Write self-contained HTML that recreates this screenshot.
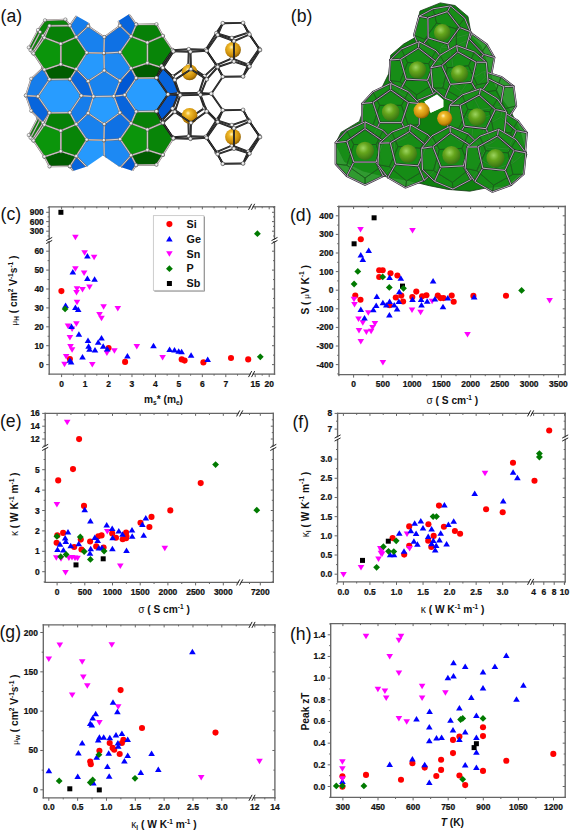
<!DOCTYPE html>
<html><head><meta charset="utf-8"><style>
html,body{margin:0;padding:0;background:#fff;}
body{width:571px;height:833px;overflow:hidden;}
svg{display:block;font-family:"Liberation Sans", sans-serif;}
</style></head><body>
<svg width="571" height="833" viewBox="0 0 571 833">
<defs>
<radialGradient id="ball" cx="0.38" cy="0.35" r="0.7"><stop offset="0" stop-color="#ffffff"/><stop offset="0.6" stop-color="#d8d8d8"/><stop offset="1" stop-color="#8a8a8a"/></radialGradient>
<radialGradient id="gold" cx="0.42" cy="0.38" r="0.7" fx="0.4" fy="0.33"><stop offset="0" stop-color="#fff4c0"/><stop offset="0.22" stop-color="#f2bc2c"/><stop offset="0.7" stop-color="#c88a08"/><stop offset="1" stop-color="#6a4400"/></radialGradient>
<clipPath id="clipA"><polygon points="0,14.5 74,14.5 86.5,21.5 102,31.5 117.5,21.5 128.5,14.5 285,14.5 285,172 136,172 119,166.5 103,155.5 87,166.5 70,172 0,172"/></clipPath>
</defs><g clip-path="url(#clipA)"><polygon points="45.0,20.3 65.4,19.5 70.2,25.6 48.9,25.6 44.1,37.4 33.7,52.6 28.8,47.5 38.0,30.0" fill="#0a840a" stroke="#7a7070" stroke-width="1.6" stroke-linejoin="round"/>
<polygon points="45.0,20.3 65.4,19.5 70.2,25.6 48.9,25.6 44.1,37.4 33.7,52.6 28.8,47.5 38.0,30.0" fill="none" stroke="#ece6e6" stroke-width="0.75" stroke-linejoin="round"/>
<line x1="40.1" y1="32.1" x2="30.6" y2="50.2" stroke="#7a7070" stroke-width="1.5"/>
<line x1="40.1" y1="32.1" x2="30.6" y2="50.2" stroke="#ece6e6" stroke-width="0.7"/>
<circle cx="38" cy="30.0" r="1.7" fill="url(#ball)" stroke="#555" stroke-width="0.45"/>
<circle cx="40.1" cy="32.1" r="1.7" fill="url(#ball)" stroke="#555" stroke-width="0.45"/>
<circle cx="28.8" cy="47.5" r="1.7" fill="url(#ball)" stroke="#555" stroke-width="0.45"/>
<circle cx="30.6" cy="50.2" r="1.7" fill="url(#ball)" stroke="#555" stroke-width="0.45"/>
<circle cx="45" cy="20.3" r="1.7" fill="url(#ball)" stroke="#555" stroke-width="0.45"/>
<circle cx="65.4" cy="19.5" r="1.7" fill="url(#ball)" stroke="#555" stroke-width="0.45"/>
<polygon points="40.5,114.0 44.5,118.0 44.1,125.0 33.7,140.2 28.8,135.1 38.0,117.6" fill="#0a840a" stroke="#7a7070" stroke-width="1.6" stroke-linejoin="round"/>
<polygon points="40.5,114.0 44.5,118.0 44.1,125.0 33.7,140.2 28.8,135.1 38.0,117.6" fill="none" stroke="#ece6e6" stroke-width="0.75" stroke-linejoin="round"/>
<line x1="40.1" y1="119.7" x2="30.6" y2="137.8" stroke="#7a7070" stroke-width="1.5"/>
<line x1="40.1" y1="119.7" x2="30.6" y2="137.8" stroke="#ece6e6" stroke-width="0.7"/>
<circle cx="38" cy="117.6" r="1.7" fill="url(#ball)" stroke="#555" stroke-width="0.45"/>
<circle cx="40.1" cy="119.7" r="1.7" fill="url(#ball)" stroke="#555" stroke-width="0.45"/>
<circle cx="28.8" cy="135.1" r="1.7" fill="url(#ball)" stroke="#555" stroke-width="0.45"/>
<circle cx="30.6" cy="137.8" r="1.7" fill="url(#ball)" stroke="#555" stroke-width="0.45"/><polygon points="178.8,93.2 168.0,94.4 156.5,111.3 161.6,121.0 172.6,108.6" fill="#0058d4" stroke="#0058d4" stroke-width="0.4"/>
<polygon points="178.8,93.2 168.0,94.4 156.5,111.3 161.6,121.0 172.6,108.6" fill="none" stroke="#7a7070" stroke-width="1.7" stroke-linejoin="round"/>
<polygon points="178.8,93.2 168.0,94.4 156.5,111.3 161.6,121.0 172.6,108.6" fill="none" stroke="#ece6e6" stroke-width="0.8" stroke-linejoin="round"/>
<circle cx="178.8" cy="93.2" r="1.7" fill="url(#ball)" stroke="#555" stroke-width="0.45"/>
<circle cx="168.0" cy="94.4" r="1.7" fill="url(#ball)" stroke="#555" stroke-width="0.45"/>
<circle cx="156.5" cy="111.3" r="1.7" fill="url(#ball)" stroke="#555" stroke-width="0.45"/>
<circle cx="161.6" cy="121.0" r="1.7" fill="url(#ball)" stroke="#555" stroke-width="0.45"/>
<circle cx="172.6" cy="108.6" r="1.7" fill="url(#ball)" stroke="#555" stroke-width="0.45"/>
<polygon points="145.3,126.4 161.6,121.0 156.5,111.3 136.2,111.6 129.8,121.5" fill="#0058d4" stroke="#0058d4" stroke-width="0.4"/>
<polygon points="145.3,126.4 161.6,121.0 156.5,111.3 136.2,111.6 129.8,121.5" fill="none" stroke="#7a7070" stroke-width="1.7" stroke-linejoin="round"/>
<polygon points="145.3,126.4 161.6,121.0 156.5,111.3 136.2,111.6 129.8,121.5" fill="none" stroke="#ece6e6" stroke-width="0.8" stroke-linejoin="round"/>
<circle cx="145.3" cy="126.4" r="1.7" fill="url(#ball)" stroke="#555" stroke-width="0.45"/>
<circle cx="161.6" cy="121.0" r="1.7" fill="url(#ball)" stroke="#555" stroke-width="0.45"/>
<circle cx="156.5" cy="111.3" r="1.7" fill="url(#ball)" stroke="#555" stroke-width="0.45"/>
<circle cx="136.2" cy="111.6" r="1.7" fill="url(#ball)" stroke="#555" stroke-width="0.45"/>
<circle cx="129.8" cy="121.5" r="1.7" fill="url(#ball)" stroke="#555" stroke-width="0.45"/>
<polygon points="172.6,76.6 161.6,66.0 156.5,77.8 168.0,94.4 178.8,93.2" fill="#0764dc" stroke="#0764dc" stroke-width="0.4"/>
<polygon points="172.6,76.6 161.6,66.0 156.5,77.8 168.0,94.4 178.8,93.2" fill="none" stroke="#7a7070" stroke-width="1.7" stroke-linejoin="round"/>
<polygon points="172.6,76.6 161.6,66.0 156.5,77.8 168.0,94.4 178.8,93.2" fill="none" stroke="#ece6e6" stroke-width="0.8" stroke-linejoin="round"/>
<circle cx="172.6" cy="76.6" r="1.7" fill="url(#ball)" stroke="#555" stroke-width="0.45"/>
<circle cx="161.6" cy="66.0" r="1.7" fill="url(#ball)" stroke="#555" stroke-width="0.45"/>
<circle cx="156.5" cy="77.8" r="1.7" fill="url(#ball)" stroke="#555" stroke-width="0.45"/>
<circle cx="168.0" cy="94.4" r="1.7" fill="url(#ball)" stroke="#555" stroke-width="0.45"/>
<circle cx="178.8" cy="93.2" r="1.7" fill="url(#ball)" stroke="#555" stroke-width="0.45"/>
<polygon points="117.8,109.5 129.8,121.5 136.2,111.6 124.7,95.0 112.5,94.2" fill="#0865dc" stroke="#0865dc" stroke-width="0.4"/>
<polygon points="117.8,109.5 129.8,121.5 136.2,111.6 124.7,95.0 112.5,94.2" fill="none" stroke="#7a7070" stroke-width="1.7" stroke-linejoin="round"/>
<polygon points="117.8,109.5 129.8,121.5 136.2,111.6 124.7,95.0 112.5,94.2" fill="none" stroke="#ece6e6" stroke-width="0.8" stroke-linejoin="round"/>
<circle cx="117.8" cy="109.5" r="1.7" fill="url(#ball)" stroke="#555" stroke-width="0.45"/>
<circle cx="129.8" cy="121.5" r="1.7" fill="url(#ball)" stroke="#555" stroke-width="0.45"/>
<circle cx="136.2" cy="111.6" r="1.7" fill="url(#ball)" stroke="#555" stroke-width="0.45"/>
<circle cx="124.7" cy="95.0" r="1.7" fill="url(#ball)" stroke="#555" stroke-width="0.45"/>
<circle cx="112.5" cy="94.2" r="1.7" fill="url(#ball)" stroke="#555" stroke-width="0.45"/>
<polygon points="112.5,94.2 124.7,95.0 136.2,78.1 129.8,66.4 117.8,77.5" fill="#167deb" stroke="#167deb" stroke-width="0.4"/>
<polygon points="112.5,94.2 124.7,95.0 136.2,78.1 129.8,66.4 117.8,77.5" fill="none" stroke="#7a7070" stroke-width="1.7" stroke-linejoin="round"/>
<polygon points="112.5,94.2 124.7,95.0 136.2,78.1 129.8,66.4 117.8,77.5" fill="none" stroke="#ece6e6" stroke-width="0.8" stroke-linejoin="round"/>
<circle cx="112.5" cy="94.2" r="1.7" fill="url(#ball)" stroke="#555" stroke-width="0.45"/>
<circle cx="124.7" cy="95.0" r="1.7" fill="url(#ball)" stroke="#555" stroke-width="0.45"/>
<circle cx="136.2" cy="78.1" r="1.7" fill="url(#ball)" stroke="#555" stroke-width="0.45"/>
<circle cx="129.8" cy="66.4" r="1.7" fill="url(#ball)" stroke="#555" stroke-width="0.45"/>
<circle cx="117.8" cy="77.5" r="1.7" fill="url(#ball)" stroke="#555" stroke-width="0.45"/>
<polygon points="145.3,59.8 129.8,66.4 136.2,78.1 156.5,77.8 161.6,66.0" fill="#1882ee" stroke="#1882ee" stroke-width="0.4"/>
<polygon points="145.3,59.8 129.8,66.4 136.2,78.1 156.5,77.8 161.6,66.0" fill="none" stroke="#7a7070" stroke-width="1.7" stroke-linejoin="round"/>
<polygon points="145.3,59.8 129.8,66.4 136.2,78.1 156.5,77.8 161.6,66.0" fill="none" stroke="#ece6e6" stroke-width="0.8" stroke-linejoin="round"/>
<circle cx="145.3" cy="59.8" r="1.7" fill="url(#ball)" stroke="#555" stroke-width="0.45"/>
<circle cx="129.8" cy="66.4" r="1.7" fill="url(#ball)" stroke="#555" stroke-width="0.45"/>
<circle cx="136.2" cy="78.1" r="1.7" fill="url(#ball)" stroke="#555" stroke-width="0.45"/>
<circle cx="156.5" cy="77.8" r="1.7" fill="url(#ball)" stroke="#555" stroke-width="0.45"/>
<circle cx="161.6" cy="66.0" r="1.7" fill="url(#ball)" stroke="#555" stroke-width="0.45"/>
<polygon points="92.2,94.5 81.4,95.7 69.9,112.6 75.0,122.4 86.0,110.0" fill="#0058d4" stroke="#0058d4" stroke-width="0.4"/>
<polygon points="92.2,94.5 81.4,95.7 69.9,112.6 75.0,122.4 86.0,110.0" fill="none" stroke="#7a7070" stroke-width="1.7" stroke-linejoin="round"/>
<polygon points="92.2,94.5 81.4,95.7 69.9,112.6 75.0,122.4 86.0,110.0" fill="none" stroke="#ece6e6" stroke-width="0.8" stroke-linejoin="round"/>
<circle cx="92.2" cy="94.5" r="1.7" fill="url(#ball)" stroke="#555" stroke-width="0.45"/>
<circle cx="81.4" cy="95.7" r="1.7" fill="url(#ball)" stroke="#555" stroke-width="0.45"/>
<circle cx="69.9" cy="112.6" r="1.7" fill="url(#ball)" stroke="#555" stroke-width="0.45"/>
<circle cx="75.0" cy="122.4" r="1.7" fill="url(#ball)" stroke="#555" stroke-width="0.45"/>
<circle cx="86.0" cy="110.0" r="1.7" fill="url(#ball)" stroke="#555" stroke-width="0.45"/>
<polygon points="75.0,122.4 69.9,112.6 49.5,112.9 43.1,122.8 58.6,127.7" fill="#0058d4" stroke="#0058d4" stroke-width="0.4"/>
<polygon points="75.0,122.4 69.9,112.6 49.5,112.9 43.1,122.8 58.6,127.7" fill="none" stroke="#7a7070" stroke-width="1.7" stroke-linejoin="round"/>
<polygon points="75.0,122.4 69.9,112.6 49.5,112.9 43.1,122.8 58.6,127.7" fill="none" stroke="#ece6e6" stroke-width="0.8" stroke-linejoin="round"/>
<circle cx="75.0" cy="122.4" r="1.7" fill="url(#ball)" stroke="#555" stroke-width="0.45"/>
<circle cx="69.9" cy="112.6" r="1.7" fill="url(#ball)" stroke="#555" stroke-width="0.45"/>
<circle cx="49.5" cy="112.9" r="1.7" fill="url(#ball)" stroke="#555" stroke-width="0.45"/>
<circle cx="43.1" cy="122.8" r="1.7" fill="url(#ball)" stroke="#555" stroke-width="0.45"/>
<circle cx="58.6" cy="127.7" r="1.7" fill="url(#ball)" stroke="#555" stroke-width="0.45"/>
<polygon points="86.0,78.0 75.0,67.3 69.9,79.1 81.4,95.7 92.2,94.5" fill="#0764dc" stroke="#0764dc" stroke-width="0.4"/>
<polygon points="86.0,78.0 75.0,67.3 69.9,79.1 81.4,95.7 92.2,94.5" fill="none" stroke="#7a7070" stroke-width="1.7" stroke-linejoin="round"/>
<polygon points="86.0,78.0 75.0,67.3 69.9,79.1 81.4,95.7 92.2,94.5" fill="none" stroke="#ece6e6" stroke-width="0.8" stroke-linejoin="round"/>
<circle cx="86.0" cy="78.0" r="1.7" fill="url(#ball)" stroke="#555" stroke-width="0.45"/>
<circle cx="75.0" cy="67.3" r="1.7" fill="url(#ball)" stroke="#555" stroke-width="0.45"/>
<circle cx="69.9" cy="79.1" r="1.7" fill="url(#ball)" stroke="#555" stroke-width="0.45"/>
<circle cx="81.4" cy="95.7" r="1.7" fill="url(#ball)" stroke="#555" stroke-width="0.45"/>
<circle cx="92.2" cy="94.5" r="1.7" fill="url(#ball)" stroke="#555" stroke-width="0.45"/>
<polygon points="31.2,110.8 43.1,122.8 49.5,112.9 38.0,96.4 25.9,95.5" fill="#0865dc" stroke="#0865dc" stroke-width="0.4"/>
<polygon points="31.2,110.8 43.1,122.8 49.5,112.9 38.0,96.4 25.9,95.5" fill="none" stroke="#7a7070" stroke-width="1.7" stroke-linejoin="round"/>
<polygon points="31.2,110.8 43.1,122.8 49.5,112.9 38.0,96.4 25.9,95.5" fill="none" stroke="#ece6e6" stroke-width="0.8" stroke-linejoin="round"/>
<circle cx="31.2" cy="110.8" r="1.7" fill="url(#ball)" stroke="#555" stroke-width="0.45"/>
<circle cx="43.1" cy="122.8" r="1.7" fill="url(#ball)" stroke="#555" stroke-width="0.45"/>
<circle cx="49.5" cy="112.9" r="1.7" fill="url(#ball)" stroke="#555" stroke-width="0.45"/>
<circle cx="38.0" cy="96.4" r="1.7" fill="url(#ball)" stroke="#555" stroke-width="0.45"/>
<circle cx="25.9" cy="95.5" r="1.7" fill="url(#ball)" stroke="#555" stroke-width="0.45"/>
<polygon points="25.9,95.5 38.0,96.4 49.5,79.4 43.1,67.8 31.2,78.8" fill="#167deb" stroke="#167deb" stroke-width="0.4"/>
<polygon points="25.9,95.5 38.0,96.4 49.5,79.4 43.1,67.8 31.2,78.8" fill="none" stroke="#7a7070" stroke-width="1.7" stroke-linejoin="round"/>
<polygon points="25.9,95.5 38.0,96.4 49.5,79.4 43.1,67.8 31.2,78.8" fill="none" stroke="#ece6e6" stroke-width="0.8" stroke-linejoin="round"/>
<circle cx="25.9" cy="95.5" r="1.7" fill="url(#ball)" stroke="#555" stroke-width="0.45"/>
<circle cx="38.0" cy="96.4" r="1.7" fill="url(#ball)" stroke="#555" stroke-width="0.45"/>
<circle cx="49.5" cy="79.4" r="1.7" fill="url(#ball)" stroke="#555" stroke-width="0.45"/>
<circle cx="43.1" cy="67.8" r="1.7" fill="url(#ball)" stroke="#555" stroke-width="0.45"/>
<circle cx="31.2" cy="78.8" r="1.7" fill="url(#ball)" stroke="#555" stroke-width="0.45"/>
<polygon points="43.1,67.8 49.5,79.4 69.9,79.1 75.0,67.3 58.6,61.1" fill="#1882ee" stroke="#1882ee" stroke-width="0.4"/>
<polygon points="43.1,67.8 49.5,79.4 69.9,79.1 75.0,67.3 58.6,61.1" fill="none" stroke="#7a7070" stroke-width="1.7" stroke-linejoin="round"/>
<polygon points="43.1,67.8 49.5,79.4 69.9,79.1 75.0,67.3 58.6,61.1" fill="none" stroke="#ece6e6" stroke-width="0.8" stroke-linejoin="round"/>
<circle cx="43.1" cy="67.8" r="1.7" fill="url(#ball)" stroke="#555" stroke-width="0.45"/>
<circle cx="49.5" cy="79.4" r="1.7" fill="url(#ball)" stroke="#555" stroke-width="0.45"/>
<circle cx="69.9" cy="79.1" r="1.7" fill="url(#ball)" stroke="#555" stroke-width="0.45"/>
<circle cx="75.0" cy="67.3" r="1.7" fill="url(#ball)" stroke="#555" stroke-width="0.45"/>
<circle cx="58.6" cy="61.1" r="1.7" fill="url(#ball)" stroke="#555" stroke-width="0.45"/>
<polygon points="131.1,123.4 136.2,111.6 129.8,121.5 119.3,138.0 120.1,139.2" fill="#005c00" stroke="#005c00" stroke-width="0.4"/>
<polygon points="131.1,123.4 136.2,111.6 129.8,121.5 119.3,138.0 120.1,139.2" fill="none" stroke="#7a7070" stroke-width="1.7" stroke-linejoin="round"/>
<polygon points="131.1,123.4 136.2,111.6 129.8,121.5 119.3,138.0 120.1,139.2" fill="none" stroke="#ece6e6" stroke-width="0.8" stroke-linejoin="round"/>
<circle cx="131.1" cy="123.4" r="1.7" fill="url(#ball)" stroke="#555" stroke-width="0.45"/>
<circle cx="136.2" cy="111.6" r="1.7" fill="url(#ball)" stroke="#555" stroke-width="0.45"/>
<circle cx="129.8" cy="121.5" r="1.7" fill="url(#ball)" stroke="#555" stroke-width="0.45"/>
<circle cx="119.3" cy="138.0" r="1.7" fill="url(#ball)" stroke="#555" stroke-width="0.45"/>
<circle cx="120.1" cy="139.2" r="1.7" fill="url(#ball)" stroke="#555" stroke-width="0.45"/>
<polygon points="76.3,156.2 86.8,139.7 85.9,138.5 75.0,154.3 69.9,166.2" fill="#0058d4" stroke="#0058d4" stroke-width="0.4"/>
<polygon points="76.3,156.2 86.8,139.7 85.9,138.5 75.0,154.3 69.9,166.2" fill="none" stroke="#7a7070" stroke-width="1.7" stroke-linejoin="round"/>
<polygon points="76.3,156.2 86.8,139.7 85.9,138.5 75.0,154.3 69.9,166.2" fill="none" stroke="#ece6e6" stroke-width="0.8" stroke-linejoin="round"/>
<circle cx="76.3" cy="156.2" r="1.7" fill="url(#ball)" stroke="#555" stroke-width="0.45"/>
<circle cx="86.8" cy="139.7" r="1.7" fill="url(#ball)" stroke="#555" stroke-width="0.45"/>
<circle cx="85.9" cy="138.5" r="1.7" fill="url(#ball)" stroke="#555" stroke-width="0.45"/>
<circle cx="75.0" cy="154.3" r="1.7" fill="url(#ball)" stroke="#555" stroke-width="0.45"/>
<circle cx="69.9" cy="166.2" r="1.7" fill="url(#ball)" stroke="#555" stroke-width="0.45"/>
<polygon points="168.0,94.4 156.5,77.8 136.2,78.1 124.7,95.0 136.2,111.6 156.5,111.3" fill="#289cff" stroke="#289cff" stroke-width="0.4"/>
<polygon points="168.0,94.4 156.5,77.8 136.2,78.1 124.7,95.0 136.2,111.6 156.5,111.3" fill="none" stroke="#7a7070" stroke-width="1.7" stroke-linejoin="round"/>
<polygon points="168.0,94.4 156.5,77.8 136.2,78.1 124.7,95.0 136.2,111.6 156.5,111.3" fill="none" stroke="#ece6e6" stroke-width="0.8" stroke-linejoin="round"/>
<circle cx="168.0" cy="94.4" r="1.7" fill="url(#ball)" stroke="#555" stroke-width="0.45"/>
<circle cx="156.5" cy="77.8" r="1.7" fill="url(#ball)" stroke="#555" stroke-width="0.45"/>
<circle cx="136.2" cy="78.1" r="1.7" fill="url(#ball)" stroke="#555" stroke-width="0.45"/>
<circle cx="124.7" cy="95.0" r="1.7" fill="url(#ball)" stroke="#555" stroke-width="0.45"/>
<circle cx="136.2" cy="111.6" r="1.7" fill="url(#ball)" stroke="#555" stroke-width="0.45"/>
<circle cx="156.5" cy="111.3" r="1.7" fill="url(#ball)" stroke="#555" stroke-width="0.45"/>
<polygon points="112.5,94.2 92.2,94.5 81.4,95.7 93.5,96.5 113.8,96.2 124.7,95.0" fill="#0058d4" stroke="#0058d4" stroke-width="0.4"/>
<polygon points="112.5,94.2 92.2,94.5 81.4,95.7 93.5,96.5 113.8,96.2 124.7,95.0" fill="none" stroke="#7a7070" stroke-width="1.7" stroke-linejoin="round"/>
<polygon points="112.5,94.2 92.2,94.5 81.4,95.7 93.5,96.5 113.8,96.2 124.7,95.0" fill="none" stroke="#ece6e6" stroke-width="0.8" stroke-linejoin="round"/>
<circle cx="112.5" cy="94.2" r="1.7" fill="url(#ball)" stroke="#555" stroke-width="0.45"/>
<circle cx="92.2" cy="94.5" r="1.7" fill="url(#ball)" stroke="#555" stroke-width="0.45"/>
<circle cx="81.4" cy="95.7" r="1.7" fill="url(#ball)" stroke="#555" stroke-width="0.45"/>
<circle cx="93.5" cy="96.5" r="1.7" fill="url(#ball)" stroke="#555" stroke-width="0.45"/>
<circle cx="113.8" cy="96.2" r="1.7" fill="url(#ball)" stroke="#555" stroke-width="0.45"/>
<circle cx="124.7" cy="95.0" r="1.7" fill="url(#ball)" stroke="#555" stroke-width="0.45"/>
<polygon points="44.4,124.8 49.5,112.9 43.1,122.8 32.6,139.3 33.5,140.6" fill="#005c00" stroke="#005c00" stroke-width="0.4"/>
<polygon points="44.4,124.8 49.5,112.9 43.1,122.8 32.6,139.3 33.5,140.6" fill="none" stroke="#7a7070" stroke-width="1.7" stroke-linejoin="round"/>
<polygon points="44.4,124.8 49.5,112.9 43.1,122.8 32.6,139.3 33.5,140.6" fill="none" stroke="#ece6e6" stroke-width="0.8" stroke-linejoin="round"/>
<circle cx="44.4" cy="124.8" r="1.7" fill="url(#ball)" stroke="#555" stroke-width="0.45"/>
<circle cx="49.5" cy="112.9" r="1.7" fill="url(#ball)" stroke="#555" stroke-width="0.45"/>
<circle cx="43.1" cy="122.8" r="1.7" fill="url(#ball)" stroke="#555" stroke-width="0.45"/>
<circle cx="32.6" cy="139.3" r="1.7" fill="url(#ball)" stroke="#555" stroke-width="0.45"/>
<circle cx="33.5" cy="140.6" r="1.7" fill="url(#ball)" stroke="#555" stroke-width="0.45"/>
<polygon points="69.9,79.1 49.5,79.4 38.0,96.4 49.5,112.9 69.9,112.6 81.4,95.7" fill="#289cff" stroke="#289cff" stroke-width="0.4"/>
<polygon points="69.9,79.1 49.5,79.4 38.0,96.4 49.5,112.9 69.9,112.6 81.4,95.7" fill="none" stroke="#7a7070" stroke-width="1.7" stroke-linejoin="round"/>
<polygon points="69.9,79.1 49.5,79.4 38.0,96.4 49.5,112.9 69.9,112.6 81.4,95.7" fill="none" stroke="#ece6e6" stroke-width="0.8" stroke-linejoin="round"/>
<circle cx="69.9" cy="79.1" r="1.7" fill="url(#ball)" stroke="#555" stroke-width="0.45"/>
<circle cx="49.5" cy="79.4" r="1.7" fill="url(#ball)" stroke="#555" stroke-width="0.45"/>
<circle cx="38.0" cy="96.4" r="1.7" fill="url(#ball)" stroke="#555" stroke-width="0.45"/>
<circle cx="49.5" cy="112.9" r="1.7" fill="url(#ball)" stroke="#555" stroke-width="0.45"/>
<circle cx="69.9" cy="112.6" r="1.7" fill="url(#ball)" stroke="#555" stroke-width="0.45"/>
<circle cx="81.4" cy="95.7" r="1.7" fill="url(#ball)" stroke="#555" stroke-width="0.45"/>
<polygon points="131.1,36.4 136.2,24.5 129.8,34.5 119.3,51.0 120.1,52.2" fill="#005c00" stroke="#005c00" stroke-width="0.4"/>
<polygon points="131.1,36.4 136.2,24.5 129.8,34.5 119.3,51.0 120.1,52.2" fill="none" stroke="#7a7070" stroke-width="1.7" stroke-linejoin="round"/>
<polygon points="131.1,36.4 136.2,24.5 129.8,34.5 119.3,51.0 120.1,52.2" fill="none" stroke="#ece6e6" stroke-width="0.8" stroke-linejoin="round"/>
<circle cx="131.1" cy="36.4" r="1.7" fill="url(#ball)" stroke="#555" stroke-width="0.45"/>
<circle cx="136.2" cy="24.5" r="1.7" fill="url(#ball)" stroke="#555" stroke-width="0.45"/>
<circle cx="129.8" cy="34.5" r="1.7" fill="url(#ball)" stroke="#555" stroke-width="0.45"/>
<circle cx="119.3" cy="51.0" r="1.7" fill="url(#ball)" stroke="#555" stroke-width="0.45"/>
<circle cx="120.1" cy="52.2" r="1.7" fill="url(#ball)" stroke="#555" stroke-width="0.45"/>
<polygon points="120.1,52.2 119.3,51.0 102.1,50.5 85.9,51.5 86.8,52.7 103.9,53.1" fill="#0058d4" stroke="#0058d4" stroke-width="0.4"/>
<polygon points="120.1,52.2 119.3,51.0 102.1,50.5 85.9,51.5 86.8,52.7 103.9,53.1" fill="none" stroke="#7a7070" stroke-width="1.7" stroke-linejoin="round"/>
<polygon points="120.1,52.2 119.3,51.0 102.1,50.5 85.9,51.5 86.8,52.7 103.9,53.1" fill="none" stroke="#ece6e6" stroke-width="0.8" stroke-linejoin="round"/>
<circle cx="120.1" cy="52.2" r="1.7" fill="url(#ball)" stroke="#555" stroke-width="0.45"/>
<circle cx="119.3" cy="51.0" r="1.7" fill="url(#ball)" stroke="#555" stroke-width="0.45"/>
<circle cx="102.1" cy="50.5" r="1.7" fill="url(#ball)" stroke="#555" stroke-width="0.45"/>
<circle cx="85.9" cy="51.5" r="1.7" fill="url(#ball)" stroke="#555" stroke-width="0.45"/>
<circle cx="86.8" cy="52.7" r="1.7" fill="url(#ball)" stroke="#555" stroke-width="0.45"/>
<circle cx="103.9" cy="53.1" r="1.7" fill="url(#ball)" stroke="#555" stroke-width="0.45"/>
<polygon points="76.3,69.2 86.8,52.7 85.9,51.5 75.0,67.3 69.9,79.1" fill="#0058d4" stroke="#0058d4" stroke-width="0.4"/>
<polygon points="76.3,69.2 86.8,52.7 85.9,51.5 75.0,67.3 69.9,79.1" fill="none" stroke="#7a7070" stroke-width="1.7" stroke-linejoin="round"/>
<polygon points="76.3,69.2 86.8,52.7 85.9,51.5 75.0,67.3 69.9,79.1" fill="none" stroke="#ece6e6" stroke-width="0.8" stroke-linejoin="round"/>
<circle cx="76.3" cy="69.2" r="1.7" fill="url(#ball)" stroke="#555" stroke-width="0.45"/>
<circle cx="86.8" cy="52.7" r="1.7" fill="url(#ball)" stroke="#555" stroke-width="0.45"/>
<circle cx="85.9" cy="51.5" r="1.7" fill="url(#ball)" stroke="#555" stroke-width="0.45"/>
<circle cx="75.0" cy="67.3" r="1.7" fill="url(#ball)" stroke="#555" stroke-width="0.45"/>
<circle cx="69.9" cy="79.1" r="1.7" fill="url(#ball)" stroke="#555" stroke-width="0.45"/>
<polygon points="44.4,37.7 49.5,25.9 43.1,35.8 32.6,52.3 33.5,53.5" fill="#005c00" stroke="#005c00" stroke-width="0.4"/>
<polygon points="44.4,37.7 49.5,25.9 43.1,35.8 32.6,52.3 33.5,53.5" fill="none" stroke="#7a7070" stroke-width="1.7" stroke-linejoin="round"/>
<polygon points="44.4,37.7 49.5,25.9 43.1,35.8 32.6,52.3 33.5,53.5" fill="none" stroke="#ece6e6" stroke-width="0.8" stroke-linejoin="round"/>
<circle cx="44.4" cy="37.7" r="1.7" fill="url(#ball)" stroke="#555" stroke-width="0.45"/>
<circle cx="49.5" cy="25.9" r="1.7" fill="url(#ball)" stroke="#555" stroke-width="0.45"/>
<circle cx="43.1" cy="35.8" r="1.7" fill="url(#ball)" stroke="#555" stroke-width="0.45"/>
<circle cx="32.6" cy="52.3" r="1.7" fill="url(#ball)" stroke="#555" stroke-width="0.45"/>
<circle cx="33.5" cy="53.5" r="1.7" fill="url(#ball)" stroke="#555" stroke-width="0.45"/>
<polygon points="162.9,154.9 147.4,150.0 131.1,155.4 136.2,165.1 156.5,164.8" fill="#005c00" stroke="#005c00" stroke-width="0.4"/>
<polygon points="162.9,154.9 147.4,150.0 131.1,155.4 136.2,165.1 156.5,164.8" fill="none" stroke="#7a7070" stroke-width="1.7" stroke-linejoin="round"/>
<polygon points="162.9,154.9 147.4,150.0 131.1,155.4 136.2,165.1 156.5,164.8" fill="none" stroke="#ece6e6" stroke-width="0.8" stroke-linejoin="round"/>
<circle cx="162.9" cy="154.9" r="1.7" fill="url(#ball)" stroke="#555" stroke-width="0.45"/>
<circle cx="147.4" cy="150.0" r="1.7" fill="url(#ball)" stroke="#555" stroke-width="0.45"/>
<circle cx="131.1" cy="155.4" r="1.7" fill="url(#ball)" stroke="#555" stroke-width="0.45"/>
<circle cx="136.2" cy="165.1" r="1.7" fill="url(#ball)" stroke="#555" stroke-width="0.45"/>
<circle cx="156.5" cy="164.8" r="1.7" fill="url(#ball)" stroke="#555" stroke-width="0.45"/>
<polygon points="131.1,155.4 120.0,167.8 113.8,183.2 124.7,182.1 136.2,165.1" fill="#0058d4" stroke="#0058d4" stroke-width="0.4"/>
<polygon points="131.1,155.4 120.0,167.8 113.8,183.2 124.7,182.1 136.2,165.1" fill="none" stroke="#7a7070" stroke-width="1.7" stroke-linejoin="round"/>
<polygon points="131.1,155.4 120.0,167.8 113.8,183.2 124.7,182.1 136.2,165.1" fill="none" stroke="#ece6e6" stroke-width="0.8" stroke-linejoin="round"/>
<circle cx="131.1" cy="155.4" r="1.7" fill="url(#ball)" stroke="#555" stroke-width="0.45"/>
<circle cx="120.0" cy="167.8" r="1.7" fill="url(#ball)" stroke="#555" stroke-width="0.45"/>
<circle cx="113.8" cy="183.2" r="1.7" fill="url(#ball)" stroke="#555" stroke-width="0.45"/>
<circle cx="124.7" cy="182.1" r="1.7" fill="url(#ball)" stroke="#555" stroke-width="0.45"/>
<circle cx="136.2" cy="165.1" r="1.7" fill="url(#ball)" stroke="#555" stroke-width="0.45"/>
<polygon points="69.9,166.2 81.4,182.7 93.5,183.5 88.2,168.3 76.3,156.2" fill="#0865dc" stroke="#0865dc" stroke-width="0.4"/>
<polygon points="69.9,166.2 81.4,182.7 93.5,183.5 88.2,168.3 76.3,156.2" fill="none" stroke="#7a7070" stroke-width="1.7" stroke-linejoin="round"/>
<polygon points="69.9,166.2 81.4,182.7 93.5,183.5 88.2,168.3 76.3,156.2" fill="none" stroke="#ece6e6" stroke-width="0.8" stroke-linejoin="round"/>
<circle cx="69.9" cy="166.2" r="1.7" fill="url(#ball)" stroke="#555" stroke-width="0.45"/>
<circle cx="81.4" cy="182.7" r="1.7" fill="url(#ball)" stroke="#555" stroke-width="0.45"/>
<circle cx="93.5" cy="183.5" r="1.7" fill="url(#ball)" stroke="#555" stroke-width="0.45"/>
<circle cx="88.2" cy="168.3" r="1.7" fill="url(#ball)" stroke="#555" stroke-width="0.45"/>
<circle cx="76.3" cy="156.2" r="1.7" fill="url(#ball)" stroke="#555" stroke-width="0.45"/>
<polygon points="131.1,123.4 147.4,129.6 162.9,122.9 156.5,111.3 136.2,111.6" fill="#078007" stroke="#078007" stroke-width="0.4"/>
<polygon points="131.1,123.4 147.4,129.6 162.9,122.9 156.5,111.3 136.2,111.6" fill="none" stroke="#7a7070" stroke-width="1.7" stroke-linejoin="round"/>
<polygon points="131.1,123.4 147.4,129.6 162.9,122.9 156.5,111.3 136.2,111.6" fill="none" stroke="#ece6e6" stroke-width="0.8" stroke-linejoin="round"/>
<circle cx="131.1" cy="123.4" r="1.7" fill="url(#ball)" stroke="#555" stroke-width="0.45"/>
<circle cx="147.4" cy="129.6" r="1.7" fill="url(#ball)" stroke="#555" stroke-width="0.45"/>
<circle cx="162.9" cy="122.9" r="1.7" fill="url(#ball)" stroke="#555" stroke-width="0.45"/>
<circle cx="156.5" cy="111.3" r="1.7" fill="url(#ball)" stroke="#555" stroke-width="0.45"/>
<circle cx="136.2" cy="111.6" r="1.7" fill="url(#ball)" stroke="#555" stroke-width="0.45"/>
<polygon points="49.5,166.5 69.9,166.2 76.3,156.2 60.8,151.3 44.4,156.7" fill="#005c00" stroke="#005c00" stroke-width="0.4"/>
<polygon points="49.5,166.5 69.9,166.2 76.3,156.2 60.8,151.3 44.4,156.7" fill="none" stroke="#7a7070" stroke-width="1.7" stroke-linejoin="round"/>
<polygon points="49.5,166.5 69.9,166.2 76.3,156.2 60.8,151.3 44.4,156.7" fill="none" stroke="#ece6e6" stroke-width="0.8" stroke-linejoin="round"/>
<circle cx="49.5" cy="166.5" r="1.7" fill="url(#ball)" stroke="#555" stroke-width="0.45"/>
<circle cx="69.9" cy="166.2" r="1.7" fill="url(#ball)" stroke="#555" stroke-width="0.45"/>
<circle cx="76.3" cy="156.2" r="1.7" fill="url(#ball)" stroke="#555" stroke-width="0.45"/>
<circle cx="60.8" cy="151.3" r="1.7" fill="url(#ball)" stroke="#555" stroke-width="0.45"/>
<circle cx="44.4" cy="156.7" r="1.7" fill="url(#ball)" stroke="#555" stroke-width="0.45"/>
<polygon points="136.2,111.6 124.7,95.0 113.8,96.2 120.0,112.7 131.1,123.4" fill="#0764dc" stroke="#0764dc" stroke-width="0.4"/>
<polygon points="136.2,111.6 124.7,95.0 113.8,96.2 120.0,112.7 131.1,123.4" fill="none" stroke="#7a7070" stroke-width="1.7" stroke-linejoin="round"/>
<polygon points="136.2,111.6 124.7,95.0 113.8,96.2 120.0,112.7 131.1,123.4" fill="none" stroke="#ece6e6" stroke-width="0.8" stroke-linejoin="round"/>
<circle cx="136.2" cy="111.6" r="1.7" fill="url(#ball)" stroke="#555" stroke-width="0.45"/>
<circle cx="124.7" cy="95.0" r="1.7" fill="url(#ball)" stroke="#555" stroke-width="0.45"/>
<circle cx="113.8" cy="96.2" r="1.7" fill="url(#ball)" stroke="#555" stroke-width="0.45"/>
<circle cx="120.0" cy="112.7" r="1.7" fill="url(#ball)" stroke="#555" stroke-width="0.45"/>
<circle cx="131.1" cy="123.4" r="1.7" fill="url(#ball)" stroke="#555" stroke-width="0.45"/>
<polygon points="136.2,78.1 156.5,77.8 162.9,67.9 147.4,63.0 131.1,68.4" fill="#005c00" stroke="#005c00" stroke-width="0.4"/>
<polygon points="136.2,78.1 156.5,77.8 162.9,67.9 147.4,63.0 131.1,68.4" fill="none" stroke="#7a7070" stroke-width="1.7" stroke-linejoin="round"/>
<polygon points="136.2,78.1 156.5,77.8 162.9,67.9 147.4,63.0 131.1,68.4" fill="none" stroke="#ece6e6" stroke-width="0.8" stroke-linejoin="round"/>
<circle cx="136.2" cy="78.1" r="1.7" fill="url(#ball)" stroke="#555" stroke-width="0.45"/>
<circle cx="156.5" cy="77.8" r="1.7" fill="url(#ball)" stroke="#555" stroke-width="0.45"/>
<circle cx="162.9" cy="67.9" r="1.7" fill="url(#ball)" stroke="#555" stroke-width="0.45"/>
<circle cx="147.4" cy="63.0" r="1.7" fill="url(#ball)" stroke="#555" stroke-width="0.45"/>
<circle cx="131.1" cy="68.4" r="1.7" fill="url(#ball)" stroke="#555" stroke-width="0.45"/>
<polygon points="131.1,68.4 120.0,80.8 113.8,96.2 124.7,95.0 136.2,78.1" fill="#0058d4" stroke="#0058d4" stroke-width="0.4"/>
<polygon points="131.1,68.4 120.0,80.8 113.8,96.2 124.7,95.0 136.2,78.1" fill="none" stroke="#7a7070" stroke-width="1.7" stroke-linejoin="round"/>
<polygon points="131.1,68.4 120.0,80.8 113.8,96.2 124.7,95.0 136.2,78.1" fill="none" stroke="#ece6e6" stroke-width="0.8" stroke-linejoin="round"/>
<circle cx="131.1" cy="68.4" r="1.7" fill="url(#ball)" stroke="#555" stroke-width="0.45"/>
<circle cx="120.0" cy="80.8" r="1.7" fill="url(#ball)" stroke="#555" stroke-width="0.45"/>
<circle cx="113.8" cy="96.2" r="1.7" fill="url(#ball)" stroke="#555" stroke-width="0.45"/>
<circle cx="124.7" cy="95.0" r="1.7" fill="url(#ball)" stroke="#555" stroke-width="0.45"/>
<circle cx="136.2" cy="78.1" r="1.7" fill="url(#ball)" stroke="#555" stroke-width="0.45"/>
<polygon points="69.9,112.6 49.5,112.9 44.4,124.8 60.8,130.9 76.3,124.3" fill="#078007" stroke="#078007" stroke-width="0.4"/>
<polygon points="69.9,112.6 49.5,112.9 44.4,124.8 60.8,130.9 76.3,124.3" fill="none" stroke="#7a7070" stroke-width="1.7" stroke-linejoin="round"/>
<polygon points="69.9,112.6 49.5,112.9 44.4,124.8 60.8,130.9 76.3,124.3" fill="none" stroke="#ece6e6" stroke-width="0.8" stroke-linejoin="round"/>
<circle cx="69.9" cy="112.6" r="1.7" fill="url(#ball)" stroke="#555" stroke-width="0.45"/>
<circle cx="49.5" cy="112.9" r="1.7" fill="url(#ball)" stroke="#555" stroke-width="0.45"/>
<circle cx="44.4" cy="124.8" r="1.7" fill="url(#ball)" stroke="#555" stroke-width="0.45"/>
<circle cx="60.8" cy="130.9" r="1.7" fill="url(#ball)" stroke="#555" stroke-width="0.45"/>
<circle cx="76.3" cy="124.3" r="1.7" fill="url(#ball)" stroke="#555" stroke-width="0.45"/>
<polygon points="76.3,124.3 88.2,113.2 93.5,96.5 81.4,95.7 69.9,112.6" fill="#167deb" stroke="#167deb" stroke-width="0.4"/>
<polygon points="76.3,124.3 88.2,113.2 93.5,96.5 81.4,95.7 69.9,112.6" fill="none" stroke="#7a7070" stroke-width="1.7" stroke-linejoin="round"/>
<polygon points="76.3,124.3 88.2,113.2 93.5,96.5 81.4,95.7 69.9,112.6" fill="none" stroke="#ece6e6" stroke-width="0.8" stroke-linejoin="round"/>
<circle cx="76.3" cy="124.3" r="1.7" fill="url(#ball)" stroke="#555" stroke-width="0.45"/>
<circle cx="88.2" cy="113.2" r="1.7" fill="url(#ball)" stroke="#555" stroke-width="0.45"/>
<circle cx="93.5" cy="96.5" r="1.7" fill="url(#ball)" stroke="#555" stroke-width="0.45"/>
<circle cx="81.4" cy="95.7" r="1.7" fill="url(#ball)" stroke="#555" stroke-width="0.45"/>
<circle cx="69.9" cy="112.6" r="1.7" fill="url(#ball)" stroke="#555" stroke-width="0.45"/>
<polygon points="69.9,79.1 81.4,95.7 93.5,96.5 88.2,81.2 76.3,69.2" fill="#0865dc" stroke="#0865dc" stroke-width="0.4"/>
<polygon points="69.9,79.1 81.4,95.7 93.5,96.5 88.2,81.2 76.3,69.2" fill="none" stroke="#7a7070" stroke-width="1.7" stroke-linejoin="round"/>
<polygon points="69.9,79.1 81.4,95.7 93.5,96.5 88.2,81.2 76.3,69.2" fill="none" stroke="#ece6e6" stroke-width="0.8" stroke-linejoin="round"/>
<circle cx="69.9" cy="79.1" r="1.7" fill="url(#ball)" stroke="#555" stroke-width="0.45"/>
<circle cx="81.4" cy="95.7" r="1.7" fill="url(#ball)" stroke="#555" stroke-width="0.45"/>
<circle cx="93.5" cy="96.5" r="1.7" fill="url(#ball)" stroke="#555" stroke-width="0.45"/>
<circle cx="88.2" cy="81.2" r="1.7" fill="url(#ball)" stroke="#555" stroke-width="0.45"/>
<circle cx="76.3" cy="69.2" r="1.7" fill="url(#ball)" stroke="#555" stroke-width="0.45"/>
<polygon points="156.5,24.2 136.2,24.5 131.1,36.4 147.4,42.6 162.9,35.9" fill="#078007" stroke="#078007" stroke-width="0.4"/>
<polygon points="156.5,24.2 136.2,24.5 131.1,36.4 147.4,42.6 162.9,35.9" fill="none" stroke="#7a7070" stroke-width="1.7" stroke-linejoin="round"/>
<polygon points="156.5,24.2 136.2,24.5 131.1,36.4 147.4,42.6 162.9,35.9" fill="none" stroke="#ece6e6" stroke-width="0.8" stroke-linejoin="round"/>
<circle cx="156.5" cy="24.2" r="1.7" fill="url(#ball)" stroke="#555" stroke-width="0.45"/>
<circle cx="136.2" cy="24.5" r="1.7" fill="url(#ball)" stroke="#555" stroke-width="0.45"/>
<circle cx="131.1" cy="36.4" r="1.7" fill="url(#ball)" stroke="#555" stroke-width="0.45"/>
<circle cx="147.4" cy="42.6" r="1.7" fill="url(#ball)" stroke="#555" stroke-width="0.45"/>
<circle cx="162.9" cy="35.9" r="1.7" fill="url(#ball)" stroke="#555" stroke-width="0.45"/>
<polygon points="162.9,154.9 173.4,138.4 162.9,122.9 147.4,129.6 147.4,150.0" fill="#088508" stroke="#088508" stroke-width="0.4"/>
<polygon points="162.9,154.9 173.4,138.4 162.9,122.9 147.4,129.6 147.4,150.0" fill="none" stroke="#7a7070" stroke-width="1.7" stroke-linejoin="round"/>
<polygon points="162.9,154.9 173.4,138.4 162.9,122.9 147.4,129.6 147.4,150.0" fill="none" stroke="#ece6e6" stroke-width="0.8" stroke-linejoin="round"/>
<circle cx="162.9" cy="154.9" r="1.7" fill="url(#ball)" stroke="#555" stroke-width="0.45"/>
<circle cx="173.4" cy="138.4" r="1.7" fill="url(#ball)" stroke="#555" stroke-width="0.45"/>
<circle cx="162.9" cy="122.9" r="1.7" fill="url(#ball)" stroke="#555" stroke-width="0.45"/>
<circle cx="147.4" cy="129.6" r="1.7" fill="url(#ball)" stroke="#555" stroke-width="0.45"/>
<circle cx="147.4" cy="150.0" r="1.7" fill="url(#ball)" stroke="#555" stroke-width="0.45"/>
<polygon points="76.3,69.2 60.8,64.3 44.4,69.7 49.5,79.4 69.9,79.1" fill="#005c00" stroke="#005c00" stroke-width="0.4"/>
<polygon points="76.3,69.2 60.8,64.3 44.4,69.7 49.5,79.4 69.9,79.1" fill="none" stroke="#7a7070" stroke-width="1.7" stroke-linejoin="round"/>
<polygon points="76.3,69.2 60.8,64.3 44.4,69.7 49.5,79.4 69.9,79.1" fill="none" stroke="#ece6e6" stroke-width="0.8" stroke-linejoin="round"/>
<circle cx="76.3" cy="69.2" r="1.7" fill="url(#ball)" stroke="#555" stroke-width="0.45"/>
<circle cx="60.8" cy="64.3" r="1.7" fill="url(#ball)" stroke="#555" stroke-width="0.45"/>
<circle cx="44.4" cy="69.7" r="1.7" fill="url(#ball)" stroke="#555" stroke-width="0.45"/>
<circle cx="49.5" cy="79.4" r="1.7" fill="url(#ball)" stroke="#555" stroke-width="0.45"/>
<circle cx="69.9" cy="79.1" r="1.7" fill="url(#ball)" stroke="#555" stroke-width="0.45"/>
<polygon points="131.1,123.4 120.1,139.2 131.1,155.4 147.4,150.0 147.4,129.6" fill="#0b950b" stroke="#0b950b" stroke-width="0.4"/>
<polygon points="131.1,123.4 120.1,139.2 131.1,155.4 147.4,150.0 147.4,129.6" fill="none" stroke="#7a7070" stroke-width="1.7" stroke-linejoin="round"/>
<polygon points="131.1,123.4 120.1,139.2 131.1,155.4 147.4,150.0 147.4,129.6" fill="none" stroke="#ece6e6" stroke-width="0.8" stroke-linejoin="round"/>
<circle cx="131.1" cy="123.4" r="1.7" fill="url(#ball)" stroke="#555" stroke-width="0.45"/>
<circle cx="120.1" cy="139.2" r="1.7" fill="url(#ball)" stroke="#555" stroke-width="0.45"/>
<circle cx="131.1" cy="155.4" r="1.7" fill="url(#ball)" stroke="#555" stroke-width="0.45"/>
<circle cx="147.4" cy="150.0" r="1.7" fill="url(#ball)" stroke="#555" stroke-width="0.45"/>
<circle cx="147.4" cy="129.6" r="1.7" fill="url(#ball)" stroke="#555" stroke-width="0.45"/>
<polygon points="136.2,24.5 124.7,8.0 113.8,9.2 120.0,25.7 131.1,36.4" fill="#0764dc" stroke="#0764dc" stroke-width="0.4"/>
<polygon points="136.2,24.5 124.7,8.0 113.8,9.2 120.0,25.7 131.1,36.4" fill="none" stroke="#7a7070" stroke-width="1.7" stroke-linejoin="round"/>
<polygon points="136.2,24.5 124.7,8.0 113.8,9.2 120.0,25.7 131.1,36.4" fill="none" stroke="#ece6e6" stroke-width="0.8" stroke-linejoin="round"/>
<circle cx="136.2" cy="24.5" r="1.7" fill="url(#ball)" stroke="#555" stroke-width="0.45"/>
<circle cx="124.7" cy="8.0" r="1.7" fill="url(#ball)" stroke="#555" stroke-width="0.45"/>
<circle cx="113.8" cy="9.2" r="1.7" fill="url(#ball)" stroke="#555" stroke-width="0.45"/>
<circle cx="120.0" cy="25.7" r="1.7" fill="url(#ball)" stroke="#555" stroke-width="0.45"/>
<circle cx="131.1" cy="36.4" r="1.7" fill="url(#ball)" stroke="#555" stroke-width="0.45"/>
<polygon points="44.4,37.7 60.8,43.9 76.3,37.2 69.9,25.6 49.5,25.9" fill="#078007" stroke="#078007" stroke-width="0.4"/>
<polygon points="44.4,37.7 60.8,43.9 76.3,37.2 69.9,25.6 49.5,25.9" fill="none" stroke="#7a7070" stroke-width="1.7" stroke-linejoin="round"/>
<polygon points="44.4,37.7 60.8,43.9 76.3,37.2 69.9,25.6 49.5,25.9" fill="none" stroke="#ece6e6" stroke-width="0.8" stroke-linejoin="round"/>
<circle cx="44.4" cy="37.7" r="1.7" fill="url(#ball)" stroke="#555" stroke-width="0.45"/>
<circle cx="60.8" cy="43.9" r="1.7" fill="url(#ball)" stroke="#555" stroke-width="0.45"/>
<circle cx="76.3" cy="37.2" r="1.7" fill="url(#ball)" stroke="#555" stroke-width="0.45"/>
<circle cx="69.9" cy="25.6" r="1.7" fill="url(#ball)" stroke="#555" stroke-width="0.45"/>
<circle cx="49.5" cy="25.9" r="1.7" fill="url(#ball)" stroke="#555" stroke-width="0.45"/>
<polygon points="76.3,37.2 88.2,26.2 93.5,9.5 81.4,8.6 69.9,25.6" fill="#167deb" stroke="#167deb" stroke-width="0.4"/>
<polygon points="76.3,37.2 88.2,26.2 93.5,9.5 81.4,8.6 69.9,25.6" fill="none" stroke="#7a7070" stroke-width="1.7" stroke-linejoin="round"/>
<polygon points="76.3,37.2 88.2,26.2 93.5,9.5 81.4,8.6 69.9,25.6" fill="none" stroke="#ece6e6" stroke-width="0.8" stroke-linejoin="round"/>
<circle cx="76.3" cy="37.2" r="1.7" fill="url(#ball)" stroke="#555" stroke-width="0.45"/>
<circle cx="88.2" cy="26.2" r="1.7" fill="url(#ball)" stroke="#555" stroke-width="0.45"/>
<circle cx="93.5" cy="9.5" r="1.7" fill="url(#ball)" stroke="#555" stroke-width="0.45"/>
<circle cx="81.4" cy="8.6" r="1.7" fill="url(#ball)" stroke="#555" stroke-width="0.45"/>
<circle cx="69.9" cy="25.6" r="1.7" fill="url(#ball)" stroke="#555" stroke-width="0.45"/>
<polygon points="60.8,130.9 60.8,151.3 76.3,156.2 86.8,139.7 76.3,124.3" fill="#088508" stroke="#088508" stroke-width="0.4"/>
<polygon points="60.8,130.9 60.8,151.3 76.3,156.2 86.8,139.7 76.3,124.3" fill="none" stroke="#7a7070" stroke-width="1.7" stroke-linejoin="round"/>
<polygon points="60.8,130.9 60.8,151.3 76.3,156.2 86.8,139.7 76.3,124.3" fill="none" stroke="#ece6e6" stroke-width="0.8" stroke-linejoin="round"/>
<circle cx="60.8" cy="130.9" r="1.7" fill="url(#ball)" stroke="#555" stroke-width="0.45"/>
<circle cx="60.8" cy="151.3" r="1.7" fill="url(#ball)" stroke="#555" stroke-width="0.45"/>
<circle cx="76.3" cy="156.2" r="1.7" fill="url(#ball)" stroke="#555" stroke-width="0.45"/>
<circle cx="86.8" cy="139.7" r="1.7" fill="url(#ball)" stroke="#555" stroke-width="0.45"/>
<circle cx="76.3" cy="124.3" r="1.7" fill="url(#ball)" stroke="#555" stroke-width="0.45"/>
<polygon points="120.0,167.8 131.1,155.4 120.1,139.2 103.9,140.2 104.3,157.6" fill="#1d89f3" stroke="#1d89f3" stroke-width="0.4"/>
<polygon points="120.0,167.8 131.1,155.4 120.1,139.2 103.9,140.2 104.3,157.6" fill="none" stroke="#7a7070" stroke-width="1.7" stroke-linejoin="round"/>
<polygon points="120.0,167.8 131.1,155.4 120.1,139.2 103.9,140.2 104.3,157.6" fill="none" stroke="#ece6e6" stroke-width="0.8" stroke-linejoin="round"/>
<circle cx="120.0" cy="167.8" r="1.7" fill="url(#ball)" stroke="#555" stroke-width="0.45"/>
<circle cx="131.1" cy="155.4" r="1.7" fill="url(#ball)" stroke="#555" stroke-width="0.45"/>
<circle cx="120.1" cy="139.2" r="1.7" fill="url(#ball)" stroke="#555" stroke-width="0.45"/>
<circle cx="103.9" cy="140.2" r="1.7" fill="url(#ball)" stroke="#555" stroke-width="0.45"/>
<circle cx="104.3" cy="157.6" r="1.7" fill="url(#ball)" stroke="#555" stroke-width="0.45"/>
<polygon points="60.8,151.3 60.8,130.9 44.4,124.8 33.5,140.6 44.4,156.7" fill="#0b950b" stroke="#0b950b" stroke-width="0.4"/>
<polygon points="60.8,151.3 60.8,130.9 44.4,124.8 33.5,140.6 44.4,156.7" fill="none" stroke="#7a7070" stroke-width="1.7" stroke-linejoin="round"/>
<polygon points="60.8,151.3 60.8,130.9 44.4,124.8 33.5,140.6 44.4,156.7" fill="none" stroke="#ece6e6" stroke-width="0.8" stroke-linejoin="round"/>
<circle cx="60.8" cy="151.3" r="1.7" fill="url(#ball)" stroke="#555" stroke-width="0.45"/>
<circle cx="60.8" cy="130.9" r="1.7" fill="url(#ball)" stroke="#555" stroke-width="0.45"/>
<circle cx="44.4" cy="124.8" r="1.7" fill="url(#ball)" stroke="#555" stroke-width="0.45"/>
<circle cx="33.5" cy="140.6" r="1.7" fill="url(#ball)" stroke="#555" stroke-width="0.45"/>
<circle cx="44.4" cy="156.7" r="1.7" fill="url(#ball)" stroke="#555" stroke-width="0.45"/>
<polygon points="104.3,157.6 103.9,140.2 86.8,139.7 76.3,156.2 88.2,168.3" fill="#2699fd" stroke="#2699fd" stroke-width="0.4"/>
<polygon points="104.3,157.6 103.9,140.2 86.8,139.7 76.3,156.2 88.2,168.3" fill="none" stroke="#7a7070" stroke-width="1.7" stroke-linejoin="round"/>
<polygon points="104.3,157.6 103.9,140.2 86.8,139.7 76.3,156.2 88.2,168.3" fill="none" stroke="#ece6e6" stroke-width="0.8" stroke-linejoin="round"/>
<circle cx="104.3" cy="157.6" r="1.7" fill="url(#ball)" stroke="#555" stroke-width="0.45"/>
<circle cx="103.9" cy="140.2" r="1.7" fill="url(#ball)" stroke="#555" stroke-width="0.45"/>
<circle cx="86.8" cy="139.7" r="1.7" fill="url(#ball)" stroke="#555" stroke-width="0.45"/>
<circle cx="76.3" cy="156.2" r="1.7" fill="url(#ball)" stroke="#555" stroke-width="0.45"/>
<circle cx="88.2" cy="168.3" r="1.7" fill="url(#ball)" stroke="#555" stroke-width="0.45"/>
<polygon points="104.3,124.1 103.9,140.2 120.1,139.2 131.1,123.4 120.0,112.7" fill="#0f71e4" stroke="#0f71e4" stroke-width="0.4"/>
<polygon points="104.3,124.1 103.9,140.2 120.1,139.2 131.1,123.4 120.0,112.7" fill="none" stroke="#7a7070" stroke-width="1.7" stroke-linejoin="round"/>
<polygon points="104.3,124.1 103.9,140.2 120.1,139.2 131.1,123.4 120.0,112.7" fill="none" stroke="#ece6e6" stroke-width="0.8" stroke-linejoin="round"/>
<circle cx="104.3" cy="124.1" r="1.7" fill="url(#ball)" stroke="#555" stroke-width="0.45"/>
<circle cx="103.9" cy="140.2" r="1.7" fill="url(#ball)" stroke="#555" stroke-width="0.45"/>
<circle cx="120.1" cy="139.2" r="1.7" fill="url(#ball)" stroke="#555" stroke-width="0.45"/>
<circle cx="131.1" cy="123.4" r="1.7" fill="url(#ball)" stroke="#555" stroke-width="0.45"/>
<circle cx="120.0" cy="112.7" r="1.7" fill="url(#ball)" stroke="#555" stroke-width="0.45"/>
<polygon points="147.4,42.6 147.4,63.0 162.9,67.9 173.4,51.4 162.9,35.9" fill="#088508" stroke="#088508" stroke-width="0.4"/>
<polygon points="147.4,42.6 147.4,63.0 162.9,67.9 173.4,51.4 162.9,35.9" fill="none" stroke="#7a7070" stroke-width="1.7" stroke-linejoin="round"/>
<polygon points="147.4,42.6 147.4,63.0 162.9,67.9 173.4,51.4 162.9,35.9" fill="none" stroke="#ece6e6" stroke-width="0.8" stroke-linejoin="round"/>
<circle cx="147.4" cy="42.6" r="1.7" fill="url(#ball)" stroke="#555" stroke-width="0.45"/>
<circle cx="147.4" cy="63.0" r="1.7" fill="url(#ball)" stroke="#555" stroke-width="0.45"/>
<circle cx="162.9" cy="67.9" r="1.7" fill="url(#ball)" stroke="#555" stroke-width="0.45"/>
<circle cx="173.4" cy="51.4" r="1.7" fill="url(#ball)" stroke="#555" stroke-width="0.45"/>
<circle cx="162.9" cy="35.9" r="1.7" fill="url(#ball)" stroke="#555" stroke-width="0.45"/>
<polygon points="88.2,113.2 76.3,124.3 86.8,139.7 103.9,140.2 104.3,124.1" fill="#1881ee" stroke="#1881ee" stroke-width="0.4"/>
<polygon points="88.2,113.2 76.3,124.3 86.8,139.7 103.9,140.2 104.3,124.1" fill="none" stroke="#7a7070" stroke-width="1.7" stroke-linejoin="round"/>
<polygon points="88.2,113.2 76.3,124.3 86.8,139.7 103.9,140.2 104.3,124.1" fill="none" stroke="#ece6e6" stroke-width="0.8" stroke-linejoin="round"/>
<circle cx="88.2" cy="113.2" r="1.7" fill="url(#ball)" stroke="#555" stroke-width="0.45"/>
<circle cx="76.3" cy="124.3" r="1.7" fill="url(#ball)" stroke="#555" stroke-width="0.45"/>
<circle cx="86.8" cy="139.7" r="1.7" fill="url(#ball)" stroke="#555" stroke-width="0.45"/>
<circle cx="103.9" cy="140.2" r="1.7" fill="url(#ball)" stroke="#555" stroke-width="0.45"/>
<circle cx="104.3" cy="124.1" r="1.7" fill="url(#ball)" stroke="#555" stroke-width="0.45"/>
<polygon points="147.4,63.0 147.4,42.6 131.1,36.4 120.1,52.2 131.1,68.4" fill="#0b950b" stroke="#0b950b" stroke-width="0.4"/>
<polygon points="147.4,63.0 147.4,42.6 131.1,36.4 120.1,52.2 131.1,68.4" fill="none" stroke="#7a7070" stroke-width="1.7" stroke-linejoin="round"/>
<polygon points="147.4,63.0 147.4,42.6 131.1,36.4 120.1,52.2 131.1,68.4" fill="none" stroke="#ece6e6" stroke-width="0.8" stroke-linejoin="round"/>
<circle cx="147.4" cy="63.0" r="1.7" fill="url(#ball)" stroke="#555" stroke-width="0.45"/>
<circle cx="147.4" cy="42.6" r="1.7" fill="url(#ball)" stroke="#555" stroke-width="0.45"/>
<circle cx="131.1" cy="36.4" r="1.7" fill="url(#ball)" stroke="#555" stroke-width="0.45"/>
<circle cx="120.1" cy="52.2" r="1.7" fill="url(#ball)" stroke="#555" stroke-width="0.45"/>
<circle cx="131.1" cy="68.4" r="1.7" fill="url(#ball)" stroke="#555" stroke-width="0.45"/>
<polygon points="76.3,69.2 86.8,52.7 76.3,37.2 60.8,43.9 60.8,64.3" fill="#088508" stroke="#088508" stroke-width="0.4"/>
<polygon points="76.3,69.2 86.8,52.7 76.3,37.2 60.8,43.9 60.8,64.3" fill="none" stroke="#7a7070" stroke-width="1.7" stroke-linejoin="round"/>
<polygon points="76.3,69.2 86.8,52.7 76.3,37.2 60.8,43.9 60.8,64.3" fill="none" stroke="#ece6e6" stroke-width="0.8" stroke-linejoin="round"/>
<circle cx="76.3" cy="69.2" r="1.7" fill="url(#ball)" stroke="#555" stroke-width="0.45"/>
<circle cx="86.8" cy="52.7" r="1.7" fill="url(#ball)" stroke="#555" stroke-width="0.45"/>
<circle cx="76.3" cy="37.2" r="1.7" fill="url(#ball)" stroke="#555" stroke-width="0.45"/>
<circle cx="60.8" cy="43.9" r="1.7" fill="url(#ball)" stroke="#555" stroke-width="0.45"/>
<circle cx="60.8" cy="64.3" r="1.7" fill="url(#ball)" stroke="#555" stroke-width="0.45"/>
<polygon points="120.0,80.8 131.1,68.4 120.1,52.2 103.9,53.1 104.3,70.6" fill="#1d89f3" stroke="#1d89f3" stroke-width="0.4"/>
<polygon points="120.0,80.8 131.1,68.4 120.1,52.2 103.9,53.1 104.3,70.6" fill="none" stroke="#7a7070" stroke-width="1.7" stroke-linejoin="round"/>
<polygon points="120.0,80.8 131.1,68.4 120.1,52.2 103.9,53.1 104.3,70.6" fill="none" stroke="#ece6e6" stroke-width="0.8" stroke-linejoin="round"/>
<circle cx="120.0" cy="80.8" r="1.7" fill="url(#ball)" stroke="#555" stroke-width="0.45"/>
<circle cx="131.1" cy="68.4" r="1.7" fill="url(#ball)" stroke="#555" stroke-width="0.45"/>
<circle cx="120.1" cy="52.2" r="1.7" fill="url(#ball)" stroke="#555" stroke-width="0.45"/>
<circle cx="103.9" cy="53.1" r="1.7" fill="url(#ball)" stroke="#555" stroke-width="0.45"/>
<circle cx="104.3" cy="70.6" r="1.7" fill="url(#ball)" stroke="#555" stroke-width="0.45"/>
<polygon points="120.0,112.7 113.8,96.2 93.5,96.5 88.2,113.2 104.3,124.1" fill="#289cff" stroke="#289cff" stroke-width="0.4"/>
<polygon points="120.0,112.7 113.8,96.2 93.5,96.5 88.2,113.2 104.3,124.1" fill="none" stroke="#7a7070" stroke-width="1.7" stroke-linejoin="round"/>
<polygon points="120.0,112.7 113.8,96.2 93.5,96.5 88.2,113.2 104.3,124.1" fill="none" stroke="#ece6e6" stroke-width="0.8" stroke-linejoin="round"/>
<circle cx="120.0" cy="112.7" r="1.7" fill="url(#ball)" stroke="#555" stroke-width="0.45"/>
<circle cx="113.8" cy="96.2" r="1.7" fill="url(#ball)" stroke="#555" stroke-width="0.45"/>
<circle cx="93.5" cy="96.5" r="1.7" fill="url(#ball)" stroke="#555" stroke-width="0.45"/>
<circle cx="88.2" cy="113.2" r="1.7" fill="url(#ball)" stroke="#555" stroke-width="0.45"/>
<circle cx="104.3" cy="124.1" r="1.7" fill="url(#ball)" stroke="#555" stroke-width="0.45"/>
<polygon points="44.4,37.7 33.5,53.5 44.4,69.7 60.8,64.3 60.8,43.9" fill="#0b950b" stroke="#0b950b" stroke-width="0.4"/>
<polygon points="44.4,37.7 33.5,53.5 44.4,69.7 60.8,64.3 60.8,43.9" fill="none" stroke="#7a7070" stroke-width="1.7" stroke-linejoin="round"/>
<polygon points="44.4,37.7 33.5,53.5 44.4,69.7 60.8,64.3 60.8,43.9" fill="none" stroke="#ece6e6" stroke-width="0.8" stroke-linejoin="round"/>
<circle cx="44.4" cy="37.7" r="1.7" fill="url(#ball)" stroke="#555" stroke-width="0.45"/>
<circle cx="33.5" cy="53.5" r="1.7" fill="url(#ball)" stroke="#555" stroke-width="0.45"/>
<circle cx="44.4" cy="69.7" r="1.7" fill="url(#ball)" stroke="#555" stroke-width="0.45"/>
<circle cx="60.8" cy="64.3" r="1.7" fill="url(#ball)" stroke="#555" stroke-width="0.45"/>
<circle cx="60.8" cy="43.9" r="1.7" fill="url(#ball)" stroke="#555" stroke-width="0.45"/>
<polygon points="104.3,70.6 103.9,53.1 86.8,52.7 76.3,69.2 88.2,81.2" fill="#2699fd" stroke="#2699fd" stroke-width="0.4"/>
<polygon points="104.3,70.6 103.9,53.1 86.8,52.7 76.3,69.2 88.2,81.2" fill="none" stroke="#7a7070" stroke-width="1.7" stroke-linejoin="round"/>
<polygon points="104.3,70.6 103.9,53.1 86.8,52.7 76.3,69.2 88.2,81.2" fill="none" stroke="#ece6e6" stroke-width="0.8" stroke-linejoin="round"/>
<circle cx="104.3" cy="70.6" r="1.7" fill="url(#ball)" stroke="#555" stroke-width="0.45"/>
<circle cx="103.9" cy="53.1" r="1.7" fill="url(#ball)" stroke="#555" stroke-width="0.45"/>
<circle cx="86.8" cy="52.7" r="1.7" fill="url(#ball)" stroke="#555" stroke-width="0.45"/>
<circle cx="76.3" cy="69.2" r="1.7" fill="url(#ball)" stroke="#555" stroke-width="0.45"/>
<circle cx="88.2" cy="81.2" r="1.7" fill="url(#ball)" stroke="#555" stroke-width="0.45"/>
<polygon points="104.3,37.1 103.9,53.1 120.1,52.2 131.1,36.4 120.0,25.7" fill="#0f71e4" stroke="#0f71e4" stroke-width="0.4"/>
<polygon points="104.3,37.1 103.9,53.1 120.1,52.2 131.1,36.4 120.0,25.7" fill="none" stroke="#7a7070" stroke-width="1.7" stroke-linejoin="round"/>
<polygon points="104.3,37.1 103.9,53.1 120.1,52.2 131.1,36.4 120.0,25.7" fill="none" stroke="#ece6e6" stroke-width="0.8" stroke-linejoin="round"/>
<circle cx="104.3" cy="37.1" r="1.7" fill="url(#ball)" stroke="#555" stroke-width="0.45"/>
<circle cx="103.9" cy="53.1" r="1.7" fill="url(#ball)" stroke="#555" stroke-width="0.45"/>
<circle cx="120.1" cy="52.2" r="1.7" fill="url(#ball)" stroke="#555" stroke-width="0.45"/>
<circle cx="131.1" cy="36.4" r="1.7" fill="url(#ball)" stroke="#555" stroke-width="0.45"/>
<circle cx="120.0" cy="25.7" r="1.7" fill="url(#ball)" stroke="#555" stroke-width="0.45"/>
<polygon points="88.2,81.2 93.5,96.5 113.8,96.2 120.0,80.8 104.3,70.6" fill="#1984ef" stroke="#1984ef" stroke-width="0.4"/>
<polygon points="88.2,81.2 93.5,96.5 113.8,96.2 120.0,80.8 104.3,70.6" fill="none" stroke="#7a7070" stroke-width="1.7" stroke-linejoin="round"/>
<polygon points="88.2,81.2 93.5,96.5 113.8,96.2 120.0,80.8 104.3,70.6" fill="none" stroke="#ece6e6" stroke-width="0.8" stroke-linejoin="round"/>
<circle cx="88.2" cy="81.2" r="1.7" fill="url(#ball)" stroke="#555" stroke-width="0.45"/>
<circle cx="93.5" cy="96.5" r="1.7" fill="url(#ball)" stroke="#555" stroke-width="0.45"/>
<circle cx="113.8" cy="96.2" r="1.7" fill="url(#ball)" stroke="#555" stroke-width="0.45"/>
<circle cx="120.0" cy="80.8" r="1.7" fill="url(#ball)" stroke="#555" stroke-width="0.45"/>
<circle cx="104.3" cy="70.6" r="1.7" fill="url(#ball)" stroke="#555" stroke-width="0.45"/>
<polygon points="88.2,26.2 76.3,37.2 86.8,52.7 103.9,53.1 104.3,37.1" fill="#1881ee" stroke="#1881ee" stroke-width="0.4"/>
<polygon points="88.2,26.2 76.3,37.2 86.8,52.7 103.9,53.1 104.3,37.1" fill="none" stroke="#7a7070" stroke-width="1.7" stroke-linejoin="round"/>
<polygon points="88.2,26.2 76.3,37.2 86.8,52.7 103.9,53.1 104.3,37.1" fill="none" stroke="#ece6e6" stroke-width="0.8" stroke-linejoin="round"/>
<circle cx="88.2" cy="26.2" r="1.7" fill="url(#ball)" stroke="#555" stroke-width="0.45"/>
<circle cx="76.3" cy="37.2" r="1.7" fill="url(#ball)" stroke="#555" stroke-width="0.45"/>
<circle cx="86.8" cy="52.7" r="1.7" fill="url(#ball)" stroke="#555" stroke-width="0.45"/>
<circle cx="103.9" cy="53.1" r="1.7" fill="url(#ball)" stroke="#555" stroke-width="0.45"/>
<circle cx="104.3" cy="37.1" r="1.7" fill="url(#ball)" stroke="#555" stroke-width="0.45"/></g>
<line x1="204.5" y1="108.1" x2="188.3" y2="118.8" stroke="#141414" stroke-width="1.9" stroke-linecap="round"/>
<line x1="204.5" y1="108.1" x2="188.3" y2="118.8" stroke="#777" stroke-width="0.4" stroke-linecap="round"/>
<line x1="172.6" y1="108.6" x2="188.3" y2="118.8" stroke="#141414" stroke-width="1.9" stroke-linecap="round"/>
<line x1="172.6" y1="108.6" x2="188.3" y2="118.8" stroke="#777" stroke-width="0.4" stroke-linecap="round"/>
<line x1="231.9" y1="125.1" x2="231.9" y2="145.5" stroke="#141414" stroke-width="1.9" stroke-linecap="round"/>
<line x1="231.9" y1="125.1" x2="231.9" y2="145.5" stroke="#777" stroke-width="0.4" stroke-linecap="round"/>
<line x1="188.3" y1="118.8" x2="188.8" y2="136.2" stroke="#141414" stroke-width="1.9" stroke-linecap="round"/>
<line x1="188.3" y1="118.8" x2="188.8" y2="136.2" stroke="#777" stroke-width="0.4" stroke-linecap="round"/>
<line x1="204.5" y1="76.1" x2="188.3" y2="65.3" stroke="#141414" stroke-width="1.9" stroke-linecap="round"/>
<line x1="204.5" y1="76.1" x2="188.3" y2="65.3" stroke="#777" stroke-width="0.4" stroke-linecap="round"/>
<line x1="172.6" y1="76.6" x2="188.3" y2="65.3" stroke="#141414" stroke-width="1.9" stroke-linecap="round"/>
<line x1="172.6" y1="76.6" x2="188.3" y2="65.3" stroke="#777" stroke-width="0.4" stroke-linecap="round"/>
<line x1="248.2" y1="151.7" x2="231.9" y2="145.5" stroke="#141414" stroke-width="1.9" stroke-linecap="round"/>
<line x1="248.2" y1="151.7" x2="231.9" y2="145.5" stroke="#777" stroke-width="0.4" stroke-linecap="round"/>
<line x1="216.4" y1="152.2" x2="231.9" y2="145.5" stroke="#141414" stroke-width="1.9" stroke-linecap="round"/>
<line x1="216.4" y1="152.2" x2="231.9" y2="145.5" stroke="#777" stroke-width="0.4" stroke-linecap="round"/>
<line x1="231.9" y1="38.0" x2="231.9" y2="58.4" stroke="#141414" stroke-width="1.9" stroke-linecap="round"/>
<line x1="231.9" y1="38.0" x2="231.9" y2="58.4" stroke="#777" stroke-width="0.4" stroke-linecap="round"/>
<line x1="188.8" y1="49.2" x2="188.3" y2="65.3" stroke="#141414" stroke-width="1.9" stroke-linecap="round"/>
<line x1="188.8" y1="49.2" x2="188.3" y2="65.3" stroke="#777" stroke-width="0.4" stroke-linecap="round"/>
<line x1="248.2" y1="119.7" x2="231.9" y2="125.1" stroke="#141414" stroke-width="1.9" stroke-linecap="round"/>
<line x1="248.2" y1="119.7" x2="231.9" y2="125.1" stroke="#777" stroke-width="0.4" stroke-linecap="round"/>
<line x1="216.4" y1="120.2" x2="231.9" y2="125.1" stroke="#141414" stroke-width="1.9" stroke-linecap="round"/>
<line x1="216.4" y1="120.2" x2="231.9" y2="125.1" stroke="#777" stroke-width="0.4" stroke-linecap="round"/>
<circle cx="188.3" cy="118.8" r="1.9" fill="url(#ball)" stroke="#333" stroke-width="0.5"/>
<line x1="216.4" y1="120.2" x2="204.5" y2="108.1" stroke="#141414" stroke-width="1.9" stroke-linecap="round"/>
<line x1="216.4" y1="120.2" x2="204.5" y2="108.1" stroke="#777" stroke-width="0.4" stroke-linecap="round"/>
<line x1="204.5" y1="108.1" x2="199.1" y2="92.9" stroke="#141414" stroke-width="1.9" stroke-linecap="round"/>
<line x1="204.5" y1="108.1" x2="199.1" y2="92.9" stroke="#777" stroke-width="0.4" stroke-linecap="round"/>
<line x1="161.6" y1="121.0" x2="172.6" y2="108.6" stroke="#141414" stroke-width="1.9" stroke-linecap="round"/>
<line x1="161.6" y1="121.0" x2="172.6" y2="108.6" stroke="#777" stroke-width="0.4" stroke-linecap="round"/>
<line x1="204.5" y1="76.1" x2="199.1" y2="92.9" stroke="#141414" stroke-width="1.9" stroke-linecap="round"/>
<line x1="204.5" y1="76.1" x2="199.1" y2="92.9" stroke="#777" stroke-width="0.4" stroke-linecap="round"/>
<line x1="172.6" y1="108.6" x2="178.8" y2="93.2" stroke="#141414" stroke-width="1.9" stroke-linecap="round"/>
<line x1="172.6" y1="108.6" x2="178.8" y2="93.2" stroke="#777" stroke-width="0.4" stroke-linecap="round"/>
<line x1="248.2" y1="64.6" x2="231.9" y2="58.4" stroke="#141414" stroke-width="1.9" stroke-linecap="round"/>
<line x1="248.2" y1="64.6" x2="231.9" y2="58.4" stroke="#777" stroke-width="0.4" stroke-linecap="round"/>
<line x1="216.4" y1="65.1" x2="204.5" y2="76.1" stroke="#141414" stroke-width="1.9" stroke-linecap="round"/>
<line x1="216.4" y1="65.1" x2="204.5" y2="76.1" stroke="#777" stroke-width="0.4" stroke-linecap="round"/>
<circle cx="231.9" cy="145.5" r="1.9" fill="url(#ball)" stroke="#333" stroke-width="0.5"/>
<circle cx="188.3" cy="65.3" r="1.9" fill="url(#ball)" stroke="#333" stroke-width="0.5"/>
<line x1="172.6" y1="76.6" x2="178.8" y2="93.2" stroke="#141414" stroke-width="1.9" stroke-linecap="round"/>
<line x1="172.6" y1="76.6" x2="178.8" y2="93.2" stroke="#777" stroke-width="0.4" stroke-linecap="round"/>
<line x1="216.4" y1="65.1" x2="231.9" y2="58.4" stroke="#141414" stroke-width="1.9" stroke-linecap="round"/>
<line x1="216.4" y1="65.1" x2="231.9" y2="58.4" stroke="#777" stroke-width="0.4" stroke-linecap="round"/>
<circle cx="231.9" cy="125.1" r="1.9" fill="url(#ball)" stroke="#333" stroke-width="0.5"/>
<line x1="248.2" y1="32.6" x2="231.9" y2="38.0" stroke="#141414" stroke-width="1.9" stroke-linecap="round"/>
<line x1="248.2" y1="32.6" x2="231.9" y2="38.0" stroke="#777" stroke-width="0.4" stroke-linecap="round"/>
<line x1="161.6" y1="66.0" x2="172.6" y2="76.6" stroke="#141414" stroke-width="1.9" stroke-linecap="round"/>
<line x1="161.6" y1="66.0" x2="172.6" y2="76.6" stroke="#777" stroke-width="0.4" stroke-linecap="round"/>
<line x1="216.4" y1="33.1" x2="231.9" y2="38.0" stroke="#141414" stroke-width="1.9" stroke-linecap="round"/>
<line x1="216.4" y1="33.1" x2="231.9" y2="38.0" stroke="#777" stroke-width="0.4" stroke-linecap="round"/>
<line x1="188.8" y1="136.2" x2="205.9" y2="136.7" stroke="#141414" stroke-width="1.9" stroke-linecap="round"/>
<line x1="188.8" y1="136.2" x2="205.9" y2="136.7" stroke="#777" stroke-width="0.4" stroke-linecap="round"/>
<line x1="248.2" y1="151.7" x2="259.2" y2="135.9" stroke="#141414" stroke-width="1.9" stroke-linecap="round"/>
<line x1="248.2" y1="151.7" x2="259.2" y2="135.9" stroke="#777" stroke-width="0.4" stroke-linecap="round"/>
<circle cx="204.5" cy="108.1" r="1.9" fill="url(#ball)" stroke="#333" stroke-width="0.5"/>
<line x1="188.8" y1="136.2" x2="172.6" y2="137.2" stroke="#141414" stroke-width="1.9" stroke-linecap="round"/>
<line x1="188.8" y1="136.2" x2="172.6" y2="137.2" stroke="#777" stroke-width="0.4" stroke-linecap="round"/>
<line x1="248.2" y1="119.7" x2="259.2" y2="135.9" stroke="#141414" stroke-width="1.9" stroke-linecap="round"/>
<line x1="248.2" y1="119.7" x2="259.2" y2="135.9" stroke="#777" stroke-width="0.4" stroke-linecap="round"/>
<circle cx="172.6" cy="108.6" r="1.9" fill="url(#ball)" stroke="#333" stroke-width="0.5"/>
<line x1="216.4" y1="152.2" x2="205.9" y2="136.7" stroke="#141414" stroke-width="1.9" stroke-linecap="round"/>
<line x1="216.4" y1="152.2" x2="205.9" y2="136.7" stroke="#777" stroke-width="0.4" stroke-linecap="round"/>
<line x1="178.8" y1="93.2" x2="199.1" y2="92.9" stroke="#141414" stroke-width="1.9" stroke-linecap="round"/>
<line x1="178.8" y1="93.2" x2="199.1" y2="92.9" stroke="#777" stroke-width="0.4" stroke-linecap="round"/>
<circle cx="204.5" cy="76.1" r="1.9" fill="url(#ball)" stroke="#333" stroke-width="0.5"/>
<line x1="216.4" y1="120.2" x2="205.9" y2="136.7" stroke="#141414" stroke-width="1.9" stroke-linecap="round"/>
<line x1="216.4" y1="120.2" x2="205.9" y2="136.7" stroke="#777" stroke-width="0.4" stroke-linecap="round"/>
<circle cx="231.9" cy="58.4" r="1.9" fill="url(#ball)" stroke="#333" stroke-width="0.5"/>
<circle cx="172.6" cy="76.6" r="1.9" fill="url(#ball)" stroke="#333" stroke-width="0.5"/>
<circle cx="231.9" cy="38.0" r="1.9" fill="url(#ball)" stroke="#333" stroke-width="0.5"/>
<line x1="161.6" y1="121.0" x2="172.6" y2="137.2" stroke="#141414" stroke-width="1.9" stroke-linecap="round"/>
<line x1="161.6" y1="121.0" x2="172.6" y2="137.2" stroke="#777" stroke-width="0.4" stroke-linecap="round"/>
<line x1="248.2" y1="151.7" x2="243.1" y2="163.5" stroke="#141414" stroke-width="1.9" stroke-linecap="round"/>
<line x1="248.2" y1="151.7" x2="243.1" y2="163.5" stroke="#777" stroke-width="0.4" stroke-linecap="round"/>
<circle cx="188.8" cy="136.2" r="1.9" fill="url(#ball)" stroke="#333" stroke-width="0.5"/>
<line x1="188.8" y1="49.2" x2="205.9" y2="49.6" stroke="#141414" stroke-width="1.9" stroke-linecap="round"/>
<line x1="188.8" y1="49.2" x2="205.9" y2="49.6" stroke="#777" stroke-width="0.4" stroke-linecap="round"/>
<line x1="248.2" y1="64.6" x2="259.2" y2="48.8" stroke="#141414" stroke-width="1.9" stroke-linecap="round"/>
<line x1="248.2" y1="64.6" x2="259.2" y2="48.8" stroke="#777" stroke-width="0.4" stroke-linecap="round"/>
<line x1="216.4" y1="152.2" x2="222.8" y2="163.8" stroke="#141414" stroke-width="1.9" stroke-linecap="round"/>
<line x1="216.4" y1="152.2" x2="222.8" y2="163.8" stroke="#777" stroke-width="0.4" stroke-linecap="round"/>
<line x1="188.8" y1="49.2" x2="172.6" y2="50.1" stroke="#141414" stroke-width="1.9" stroke-linecap="round"/>
<line x1="188.8" y1="49.2" x2="172.6" y2="50.1" stroke="#777" stroke-width="0.4" stroke-linecap="round"/>
<line x1="248.2" y1="32.6" x2="259.2" y2="48.8" stroke="#141414" stroke-width="1.9" stroke-linecap="round"/>
<line x1="248.2" y1="32.6" x2="259.2" y2="48.8" stroke="#777" stroke-width="0.4" stroke-linecap="round"/>
<line x1="216.4" y1="65.1" x2="205.9" y2="49.6" stroke="#141414" stroke-width="1.9" stroke-linecap="round"/>
<line x1="216.4" y1="65.1" x2="205.9" y2="49.6" stroke="#777" stroke-width="0.4" stroke-linecap="round"/>
<line x1="248.2" y1="119.7" x2="243.1" y2="109.9" stroke="#141414" stroke-width="1.9" stroke-linecap="round"/>
<line x1="248.2" y1="119.7" x2="243.1" y2="109.9" stroke="#777" stroke-width="0.4" stroke-linecap="round"/>
<circle cx="248.2" cy="151.7" r="1.9" fill="url(#ball)" stroke="#333" stroke-width="0.5"/>
<line x1="216.4" y1="33.1" x2="205.9" y2="49.6" stroke="#141414" stroke-width="1.9" stroke-linecap="round"/>
<line x1="216.4" y1="33.1" x2="205.9" y2="49.6" stroke="#777" stroke-width="0.4" stroke-linecap="round"/>
<line x1="216.4" y1="120.2" x2="222.8" y2="110.2" stroke="#141414" stroke-width="1.9" stroke-linecap="round"/>
<line x1="216.4" y1="120.2" x2="222.8" y2="110.2" stroke="#777" stroke-width="0.4" stroke-linecap="round"/>
<circle cx="216.4" cy="152.2" r="1.9" fill="url(#ball)" stroke="#333" stroke-width="0.5"/>
<line x1="161.6" y1="66.0" x2="172.6" y2="50.1" stroke="#141414" stroke-width="1.9" stroke-linecap="round"/>
<line x1="161.6" y1="66.0" x2="172.6" y2="50.1" stroke="#777" stroke-width="0.4" stroke-linecap="round"/>
<circle cx="248.2" cy="119.7" r="1.9" fill="url(#ball)" stroke="#333" stroke-width="0.5"/>
<line x1="199.1" y1="92.9" x2="211.3" y2="93.7" stroke="#141414" stroke-width="1.9" stroke-linecap="round"/>
<line x1="199.1" y1="92.9" x2="211.3" y2="93.7" stroke="#777" stroke-width="0.4" stroke-linecap="round"/>
<line x1="248.2" y1="64.6" x2="243.1" y2="76.5" stroke="#141414" stroke-width="1.9" stroke-linecap="round"/>
<line x1="248.2" y1="64.6" x2="243.1" y2="76.5" stroke="#777" stroke-width="0.4" stroke-linecap="round"/>
<circle cx="188.8" cy="49.2" r="1.9" fill="url(#ball)" stroke="#333" stroke-width="0.5"/>
<circle cx="216.4" cy="120.2" r="1.9" fill="url(#ball)" stroke="#333" stroke-width="0.5"/>
<line x1="161.6" y1="121.0" x2="156.5" y2="111.3" stroke="#141414" stroke-width="1.9" stroke-linecap="round"/>
<line x1="161.6" y1="121.0" x2="156.5" y2="111.3" stroke="#777" stroke-width="0.4" stroke-linecap="round"/>
<line x1="216.4" y1="65.1" x2="222.8" y2="76.8" stroke="#141414" stroke-width="1.9" stroke-linecap="round"/>
<line x1="216.4" y1="65.1" x2="222.8" y2="76.8" stroke="#777" stroke-width="0.4" stroke-linecap="round"/>
<line x1="178.8" y1="93.2" x2="168.0" y2="94.4" stroke="#141414" stroke-width="1.9" stroke-linecap="round"/>
<line x1="178.8" y1="93.2" x2="168.0" y2="94.4" stroke="#777" stroke-width="0.4" stroke-linecap="round"/>
<circle cx="199.1" cy="92.9" r="1.9" fill="url(#ball)" stroke="#333" stroke-width="0.5"/>
<line x1="248.2" y1="32.6" x2="243.1" y2="22.9" stroke="#141414" stroke-width="1.9" stroke-linecap="round"/>
<line x1="248.2" y1="32.6" x2="243.1" y2="22.9" stroke="#777" stroke-width="0.4" stroke-linecap="round"/>
<circle cx="248.2" cy="64.6" r="1.9" fill="url(#ball)" stroke="#333" stroke-width="0.5"/>
<circle cx="161.6" cy="121.0" r="1.9" fill="url(#ball)" stroke="#333" stroke-width="0.5"/>
<line x1="222.8" y1="163.8" x2="243.1" y2="163.5" stroke="#141414" stroke-width="1.9" stroke-linecap="round"/>
<line x1="222.8" y1="163.8" x2="243.1" y2="163.5" stroke="#777" stroke-width="0.4" stroke-linecap="round"/>
<circle cx="178.8" cy="93.2" r="1.9" fill="url(#ball)" stroke="#333" stroke-width="0.5"/>
<line x1="161.6" y1="66.0" x2="156.5" y2="77.8" stroke="#141414" stroke-width="1.9" stroke-linecap="round"/>
<line x1="161.6" y1="66.0" x2="156.5" y2="77.8" stroke="#777" stroke-width="0.4" stroke-linecap="round"/>
<line x1="259.2" y1="135.9" x2="260.0" y2="137.1" stroke="#141414" stroke-width="1.9" stroke-linecap="round"/>
<line x1="259.2" y1="135.9" x2="260.0" y2="137.1" stroke="#777" stroke-width="0.4" stroke-linecap="round"/>
<line x1="216.4" y1="33.1" x2="222.8" y2="23.2" stroke="#141414" stroke-width="1.9" stroke-linecap="round"/>
<line x1="216.4" y1="33.1" x2="222.8" y2="23.2" stroke="#777" stroke-width="0.4" stroke-linecap="round"/>
<circle cx="259.2" cy="135.9" r="1.9" fill="url(#ball)" stroke="#333" stroke-width="0.5"/>
<circle cx="216.4" cy="65.1" r="1.9" fill="url(#ball)" stroke="#333" stroke-width="0.5"/>
<circle cx="233.0" cy="136.9" r="7.9" fill="url(#gold)"/>
<circle cx="248.2" cy="32.6" r="1.9" fill="url(#ball)" stroke="#333" stroke-width="0.5"/>
<line x1="205.9" y1="136.7" x2="206.7" y2="137.9" stroke="#141414" stroke-width="1.9" stroke-linecap="round"/>
<line x1="205.9" y1="136.7" x2="206.7" y2="137.9" stroke="#777" stroke-width="0.4" stroke-linecap="round"/>
<circle cx="216.4" cy="33.1" r="1.9" fill="url(#ball)" stroke="#333" stroke-width="0.5"/>
<circle cx="205.9" cy="136.7" r="1.9" fill="url(#ball)" stroke="#333" stroke-width="0.5"/>
<circle cx="161.6" cy="66.0" r="1.9" fill="url(#ball)" stroke="#333" stroke-width="0.5"/>
<line x1="222.8" y1="110.2" x2="243.1" y2="109.9" stroke="#141414" stroke-width="1.9" stroke-linecap="round"/>
<line x1="222.8" y1="110.2" x2="243.1" y2="109.9" stroke="#777" stroke-width="0.4" stroke-linecap="round"/>
<line x1="172.6" y1="137.2" x2="173.4" y2="138.4" stroke="#141414" stroke-width="1.9" stroke-linecap="round"/>
<line x1="172.6" y1="137.2" x2="173.4" y2="138.4" stroke="#777" stroke-width="0.4" stroke-linecap="round"/>
<circle cx="172.6" cy="137.2" r="1.9" fill="url(#ball)" stroke="#333" stroke-width="0.5"/>
<line x1="211.3" y1="93.7" x2="222.8" y2="110.2" stroke="#141414" stroke-width="1.9" stroke-linecap="round"/>
<line x1="211.3" y1="93.7" x2="222.8" y2="110.2" stroke="#777" stroke-width="0.4" stroke-linecap="round"/>
<circle cx="189.6" cy="115.8" r="7.9" fill="url(#gold)"/>
<line x1="222.8" y1="76.8" x2="243.1" y2="76.5" stroke="#141414" stroke-width="1.9" stroke-linecap="round"/>
<line x1="222.8" y1="76.8" x2="243.1" y2="76.5" stroke="#777" stroke-width="0.4" stroke-linecap="round"/>
<line x1="211.3" y1="93.7" x2="222.8" y2="76.8" stroke="#141414" stroke-width="1.9" stroke-linecap="round"/>
<line x1="211.3" y1="93.7" x2="222.8" y2="76.8" stroke="#777" stroke-width="0.4" stroke-linecap="round"/>
<line x1="259.2" y1="48.8" x2="260.0" y2="50.0" stroke="#141414" stroke-width="1.9" stroke-linecap="round"/>
<line x1="259.2" y1="48.8" x2="260.0" y2="50.0" stroke="#777" stroke-width="0.4" stroke-linecap="round"/>
<circle cx="259.2" cy="48.8" r="1.9" fill="url(#ball)" stroke="#333" stroke-width="0.5"/>
<line x1="168.0" y1="94.4" x2="156.5" y2="111.3" stroke="#141414" stroke-width="1.9" stroke-linecap="round"/>
<line x1="168.0" y1="94.4" x2="156.5" y2="111.3" stroke="#777" stroke-width="0.4" stroke-linecap="round"/>
<circle cx="233.0" cy="49.8" r="7.9" fill="url(#gold)"/>
<circle cx="189.6" cy="72.3" r="7.9" fill="url(#gold)"/>
<line x1="168.0" y1="94.4" x2="156.5" y2="77.8" stroke="#141414" stroke-width="1.9" stroke-linecap="round"/>
<line x1="168.0" y1="94.4" x2="156.5" y2="77.8" stroke="#777" stroke-width="0.4" stroke-linecap="round"/>
<line x1="249.5" y1="153.6" x2="243.1" y2="163.5" stroke="#141414" stroke-width="1.9" stroke-linecap="round"/>
<line x1="249.5" y1="153.6" x2="243.1" y2="163.5" stroke="#777" stroke-width="0.4" stroke-linecap="round"/>
<line x1="205.9" y1="49.6" x2="206.7" y2="50.8" stroke="#141414" stroke-width="1.9" stroke-linecap="round"/>
<line x1="205.9" y1="49.6" x2="206.7" y2="50.8" stroke="#777" stroke-width="0.4" stroke-linecap="round"/>
<circle cx="205.9" cy="49.6" r="1.9" fill="url(#ball)" stroke="#333" stroke-width="0.5"/>
<line x1="222.8" y1="23.2" x2="243.1" y2="22.9" stroke="#141414" stroke-width="1.9" stroke-linecap="round"/>
<line x1="222.8" y1="23.2" x2="243.1" y2="22.9" stroke="#777" stroke-width="0.4" stroke-linecap="round"/>
<line x1="217.7" y1="154.1" x2="222.8" y2="163.8" stroke="#141414" stroke-width="1.9" stroke-linecap="round"/>
<line x1="217.7" y1="154.1" x2="222.8" y2="163.8" stroke="#777" stroke-width="0.4" stroke-linecap="round"/>
<line x1="172.6" y1="50.1" x2="173.4" y2="51.4" stroke="#141414" stroke-width="1.9" stroke-linecap="round"/>
<line x1="172.6" y1="50.1" x2="173.4" y2="51.4" stroke="#777" stroke-width="0.4" stroke-linecap="round"/>
<circle cx="172.6" cy="50.1" r="1.9" fill="url(#ball)" stroke="#333" stroke-width="0.5"/>
<circle cx="243.1" cy="163.5" r="1.9" fill="url(#ball)" stroke="#333" stroke-width="0.5"/>
<line x1="249.5" y1="121.6" x2="243.1" y2="109.9" stroke="#141414" stroke-width="1.9" stroke-linecap="round"/>
<line x1="249.5" y1="121.6" x2="243.1" y2="109.9" stroke="#777" stroke-width="0.4" stroke-linecap="round"/>
<circle cx="222.8" cy="163.8" r="1.9" fill="url(#ball)" stroke="#333" stroke-width="0.5"/>
<line x1="217.7" y1="122.1" x2="222.8" y2="110.2" stroke="#141414" stroke-width="1.9" stroke-linecap="round"/>
<line x1="217.7" y1="122.1" x2="222.8" y2="110.2" stroke="#777" stroke-width="0.4" stroke-linecap="round"/>
<line x1="249.5" y1="66.5" x2="243.1" y2="76.5" stroke="#141414" stroke-width="1.9" stroke-linecap="round"/>
<line x1="249.5" y1="66.5" x2="243.1" y2="76.5" stroke="#777" stroke-width="0.4" stroke-linecap="round"/>
<circle cx="243.1" cy="109.9" r="1.9" fill="url(#ball)" stroke="#333" stroke-width="0.5"/>
<line x1="249.5" y1="153.6" x2="260.0" y2="137.1" stroke="#141414" stroke-width="1.9" stroke-linecap="round"/>
<line x1="249.5" y1="153.6" x2="260.0" y2="137.1" stroke="#777" stroke-width="0.4" stroke-linecap="round"/>
<line x1="211.3" y1="93.7" x2="200.5" y2="94.9" stroke="#141414" stroke-width="1.9" stroke-linecap="round"/>
<line x1="211.3" y1="93.7" x2="200.5" y2="94.9" stroke="#777" stroke-width="0.4" stroke-linecap="round"/>
<line x1="162.9" y1="122.9" x2="156.5" y2="111.3" stroke="#141414" stroke-width="1.9" stroke-linecap="round"/>
<line x1="162.9" y1="122.9" x2="156.5" y2="111.3" stroke="#777" stroke-width="0.4" stroke-linecap="round"/>
<line x1="217.7" y1="67.0" x2="222.8" y2="76.8" stroke="#141414" stroke-width="1.9" stroke-linecap="round"/>
<line x1="217.7" y1="67.0" x2="222.8" y2="76.8" stroke="#777" stroke-width="0.4" stroke-linecap="round"/>
<circle cx="222.8" cy="110.2" r="1.9" fill="url(#ball)" stroke="#333" stroke-width="0.5"/>
<line x1="249.5" y1="121.6" x2="260.0" y2="137.1" stroke="#141414" stroke-width="1.9" stroke-linecap="round"/>
<line x1="249.5" y1="121.6" x2="260.0" y2="137.1" stroke="#777" stroke-width="0.4" stroke-linecap="round"/>
<line x1="168.0" y1="94.4" x2="180.2" y2="95.2" stroke="#141414" stroke-width="1.9" stroke-linecap="round"/>
<line x1="168.0" y1="94.4" x2="180.2" y2="95.2" stroke="#777" stroke-width="0.4" stroke-linecap="round"/>
<line x1="217.7" y1="154.1" x2="206.7" y2="137.9" stroke="#141414" stroke-width="1.9" stroke-linecap="round"/>
<line x1="217.7" y1="154.1" x2="206.7" y2="137.9" stroke="#777" stroke-width="0.4" stroke-linecap="round"/>
<circle cx="243.1" cy="76.5" r="1.9" fill="url(#ball)" stroke="#333" stroke-width="0.5"/>
<circle cx="211.3" cy="93.7" r="1.9" fill="url(#ball)" stroke="#333" stroke-width="0.5"/>
<line x1="249.5" y1="34.5" x2="243.1" y2="22.9" stroke="#141414" stroke-width="1.9" stroke-linecap="round"/>
<line x1="249.5" y1="34.5" x2="243.1" y2="22.9" stroke="#777" stroke-width="0.4" stroke-linecap="round"/>
<line x1="217.7" y1="122.1" x2="206.7" y2="137.9" stroke="#141414" stroke-width="1.9" stroke-linecap="round"/>
<line x1="217.7" y1="122.1" x2="206.7" y2="137.9" stroke="#777" stroke-width="0.4" stroke-linecap="round"/>
<circle cx="222.8" cy="76.8" r="1.9" fill="url(#ball)" stroke="#333" stroke-width="0.5"/>
<line x1="162.9" y1="67.9" x2="156.5" y2="77.8" stroke="#141414" stroke-width="1.9" stroke-linecap="round"/>
<line x1="162.9" y1="67.9" x2="156.5" y2="77.8" stroke="#777" stroke-width="0.4" stroke-linecap="round"/>
<line x1="217.7" y1="35.0" x2="222.8" y2="23.2" stroke="#141414" stroke-width="1.9" stroke-linecap="round"/>
<line x1="217.7" y1="35.0" x2="222.8" y2="23.2" stroke="#777" stroke-width="0.4" stroke-linecap="round"/>
<circle cx="156.5" cy="111.3" r="1.9" fill="url(#ball)" stroke="#333" stroke-width="0.5"/>
<circle cx="168.0" cy="94.4" r="1.9" fill="url(#ball)" stroke="#333" stroke-width="0.5"/>
<line x1="162.9" y1="122.9" x2="173.4" y2="138.4" stroke="#141414" stroke-width="1.9" stroke-linecap="round"/>
<line x1="162.9" y1="122.9" x2="173.4" y2="138.4" stroke="#777" stroke-width="0.4" stroke-linecap="round"/>
<circle cx="243.1" cy="22.9" r="1.9" fill="url(#ball)" stroke="#333" stroke-width="0.5"/>
<line x1="249.5" y1="66.5" x2="260.0" y2="50.0" stroke="#141414" stroke-width="1.9" stroke-linecap="round"/>
<line x1="249.5" y1="66.5" x2="260.0" y2="50.0" stroke="#777" stroke-width="0.4" stroke-linecap="round"/>
<circle cx="156.5" cy="77.8" r="1.9" fill="url(#ball)" stroke="#333" stroke-width="0.5"/>
<line x1="190.5" y1="138.8" x2="206.7" y2="137.9" stroke="#141414" stroke-width="1.9" stroke-linecap="round"/>
<line x1="190.5" y1="138.8" x2="206.7" y2="137.9" stroke="#777" stroke-width="0.4" stroke-linecap="round"/>
<circle cx="222.8" cy="23.2" r="1.9" fill="url(#ball)" stroke="#333" stroke-width="0.5"/>
<line x1="249.5" y1="34.5" x2="260.0" y2="50.0" stroke="#141414" stroke-width="1.9" stroke-linecap="round"/>
<line x1="249.5" y1="34.5" x2="260.0" y2="50.0" stroke="#777" stroke-width="0.4" stroke-linecap="round"/>
<line x1="190.5" y1="138.8" x2="173.4" y2="138.4" stroke="#141414" stroke-width="1.9" stroke-linecap="round"/>
<line x1="190.5" y1="138.8" x2="173.4" y2="138.4" stroke="#777" stroke-width="0.4" stroke-linecap="round"/>
<line x1="217.7" y1="67.0" x2="206.7" y2="50.8" stroke="#141414" stroke-width="1.9" stroke-linecap="round"/>
<line x1="217.7" y1="67.0" x2="206.7" y2="50.8" stroke="#777" stroke-width="0.4" stroke-linecap="round"/>
<circle cx="260.0" cy="137.1" r="1.9" fill="url(#ball)" stroke="#333" stroke-width="0.5"/>
<line x1="217.7" y1="35.0" x2="206.7" y2="50.8" stroke="#141414" stroke-width="1.9" stroke-linecap="round"/>
<line x1="217.7" y1="35.0" x2="206.7" y2="50.8" stroke="#777" stroke-width="0.4" stroke-linecap="round"/>
<line x1="249.5" y1="153.6" x2="234.0" y2="148.7" stroke="#141414" stroke-width="1.9" stroke-linecap="round"/>
<line x1="249.5" y1="153.6" x2="234.0" y2="148.7" stroke="#777" stroke-width="0.4" stroke-linecap="round"/>
<line x1="162.9" y1="67.9" x2="173.4" y2="51.4" stroke="#141414" stroke-width="1.9" stroke-linecap="round"/>
<line x1="162.9" y1="67.9" x2="173.4" y2="51.4" stroke="#777" stroke-width="0.4" stroke-linecap="round"/>
<line x1="217.7" y1="154.1" x2="234.0" y2="148.7" stroke="#141414" stroke-width="1.9" stroke-linecap="round"/>
<line x1="217.7" y1="154.1" x2="234.0" y2="148.7" stroke="#777" stroke-width="0.4" stroke-linecap="round"/>
<line x1="180.2" y1="95.2" x2="200.5" y2="94.9" stroke="#141414" stroke-width="1.9" stroke-linecap="round"/>
<line x1="180.2" y1="95.2" x2="200.5" y2="94.9" stroke="#777" stroke-width="0.4" stroke-linecap="round"/>
<circle cx="206.7" cy="137.9" r="1.9" fill="url(#ball)" stroke="#333" stroke-width="0.5"/>
<line x1="249.5" y1="121.6" x2="234.0" y2="128.3" stroke="#141414" stroke-width="1.9" stroke-linecap="round"/>
<line x1="249.5" y1="121.6" x2="234.0" y2="128.3" stroke="#777" stroke-width="0.4" stroke-linecap="round"/>
<line x1="217.7" y1="122.1" x2="234.0" y2="128.3" stroke="#141414" stroke-width="1.9" stroke-linecap="round"/>
<line x1="217.7" y1="122.1" x2="234.0" y2="128.3" stroke="#777" stroke-width="0.4" stroke-linecap="round"/>
<line x1="190.5" y1="51.8" x2="206.7" y2="50.8" stroke="#141414" stroke-width="1.9" stroke-linecap="round"/>
<line x1="190.5" y1="51.8" x2="206.7" y2="50.8" stroke="#777" stroke-width="0.4" stroke-linecap="round"/>
<circle cx="173.4" cy="138.4" r="1.9" fill="url(#ball)" stroke="#333" stroke-width="0.5"/>
<line x1="190.5" y1="51.8" x2="173.4" y2="51.4" stroke="#141414" stroke-width="1.9" stroke-linecap="round"/>
<line x1="190.5" y1="51.8" x2="173.4" y2="51.4" stroke="#777" stroke-width="0.4" stroke-linecap="round"/>
<line x1="206.7" y1="111.4" x2="217.7" y2="122.1" stroke="#141414" stroke-width="1.9" stroke-linecap="round"/>
<line x1="206.7" y1="111.4" x2="217.7" y2="122.1" stroke="#777" stroke-width="0.4" stroke-linecap="round"/>
<circle cx="260.0" cy="50.0" r="1.9" fill="url(#ball)" stroke="#333" stroke-width="0.5"/>
<circle cx="249.5" cy="153.6" r="1.9" fill="url(#ball)" stroke="#333" stroke-width="0.5"/>
<line x1="206.7" y1="111.4" x2="200.5" y2="94.9" stroke="#141414" stroke-width="1.9" stroke-linecap="round"/>
<line x1="206.7" y1="111.4" x2="200.5" y2="94.9" stroke="#777" stroke-width="0.4" stroke-linecap="round"/>
<line x1="249.5" y1="66.5" x2="234.0" y2="61.6" stroke="#141414" stroke-width="1.9" stroke-linecap="round"/>
<line x1="249.5" y1="66.5" x2="234.0" y2="61.6" stroke="#777" stroke-width="0.4" stroke-linecap="round"/>
<line x1="174.8" y1="111.9" x2="162.9" y2="122.9" stroke="#141414" stroke-width="1.9" stroke-linecap="round"/>
<line x1="174.8" y1="111.9" x2="162.9" y2="122.9" stroke="#777" stroke-width="0.4" stroke-linecap="round"/>
<circle cx="217.7" cy="154.1" r="1.9" fill="url(#ball)" stroke="#333" stroke-width="0.5"/>
<line x1="217.7" y1="67.0" x2="234.0" y2="61.6" stroke="#141414" stroke-width="1.9" stroke-linecap="round"/>
<line x1="217.7" y1="67.0" x2="234.0" y2="61.6" stroke="#777" stroke-width="0.4" stroke-linecap="round"/>
<line x1="206.7" y1="79.4" x2="200.5" y2="94.9" stroke="#141414" stroke-width="1.9" stroke-linecap="round"/>
<line x1="206.7" y1="79.4" x2="200.5" y2="94.9" stroke="#777" stroke-width="0.4" stroke-linecap="round"/>
<line x1="174.8" y1="111.9" x2="180.2" y2="95.2" stroke="#141414" stroke-width="1.9" stroke-linecap="round"/>
<line x1="174.8" y1="111.9" x2="180.2" y2="95.2" stroke="#777" stroke-width="0.4" stroke-linecap="round"/>
<line x1="206.7" y1="79.4" x2="217.7" y2="67.0" stroke="#141414" stroke-width="1.9" stroke-linecap="round"/>
<line x1="206.7" y1="79.4" x2="217.7" y2="67.0" stroke="#777" stroke-width="0.4" stroke-linecap="round"/>
<line x1="234.0" y1="128.3" x2="234.0" y2="148.7" stroke="#141414" stroke-width="1.9" stroke-linecap="round"/>
<line x1="234.0" y1="128.3" x2="234.0" y2="148.7" stroke="#777" stroke-width="0.4" stroke-linecap="round"/>
<circle cx="249.5" cy="121.6" r="1.9" fill="url(#ball)" stroke="#333" stroke-width="0.5"/>
<circle cx="206.7" cy="50.8" r="1.9" fill="url(#ball)" stroke="#333" stroke-width="0.5"/>
<line x1="249.5" y1="34.5" x2="234.0" y2="41.2" stroke="#141414" stroke-width="1.9" stroke-linecap="round"/>
<line x1="249.5" y1="34.5" x2="234.0" y2="41.2" stroke="#777" stroke-width="0.4" stroke-linecap="round"/>
<line x1="174.8" y1="79.9" x2="180.2" y2="95.2" stroke="#141414" stroke-width="1.9" stroke-linecap="round"/>
<line x1="174.8" y1="79.9" x2="180.2" y2="95.2" stroke="#777" stroke-width="0.4" stroke-linecap="round"/>
<line x1="217.7" y1="35.0" x2="234.0" y2="41.2" stroke="#141414" stroke-width="1.9" stroke-linecap="round"/>
<line x1="217.7" y1="35.0" x2="234.0" y2="41.2" stroke="#777" stroke-width="0.4" stroke-linecap="round"/>
<circle cx="217.7" cy="122.1" r="1.9" fill="url(#ball)" stroke="#333" stroke-width="0.5"/>
<line x1="174.8" y1="79.9" x2="162.9" y2="67.9" stroke="#141414" stroke-width="1.9" stroke-linecap="round"/>
<line x1="174.8" y1="79.9" x2="162.9" y2="67.9" stroke="#777" stroke-width="0.4" stroke-linecap="round"/>
<circle cx="173.4" cy="51.4" r="1.9" fill="url(#ball)" stroke="#333" stroke-width="0.5"/>
<line x1="191.0" y1="122.8" x2="190.5" y2="138.8" stroke="#141414" stroke-width="1.9" stroke-linecap="round"/>
<line x1="191.0" y1="122.8" x2="190.5" y2="138.8" stroke="#777" stroke-width="0.4" stroke-linecap="round"/>
<circle cx="249.5" cy="66.5" r="1.9" fill="url(#ball)" stroke="#333" stroke-width="0.5"/>
<circle cx="162.9" cy="122.9" r="1.9" fill="url(#ball)" stroke="#333" stroke-width="0.5"/>
<circle cx="200.5" cy="94.9" r="1.9" fill="url(#ball)" stroke="#333" stroke-width="0.5"/>
<circle cx="217.7" cy="67.0" r="1.9" fill="url(#ball)" stroke="#333" stroke-width="0.5"/>
<circle cx="180.2" cy="95.2" r="1.9" fill="url(#ball)" stroke="#333" stroke-width="0.5"/>
<line x1="234.0" y1="41.2" x2="234.0" y2="61.6" stroke="#141414" stroke-width="1.9" stroke-linecap="round"/>
<line x1="234.0" y1="41.2" x2="234.0" y2="61.6" stroke="#777" stroke-width="0.4" stroke-linecap="round"/>
<circle cx="249.5" cy="34.5" r="1.9" fill="url(#ball)" stroke="#333" stroke-width="0.5"/>
<line x1="206.7" y1="111.4" x2="191.0" y2="122.8" stroke="#141414" stroke-width="1.9" stroke-linecap="round"/>
<line x1="206.7" y1="111.4" x2="191.0" y2="122.8" stroke="#777" stroke-width="0.4" stroke-linecap="round"/>
<circle cx="217.7" cy="35.0" r="1.9" fill="url(#ball)" stroke="#333" stroke-width="0.5"/>
<circle cx="162.9" cy="67.9" r="1.9" fill="url(#ball)" stroke="#333" stroke-width="0.5"/>
<line x1="174.8" y1="111.9" x2="191.0" y2="122.8" stroke="#141414" stroke-width="1.9" stroke-linecap="round"/>
<line x1="174.8" y1="111.9" x2="191.0" y2="122.8" stroke="#777" stroke-width="0.4" stroke-linecap="round"/>
<circle cx="190.5" cy="138.8" r="1.9" fill="url(#ball)" stroke="#333" stroke-width="0.5"/>
<line x1="190.5" y1="51.8" x2="191.0" y2="69.2" stroke="#141414" stroke-width="1.9" stroke-linecap="round"/>
<line x1="190.5" y1="51.8" x2="191.0" y2="69.2" stroke="#777" stroke-width="0.4" stroke-linecap="round"/>
<line x1="206.7" y1="79.4" x2="191.0" y2="69.2" stroke="#141414" stroke-width="1.9" stroke-linecap="round"/>
<line x1="206.7" y1="79.4" x2="191.0" y2="69.2" stroke="#777" stroke-width="0.4" stroke-linecap="round"/>
<line x1="174.8" y1="79.9" x2="191.0" y2="69.2" stroke="#141414" stroke-width="1.9" stroke-linecap="round"/>
<line x1="174.8" y1="79.9" x2="191.0" y2="69.2" stroke="#777" stroke-width="0.4" stroke-linecap="round"/>
<circle cx="234.0" cy="148.7" r="1.9" fill="url(#ball)" stroke="#333" stroke-width="0.5"/>
<circle cx="234.0" cy="128.3" r="1.9" fill="url(#ball)" stroke="#333" stroke-width="0.5"/>
<circle cx="190.5" cy="51.8" r="1.9" fill="url(#ball)" stroke="#333" stroke-width="0.5"/>
<circle cx="206.7" cy="111.4" r="1.9" fill="url(#ball)" stroke="#333" stroke-width="0.5"/>
<circle cx="234.0" cy="61.6" r="1.9" fill="url(#ball)" stroke="#333" stroke-width="0.5"/>
<circle cx="174.8" cy="111.9" r="1.9" fill="url(#ball)" stroke="#333" stroke-width="0.5"/>
<circle cx="206.7" cy="79.4" r="1.9" fill="url(#ball)" stroke="#333" stroke-width="0.5"/>
<circle cx="234.0" cy="41.2" r="1.9" fill="url(#ball)" stroke="#333" stroke-width="0.5"/>
<circle cx="174.8" cy="79.9" r="1.9" fill="url(#ball)" stroke="#333" stroke-width="0.5"/>
<circle cx="191.0" cy="122.8" r="1.9" fill="url(#ball)" stroke="#333" stroke-width="0.5"/>
<circle cx="191.0" cy="69.2" r="1.9" fill="url(#ball)" stroke="#333" stroke-width="0.5"/>
<defs><radialGradient id="gsph" cx="0.4" cy="0.35" r="0.7"><stop offset="0" stop-color="#c4e070"/><stop offset="0.4" stop-color="#78a014"/><stop offset="1" stop-color="#345606"/></radialGradient></defs>
<polygon points="420,11 440.3,2.9 455,5.5 468,16.5 471.6,36.8 480.8,46 484.5,55 491.8,79 499.2,95.6 510.2,110.3 519.4,128.7 526.8,154.5 521.2,172.9 506.5,185.7 488,187.6 469.8,191.2 447.7,189.4 429.3,185.7 407.2,180.2 385.2,176.5 363.1,171 344.7,161.8 335.5,143.4 341,132.4 359.4,121.4 366.8,99.3 381.5,88.3 388.8,73.6 390.7,55.2 403.6,44.1 416.4,36.8 418.3,18.4" fill="#0f800f" stroke="#1a3a1a" stroke-width="0.8"/>
<polygon points="424.4,101.5 437,94.5 443.3,100.1 443.3,107.1 430.7,112.7" fill="#fff"/>
<polygon points="477.9,85.8 490.9,77.0 481.4,76.1 462.5,84.5 460.3,90.5" fill="#0a7c0a" fill-opacity="0.85" stroke="#123a12" stroke-width="0.9" stroke-linejoin="round"/>
<polygon points="460.3,90.5 462.5,84.5 448.5,69.7 437.6,66.5 444.9,79.4" fill="#0a7c0a" fill-opacity="0.85" stroke="#123a12" stroke-width="0.9" stroke-linejoin="round"/>
<polygon points="441.1,47.0 437.6,66.5 448.5,69.7 458.7,52.2 454.1,38.2" fill="#0a7c0a" fill-opacity="0.85" stroke="#123a12" stroke-width="0.9" stroke-linejoin="round"/>
<polygon points="487.1,44.6 471.7,33.5 454.1,38.2 458.7,52.2 479.0,56.1" fill="#0a7c0a" fill-opacity="0.85" stroke="#123a12" stroke-width="0.9" stroke-linejoin="round"/>
<polygon points="479.0,56.1 458.7,52.2 448.5,69.7 462.5,84.5 481.4,76.1" fill="#0a7c0a" fill-opacity="0.85" stroke="#123a12" stroke-width="0.9" stroke-linejoin="round"/>
<polygon points="487.1,44.6 479.0,56.1 481.4,76.1 490.9,77.0 494.4,57.5" fill="#0a7c0a" fill-opacity="0.85" stroke="#123a12" stroke-width="0.9" stroke-linejoin="round"/>
<polygon points="450.6,47.9 453.0,67.9 444.9,79.4 437.6,66.5 441.1,47.0" fill="#34b434" fill-opacity="0.30" stroke="#2c2432" stroke-width="1.9" stroke-linejoin="round"/>
<polygon points="450.6,47.9 453.0,67.9 444.9,79.4 437.6,66.5 441.1,47.0" fill="none" stroke="#e4dce4" stroke-width="0.75" stroke-linejoin="round"/>
<polygon points="450.6,47.9 441.1,47.0 454.1,38.2 471.7,33.5 469.5,39.5" fill="#34b434" fill-opacity="0.32" stroke="#2c2432" stroke-width="1.9" stroke-linejoin="round"/>
<polygon points="450.6,47.9 441.1,47.0 454.1,38.2 471.7,33.5 469.5,39.5" fill="none" stroke="#e4dce4" stroke-width="0.75" stroke-linejoin="round"/>
<polygon points="469.5,39.5 471.7,33.5 487.1,44.6 494.4,57.5 483.5,54.3" fill="#34b434" fill-opacity="0.31" stroke="#2c2432" stroke-width="1.9" stroke-linejoin="round"/>
<polygon points="469.5,39.5 471.7,33.5 487.1,44.6 494.4,57.5 483.5,54.3" fill="none" stroke="#e4dce4" stroke-width="0.75" stroke-linejoin="round"/>
<polygon points="477.9,85.8 460.3,90.5 444.9,79.4 453.0,67.9 473.3,71.8" fill="#34b434" fill-opacity="0.29" stroke="#2c2432" stroke-width="1.9" stroke-linejoin="round"/>
<polygon points="477.9,85.8 460.3,90.5 444.9,79.4 453.0,67.9 473.3,71.8" fill="none" stroke="#e4dce4" stroke-width="0.75" stroke-linejoin="round"/>
<polygon points="494.4,57.5 490.9,77.0 477.9,85.8 473.3,71.8 483.5,54.3" fill="#34b434" fill-opacity="0.30" stroke="#2c2432" stroke-width="1.9" stroke-linejoin="round"/>
<polygon points="494.4,57.5 490.9,77.0 477.9,85.8 473.3,71.8 483.5,54.3" fill="none" stroke="#e4dce4" stroke-width="0.75" stroke-linejoin="round"/>
<polygon points="473.3,71.8 453.0,67.9 450.6,47.9 469.5,39.5 483.5,54.3" fill="#34b434" fill-opacity="0.27" stroke="#2c2432" stroke-width="1.9" stroke-linejoin="round"/>
<polygon points="473.3,71.8 453.0,67.9 450.6,47.9 469.5,39.5 483.5,54.3" fill="none" stroke="#e4dce4" stroke-width="0.75" stroke-linejoin="round"/>
<polygon points="508.1,118.4 516.2,105.9 505.4,108.5 490.6,122.6 492.3,128.7" fill="#0a7c0a" fill-opacity="0.85" stroke="#123a12" stroke-width="0.9" stroke-linejoin="round"/>
<polygon points="492.3,128.7 490.6,122.6 472.2,113.4 462.4,113.7 474.8,123.2" fill="#0a7c0a" fill-opacity="0.85" stroke="#123a12" stroke-width="0.9" stroke-linejoin="round"/>
<polygon points="459.8,94.1 462.4,113.7 472.2,113.4 475.6,93.5 467.9,81.6" fill="#0a7c0a" fill-opacity="0.85" stroke="#123a12" stroke-width="0.9" stroke-linejoin="round"/>
<polygon points="501.2,76.8 483.7,71.3 467.9,81.6 475.6,93.5 496.1,90.5" fill="#0a7c0a" fill-opacity="0.85" stroke="#123a12" stroke-width="0.9" stroke-linejoin="round"/>
<polygon points="496.1,90.5 475.6,93.5 472.2,113.4 490.6,122.6 505.4,108.5" fill="#0a7c0a" fill-opacity="0.85" stroke="#123a12" stroke-width="0.9" stroke-linejoin="round"/>
<polygon points="501.2,76.8 496.1,90.5 505.4,108.5 516.2,105.9 513.6,86.3" fill="#0a7c0a" fill-opacity="0.85" stroke="#123a12" stroke-width="0.9" stroke-linejoin="round"/>
<polygon points="470.6,91.5 479.9,109.5 474.8,123.2 462.4,113.7 459.8,94.1" fill="#34b434" fill-opacity="0.30" stroke="#2c2432" stroke-width="1.9" stroke-linejoin="round"/>
<polygon points="470.6,91.5 479.9,109.5 474.8,123.2 462.4,113.7 459.8,94.1" fill="none" stroke="#e4dce4" stroke-width="0.75" stroke-linejoin="round"/>
<polygon points="470.6,91.5 459.8,94.1 467.9,81.6 483.7,71.3 485.4,77.4" fill="#34b434" fill-opacity="0.31" stroke="#2c2432" stroke-width="1.9" stroke-linejoin="round"/>
<polygon points="470.6,91.5 459.8,94.1 467.9,81.6 483.7,71.3 485.4,77.4" fill="none" stroke="#e4dce4" stroke-width="0.75" stroke-linejoin="round"/>
<polygon points="485.4,77.4 483.7,71.3 501.2,76.8 513.6,86.3 503.8,86.6" fill="#34b434" fill-opacity="0.32" stroke="#2c2432" stroke-width="1.9" stroke-linejoin="round"/>
<polygon points="485.4,77.4 483.7,71.3 501.2,76.8 513.6,86.3 503.8,86.6" fill="none" stroke="#e4dce4" stroke-width="0.75" stroke-linejoin="round"/>
<polygon points="508.1,118.4 492.3,128.7 474.8,123.2 479.9,109.5 500.4,106.5" fill="#34b434" fill-opacity="0.29" stroke="#2c2432" stroke-width="1.9" stroke-linejoin="round"/>
<polygon points="508.1,118.4 492.3,128.7 474.8,123.2 479.9,109.5 500.4,106.5" fill="none" stroke="#e4dce4" stroke-width="0.75" stroke-linejoin="round"/>
<polygon points="513.6,86.3 516.2,105.9 508.1,118.4 500.4,106.5 503.8,86.6" fill="#34b434" fill-opacity="0.30" stroke="#2c2432" stroke-width="1.9" stroke-linejoin="round"/>
<polygon points="513.6,86.3 516.2,105.9 508.1,118.4 500.4,106.5 503.8,86.6" fill="none" stroke="#e4dce4" stroke-width="0.75" stroke-linejoin="round"/>
<polygon points="500.4,106.5 479.9,109.5 470.6,91.5 485.4,77.4 503.8,86.6" fill="#34b434" fill-opacity="0.27" stroke="#2c2432" stroke-width="1.9" stroke-linejoin="round"/>
<polygon points="500.4,106.5 479.9,109.5 470.6,91.5 485.4,77.4 503.8,86.6" fill="none" stroke="#e4dce4" stroke-width="0.75" stroke-linejoin="round"/>
<polygon points="513.4,162.6 525.2,152.5 515.2,152.6 497.2,162.8 496.1,168.9" fill="#0a7c0a" fill-opacity="0.85" stroke="#123a12" stroke-width="0.9" stroke-linejoin="round"/>
<polygon points="496.1,168.9 497.2,162.8 481.7,149.4 471.1,147.2 480.0,159.3" fill="#0a7c0a" fill-opacity="0.85" stroke="#123a12" stroke-width="0.9" stroke-linejoin="round"/>
<polygon points="472.8,127.5 471.1,147.2 481.7,149.4 490.1,130.9 484.6,117.4" fill="#0a7c0a" fill-opacity="0.85" stroke="#123a12" stroke-width="0.9" stroke-linejoin="round"/>
<polygon points="518.0,120.7 501.9,111.1 484.6,117.4 490.1,130.9 510.8,132.9" fill="#0a7c0a" fill-opacity="0.85" stroke="#123a12" stroke-width="0.9" stroke-linejoin="round"/>
<polygon points="510.8,132.9 490.1,130.9 481.7,149.4 497.2,162.8 515.2,152.6" fill="#0a7c0a" fill-opacity="0.85" stroke="#123a12" stroke-width="0.9" stroke-linejoin="round"/>
<polygon points="518.0,120.7 510.8,132.9 515.2,152.6 525.2,152.5 526.9,132.8" fill="#0a7c0a" fill-opacity="0.85" stroke="#123a12" stroke-width="0.9" stroke-linejoin="round"/>
<polygon points="482.8,127.4 487.2,147.1 480.0,159.3 471.1,147.2 472.8,127.5" fill="#34b434" fill-opacity="0.30" stroke="#2c2432" stroke-width="1.9" stroke-linejoin="round"/>
<polygon points="482.8,127.4 487.2,147.1 480.0,159.3 471.1,147.2 472.8,127.5" fill="none" stroke="#e4dce4" stroke-width="0.75" stroke-linejoin="round"/>
<polygon points="482.8,127.4 472.8,127.5 484.6,117.4 501.9,111.1 500.8,117.2" fill="#34b434" fill-opacity="0.32" stroke="#2c2432" stroke-width="1.9" stroke-linejoin="round"/>
<polygon points="482.8,127.4 472.8,127.5 484.6,117.4 501.9,111.1 500.8,117.2" fill="none" stroke="#e4dce4" stroke-width="0.75" stroke-linejoin="round"/>
<polygon points="500.8,117.2 501.9,111.1 518.0,120.7 526.9,132.8 516.3,130.6" fill="#34b434" fill-opacity="0.31" stroke="#2c2432" stroke-width="1.9" stroke-linejoin="round"/>
<polygon points="500.8,117.2 501.9,111.1 518.0,120.7 526.9,132.8 516.3,130.6" fill="none" stroke="#e4dce4" stroke-width="0.75" stroke-linejoin="round"/>
<polygon points="513.4,162.6 496.1,168.9 480.0,159.3 487.2,147.1 507.9,149.1" fill="#34b434" fill-opacity="0.29" stroke="#2c2432" stroke-width="1.9" stroke-linejoin="round"/>
<polygon points="513.4,162.6 496.1,168.9 480.0,159.3 487.2,147.1 507.9,149.1" fill="none" stroke="#e4dce4" stroke-width="0.75" stroke-linejoin="round"/>
<polygon points="526.9,132.8 525.2,152.5 513.4,162.6 507.9,149.1 516.3,130.6" fill="#34b434" fill-opacity="0.30" stroke="#2c2432" stroke-width="1.9" stroke-linejoin="round"/>
<polygon points="526.9,132.8 525.2,152.5 513.4,162.6 507.9,149.1 516.3,130.6" fill="none" stroke="#e4dce4" stroke-width="0.75" stroke-linejoin="round"/>
<polygon points="507.9,149.1 487.2,147.1 482.8,127.4 500.8,117.2 516.3,130.6" fill="#34b434" fill-opacity="0.27" stroke="#2c2432" stroke-width="1.9" stroke-linejoin="round"/>
<polygon points="507.9,149.1 487.2,147.1 482.8,127.4 500.8,117.2 516.3,130.6" fill="none" stroke="#e4dce4" stroke-width="0.75" stroke-linejoin="round"/>
<polygon points="424.4,101.5 437,94.5 443.3,100.1 443.3,107.1 430.7,112.7" fill="#fff"/>
<polygon points="451.3,58.0 465.3,50.5 456.5,48.8 437.0,55.2 433.9,60.9" fill="#0a7c0a" fill-opacity="0.85" stroke="#123a12" stroke-width="0.9" stroke-linejoin="round"/>
<polygon points="433.9,60.9 437.0,55.2 424.7,39.3 414.0,35.1 419.6,48.5" fill="#0a7c0a" fill-opacity="0.85" stroke="#123a12" stroke-width="0.9" stroke-linejoin="round"/>
<polygon points="419.1,16.3 414.0,35.1 424.7,39.3 436.6,23.0 433.1,8.8" fill="#0a7c0a" fill-opacity="0.85" stroke="#123a12" stroke-width="0.9" stroke-linejoin="round"/>
<polygon points="464.8,18.3 450.5,5.9 433.1,8.8 436.6,23.0 456.2,28.9" fill="#0a7c0a" fill-opacity="0.85" stroke="#123a12" stroke-width="0.9" stroke-linejoin="round"/>
<polygon points="456.2,28.9 436.6,23.0 424.7,39.3 437.0,55.2 456.5,48.8" fill="#0a7c0a" fill-opacity="0.85" stroke="#123a12" stroke-width="0.9" stroke-linejoin="round"/>
<polygon points="464.8,18.3 456.2,28.9 456.5,48.8 465.3,50.5 470.4,31.7" fill="#0a7c0a" fill-opacity="0.85" stroke="#123a12" stroke-width="0.9" stroke-linejoin="round"/>
<circle cx="442.2" cy="32.4" r="8.3" fill="url(#gsph)"/>
<polygon points="427.9,18.0 428.2,37.9 419.6,48.5 414.0,35.1 419.1,16.3" fill="#34b434" fill-opacity="0.30" stroke="#2c2432" stroke-width="1.9" stroke-linejoin="round"/>
<polygon points="427.9,18.0 428.2,37.9 419.6,48.5 414.0,35.1 419.1,16.3" fill="none" stroke="#e4dce4" stroke-width="0.75" stroke-linejoin="round"/>
<polygon points="427.9,18.0 419.1,16.3 433.1,8.8 450.5,5.9 447.4,11.6" fill="#34b434" fill-opacity="0.32" stroke="#2c2432" stroke-width="1.9" stroke-linejoin="round"/>
<polygon points="427.9,18.0 419.1,16.3 433.1,8.8 450.5,5.9 447.4,11.6" fill="none" stroke="#e4dce4" stroke-width="0.75" stroke-linejoin="round"/>
<polygon points="447.4,11.6 450.5,5.9 464.8,18.3 470.4,31.7 459.7,27.5" fill="#34b434" fill-opacity="0.31" stroke="#2c2432" stroke-width="1.9" stroke-linejoin="round"/>
<polygon points="447.4,11.6 450.5,5.9 464.8,18.3 470.4,31.7 459.7,27.5" fill="none" stroke="#e4dce4" stroke-width="0.75" stroke-linejoin="round"/>
<polygon points="451.3,58.0 433.9,60.9 419.6,48.5 428.2,37.9 447.8,43.8" fill="#34b434" fill-opacity="0.29" stroke="#2c2432" stroke-width="1.9" stroke-linejoin="round"/>
<polygon points="451.3,58.0 433.9,60.9 419.6,48.5 428.2,37.9 447.8,43.8" fill="none" stroke="#e4dce4" stroke-width="0.75" stroke-linejoin="round"/>
<polygon points="470.4,31.7 465.3,50.5 451.3,58.0 447.8,43.8 459.7,27.5" fill="#34b434" fill-opacity="0.30" stroke="#2c2432" stroke-width="1.9" stroke-linejoin="round"/>
<polygon points="470.4,31.7 465.3,50.5 451.3,58.0 447.8,43.8 459.7,27.5" fill="none" stroke="#e4dce4" stroke-width="0.75" stroke-linejoin="round"/>
<polygon points="447.8,43.8 428.2,37.9 427.9,18.0 447.4,11.6 459.7,27.5" fill="#34b434" fill-opacity="0.27" stroke="#2c2432" stroke-width="1.9" stroke-linejoin="round"/>
<polygon points="447.8,43.8 428.2,37.9 427.9,18.0 447.4,11.6 459.7,27.5" fill="none" stroke="#e4dce4" stroke-width="0.75" stroke-linejoin="round"/>
<polygon points="433.5,93.8 444.8,82.9 434.4,83.5 416.6,94.8 416.0,101.1" fill="#0a7c0a" fill-opacity="0.85" stroke="#123a12" stroke-width="0.9" stroke-linejoin="round"/>
<polygon points="416.0,101.1 416.6,94.8 400.0,81.8 389.3,80.2 399.1,92.1" fill="#0a7c0a" fill-opacity="0.85" stroke="#123a12" stroke-width="0.9" stroke-linejoin="round"/>
<polygon points="390.2,59.9 389.3,80.2 400.0,81.8 407.6,62.6 401.5,49.0" fill="#0a7c0a" fill-opacity="0.85" stroke="#123a12" stroke-width="0.9" stroke-linejoin="round"/>
<polygon points="435.9,50.7 419.0,41.7 401.5,49.0 407.6,62.6 428.8,63.6" fill="#0a7c0a" fill-opacity="0.85" stroke="#123a12" stroke-width="0.9" stroke-linejoin="round"/>
<polygon points="428.8,63.6 407.6,62.6 400.0,81.8 416.6,94.8 434.4,83.5" fill="#0a7c0a" fill-opacity="0.85" stroke="#123a12" stroke-width="0.9" stroke-linejoin="round"/>
<polygon points="435.9,50.7 428.8,63.6 434.4,83.5 444.8,82.9 445.7,62.6" fill="#0a7c0a" fill-opacity="0.85" stroke="#123a12" stroke-width="0.9" stroke-linejoin="round"/>
<circle cx="417.5" cy="69.9" r="8.6" fill="url(#gsph)"/>
<polygon points="400.6,59.3 406.2,79.2 399.1,92.1 389.3,80.2 390.2,59.9" fill="#34b434" fill-opacity="0.30" stroke="#2c2432" stroke-width="1.9" stroke-linejoin="round"/>
<polygon points="400.6,59.3 406.2,79.2 399.1,92.1 389.3,80.2 390.2,59.9" fill="none" stroke="#e4dce4" stroke-width="0.75" stroke-linejoin="round"/>
<polygon points="400.6,59.3 390.2,59.9 401.5,49.0 419.0,41.7 418.4,48.0" fill="#34b434" fill-opacity="0.32" stroke="#2c2432" stroke-width="1.9" stroke-linejoin="round"/>
<polygon points="400.6,59.3 390.2,59.9 401.5,49.0 419.0,41.7 418.4,48.0" fill="none" stroke="#e4dce4" stroke-width="0.75" stroke-linejoin="round"/>
<polygon points="418.4,48.0 419.0,41.7 435.9,50.7 445.7,62.6 435.0,61.0" fill="#34b434" fill-opacity="0.31" stroke="#2c2432" stroke-width="1.9" stroke-linejoin="round"/>
<polygon points="418.4,48.0 419.0,41.7 435.9,50.7 445.7,62.6 435.0,61.0" fill="none" stroke="#e4dce4" stroke-width="0.75" stroke-linejoin="round"/>
<polygon points="433.5,93.8 416.0,101.1 399.1,92.1 406.2,79.2 427.4,80.2" fill="#34b434" fill-opacity="0.29" stroke="#2c2432" stroke-width="1.9" stroke-linejoin="round"/>
<polygon points="433.5,93.8 416.0,101.1 399.1,92.1 406.2,79.2 427.4,80.2" fill="none" stroke="#e4dce4" stroke-width="0.75" stroke-linejoin="round"/>
<polygon points="445.7,62.6 444.8,82.9 433.5,93.8 427.4,80.2 435.0,61.0" fill="#34b434" fill-opacity="0.30" stroke="#2c2432" stroke-width="1.9" stroke-linejoin="round"/>
<polygon points="445.7,62.6 444.8,82.9 433.5,93.8 427.4,80.2 435.0,61.0" fill="none" stroke="#e4dce4" stroke-width="0.75" stroke-linejoin="round"/>
<polygon points="427.4,80.2 406.2,79.2 400.6,59.3 418.4,48.0 435.0,61.0" fill="#34b434" fill-opacity="0.27" stroke="#2c2432" stroke-width="1.9" stroke-linejoin="round"/>
<polygon points="427.4,80.2 406.2,79.2 400.6,59.3 418.4,48.0 435.0,61.0" fill="none" stroke="#e4dce4" stroke-width="0.75" stroke-linejoin="round"/>
<polygon points="479.0,94.9 488.1,82.5 477.2,84.7 461.3,98.4 462.4,104.7" fill="#0a7c0a" fill-opacity="0.85" stroke="#123a12" stroke-width="0.9" stroke-linejoin="round"/>
<polygon points="462.4,104.7 461.3,98.4 442.9,88.0 432.7,87.9 444.7,98.2" fill="#0a7c0a" fill-opacity="0.85" stroke="#123a12" stroke-width="0.9" stroke-linejoin="round"/>
<polygon points="430.9,67.7 432.7,87.9 442.9,88.0 447.5,67.9 440.0,55.3" fill="#0a7c0a" fill-opacity="0.85" stroke="#123a12" stroke-width="0.9" stroke-linejoin="round"/>
<polygon points="474.3,52.0 456.6,45.5 440.0,55.3 447.5,67.9 468.6,65.8" fill="#0a7c0a" fill-opacity="0.85" stroke="#123a12" stroke-width="0.9" stroke-linejoin="round"/>
<polygon points="468.6,65.8 447.5,67.9 442.9,88.0 461.3,98.4 477.2,84.7" fill="#0a7c0a" fill-opacity="0.85" stroke="#123a12" stroke-width="0.9" stroke-linejoin="round"/>
<polygon points="474.3,52.0 468.6,65.8 477.2,84.7 488.1,82.5 486.3,62.3" fill="#0a7c0a" fill-opacity="0.85" stroke="#123a12" stroke-width="0.9" stroke-linejoin="round"/>
<circle cx="459.5" cy="73.6" r="8.6" fill="url(#gsph)"/>
<polygon points="441.8,65.5 450.4,84.4 444.7,98.2 432.7,87.9 430.9,67.7" fill="#34b434" fill-opacity="0.30" stroke="#2c2432" stroke-width="1.9" stroke-linejoin="round"/>
<polygon points="441.8,65.5 450.4,84.4 444.7,98.2 432.7,87.9 430.9,67.7" fill="none" stroke="#e4dce4" stroke-width="0.75" stroke-linejoin="round"/>
<polygon points="441.8,65.5 430.9,67.7 440.0,55.3 456.6,45.5 457.7,51.8" fill="#34b434" fill-opacity="0.31" stroke="#2c2432" stroke-width="1.9" stroke-linejoin="round"/>
<polygon points="441.8,65.5 430.9,67.7 440.0,55.3 456.6,45.5 457.7,51.8" fill="none" stroke="#e4dce4" stroke-width="0.75" stroke-linejoin="round"/>
<polygon points="457.7,51.8 456.6,45.5 474.3,52.0 486.3,62.3 476.1,62.2" fill="#34b434" fill-opacity="0.32" stroke="#2c2432" stroke-width="1.9" stroke-linejoin="round"/>
<polygon points="457.7,51.8 456.6,45.5 474.3,52.0 486.3,62.3 476.1,62.2" fill="none" stroke="#e4dce4" stroke-width="0.75" stroke-linejoin="round"/>
<polygon points="479.0,94.9 462.4,104.7 444.7,98.2 450.4,84.4 471.5,82.3" fill="#34b434" fill-opacity="0.29" stroke="#2c2432" stroke-width="1.9" stroke-linejoin="round"/>
<polygon points="479.0,94.9 462.4,104.7 444.7,98.2 450.4,84.4 471.5,82.3" fill="none" stroke="#e4dce4" stroke-width="0.75" stroke-linejoin="round"/>
<polygon points="486.3,62.3 488.1,82.5 479.0,94.9 471.5,82.3 476.1,62.2" fill="#34b434" fill-opacity="0.30" stroke="#2c2432" stroke-width="1.9" stroke-linejoin="round"/>
<polygon points="486.3,62.3 488.1,82.5 479.0,94.9 471.5,82.3 476.1,62.2" fill="none" stroke="#e4dce4" stroke-width="0.75" stroke-linejoin="round"/>
<polygon points="471.5,82.3 450.4,84.4 441.8,65.5 457.7,51.8 476.1,62.2" fill="#34b434" fill-opacity="0.27" stroke="#2c2432" stroke-width="1.9" stroke-linejoin="round"/>
<polygon points="471.5,82.3 450.4,84.4 441.8,65.5 457.7,51.8 476.1,62.2" fill="none" stroke="#e4dce4" stroke-width="0.75" stroke-linejoin="round"/>
<polygon points="408.4,136.2 419.3,124.4 408.4,125.6 390.7,138.1 390.7,144.6" fill="#0a7c0a" fill-opacity="0.85" stroke="#123a12" stroke-width="0.9" stroke-linejoin="round"/>
<polygon points="390.7,144.6 390.7,138.1 373.0,125.6 362.1,124.4 373.0,136.2" fill="#0a7c0a" fill-opacity="0.85" stroke="#123a12" stroke-width="0.9" stroke-linejoin="round"/>
<polygon points="362.1,103.6 362.1,124.4 373.0,125.6 379.8,105.4 373.0,91.8" fill="#0a7c0a" fill-opacity="0.85" stroke="#123a12" stroke-width="0.9" stroke-linejoin="round"/>
<polygon points="408.4,91.8 390.7,83.4 373.0,91.8 379.8,105.4 401.6,105.4" fill="#0a7c0a" fill-opacity="0.85" stroke="#123a12" stroke-width="0.9" stroke-linejoin="round"/>
<polygon points="401.6,105.4 379.8,105.4 373.0,125.6 390.7,138.1 408.4,125.6" fill="#0a7c0a" fill-opacity="0.85" stroke="#123a12" stroke-width="0.9" stroke-linejoin="round"/>
<polygon points="408.4,91.8 401.6,105.4 408.4,125.6 419.3,124.4 419.3,103.6" fill="#0a7c0a" fill-opacity="0.85" stroke="#123a12" stroke-width="0.9" stroke-linejoin="round"/>
<circle cx="390.7" cy="112.0" r="8.8" fill="url(#gsph)"/>
<polygon points="373.0,102.4 379.8,122.6 373.0,136.2 362.1,124.4 362.1,103.6" fill="#34b434" fill-opacity="0.30" stroke="#2c2432" stroke-width="1.9" stroke-linejoin="round"/>
<polygon points="373.0,102.4 379.8,122.6 373.0,136.2 362.1,124.4 362.1,103.6" fill="none" stroke="#e4dce4" stroke-width="0.75" stroke-linejoin="round"/>
<polygon points="373.0,102.4 362.1,103.6 373.0,91.8 390.7,83.4 390.7,89.9" fill="#34b434" fill-opacity="0.31" stroke="#2c2432" stroke-width="1.9" stroke-linejoin="round"/>
<polygon points="373.0,102.4 362.1,103.6 373.0,91.8 390.7,83.4 390.7,89.9" fill="none" stroke="#e4dce4" stroke-width="0.75" stroke-linejoin="round"/>
<polygon points="390.7,89.9 390.7,83.4 408.4,91.8 419.3,103.6 408.4,102.4" fill="#34b434" fill-opacity="0.31" stroke="#2c2432" stroke-width="1.9" stroke-linejoin="round"/>
<polygon points="390.7,89.9 390.7,83.4 408.4,91.8 419.3,103.6 408.4,102.4" fill="none" stroke="#e4dce4" stroke-width="0.75" stroke-linejoin="round"/>
<polygon points="408.4,136.2 390.7,144.6 373.0,136.2 379.8,122.6 401.6,122.6" fill="#34b434" fill-opacity="0.29" stroke="#2c2432" stroke-width="1.9" stroke-linejoin="round"/>
<polygon points="408.4,136.2 390.7,144.6 373.0,136.2 379.8,122.6 401.6,122.6" fill="none" stroke="#e4dce4" stroke-width="0.75" stroke-linejoin="round"/>
<polygon points="419.3,103.6 419.3,124.4 408.4,136.2 401.6,122.6 408.4,102.4" fill="#34b434" fill-opacity="0.30" stroke="#2c2432" stroke-width="1.9" stroke-linejoin="round"/>
<polygon points="419.3,103.6 419.3,124.4 408.4,136.2 401.6,122.6 408.4,102.4" fill="none" stroke="#e4dce4" stroke-width="0.75" stroke-linejoin="round"/>
<polygon points="401.6,122.6 379.8,122.6 373.0,102.4 390.7,89.9 408.4,102.4" fill="#34b434" fill-opacity="0.27" stroke="#2c2432" stroke-width="1.9" stroke-linejoin="round"/>
<polygon points="401.6,122.6 379.8,122.6 373.0,102.4 390.7,89.9 408.4,102.4" fill="none" stroke="#e4dce4" stroke-width="0.75" stroke-linejoin="round"/>
<polygon points="491.7,143.1 504.3,132.7 493.9,132.6 474.8,142.9 473.4,149.4" fill="#0a7c0a" fill-opacity="0.85" stroke="#123a12" stroke-width="0.9" stroke-linejoin="round"/>
<polygon points="473.4,149.4 474.8,142.9 458.7,128.5 447.5,126.1 456.5,139.0" fill="#0a7c0a" fill-opacity="0.85" stroke="#123a12" stroke-width="0.9" stroke-linejoin="round"/>
<polygon points="449.7,105.3 447.5,126.1 458.7,128.5 467.9,109.3 462.3,94.9" fill="#0a7c0a" fill-opacity="0.85" stroke="#123a12" stroke-width="0.9" stroke-linejoin="round"/>
<polygon points="497.5,99.0 480.6,88.6 462.3,94.9 467.9,109.3 489.7,111.8" fill="#0a7c0a" fill-opacity="0.85" stroke="#123a12" stroke-width="0.9" stroke-linejoin="round"/>
<polygon points="489.7,111.8 467.9,109.3 458.7,128.5 474.8,142.9 493.9,132.6" fill="#0a7c0a" fill-opacity="0.85" stroke="#123a12" stroke-width="0.9" stroke-linejoin="round"/>
<polygon points="497.5,99.0 489.7,111.8 493.9,132.6 504.3,132.7 506.5,111.9" fill="#0a7c0a" fill-opacity="0.85" stroke="#123a12" stroke-width="0.9" stroke-linejoin="round"/>
<circle cx="477.0" cy="117.0" r="8.8" fill="url(#gsph)"/>
<polygon points="460.1,105.4 464.3,126.2 456.5,139.0 447.5,126.1 449.7,105.3" fill="#34b434" fill-opacity="0.30" stroke="#2c2432" stroke-width="1.9" stroke-linejoin="round"/>
<polygon points="460.1,105.4 464.3,126.2 456.5,139.0 447.5,126.1 449.7,105.3" fill="none" stroke="#e4dce4" stroke-width="0.75" stroke-linejoin="round"/>
<polygon points="460.1,105.4 449.7,105.3 462.3,94.9 480.6,88.6 479.2,95.1" fill="#34b434" fill-opacity="0.32" stroke="#2c2432" stroke-width="1.9" stroke-linejoin="round"/>
<polygon points="460.1,105.4 449.7,105.3 462.3,94.9 480.6,88.6 479.2,95.1" fill="none" stroke="#e4dce4" stroke-width="0.75" stroke-linejoin="round"/>
<polygon points="479.2,95.1 480.6,88.6 497.5,99.0 506.5,111.9 495.3,109.5" fill="#34b434" fill-opacity="0.31" stroke="#2c2432" stroke-width="1.9" stroke-linejoin="round"/>
<polygon points="479.2,95.1 480.6,88.6 497.5,99.0 506.5,111.9 495.3,109.5" fill="none" stroke="#e4dce4" stroke-width="0.75" stroke-linejoin="round"/>
<polygon points="491.7,143.1 473.4,149.4 456.5,139.0 464.3,126.2 486.1,128.7" fill="#34b434" fill-opacity="0.29" stroke="#2c2432" stroke-width="1.9" stroke-linejoin="round"/>
<polygon points="491.7,143.1 473.4,149.4 456.5,139.0 464.3,126.2 486.1,128.7" fill="none" stroke="#e4dce4" stroke-width="0.75" stroke-linejoin="round"/>
<polygon points="506.5,111.9 504.3,132.7 491.7,143.1 486.1,128.7 495.3,109.5" fill="#34b434" fill-opacity="0.30" stroke="#2c2432" stroke-width="1.9" stroke-linejoin="round"/>
<polygon points="506.5,111.9 504.3,132.7 491.7,143.1 486.1,128.7 495.3,109.5" fill="none" stroke="#e4dce4" stroke-width="0.75" stroke-linejoin="round"/>
<polygon points="486.1,128.7 464.3,126.2 460.1,105.4 479.2,95.1 495.3,109.5" fill="#34b434" fill-opacity="0.27" stroke="#2c2432" stroke-width="1.9" stroke-linejoin="round"/>
<polygon points="486.1,128.7 464.3,126.2 460.1,105.4 479.2,95.1 495.3,109.5" fill="none" stroke="#e4dce4" stroke-width="0.75" stroke-linejoin="round"/>
<polygon points="383.2,176.1 394.4,164.0 383.2,165.2 365.0,178.0 365.0,184.8" fill="#0a7c0a" fill-opacity="0.85" stroke="#123a12" stroke-width="0.9" stroke-linejoin="round"/>
<polygon points="365.0,184.8 365.0,178.0 346.8,165.2 335.6,164.0 346.8,176.1" fill="#0a7c0a" fill-opacity="0.85" stroke="#123a12" stroke-width="0.9" stroke-linejoin="round"/>
<polygon points="335.6,142.6 335.6,164.0 346.8,165.2 353.8,144.5 346.8,130.5" fill="#0a7c0a" fill-opacity="0.85" stroke="#123a12" stroke-width="0.9" stroke-linejoin="round"/>
<polygon points="383.2,130.5 365.0,121.8 346.8,130.5 353.8,144.5 376.2,144.5" fill="#0a7c0a" fill-opacity="0.85" stroke="#123a12" stroke-width="0.9" stroke-linejoin="round"/>
<polygon points="376.2,144.5 353.8,144.5 346.8,165.2 365.0,178.0 383.2,165.2" fill="#0a7c0a" fill-opacity="0.85" stroke="#123a12" stroke-width="0.9" stroke-linejoin="round"/>
<polygon points="383.2,130.5 376.2,144.5 383.2,165.2 394.4,164.0 394.4,142.6" fill="#0a7c0a" fill-opacity="0.85" stroke="#123a12" stroke-width="0.9" stroke-linejoin="round"/>
<circle cx="365.0" cy="150.8" r="9.1" fill="url(#gsph)"/>
<polygon points="346.8,141.4 353.8,162.1 346.8,176.1 335.6,164.0 335.6,142.6" fill="#34b434" fill-opacity="0.30" stroke="#2c2432" stroke-width="1.9" stroke-linejoin="round"/>
<polygon points="346.8,141.4 353.8,162.1 346.8,176.1 335.6,164.0 335.6,142.6" fill="none" stroke="#e4dce4" stroke-width="0.75" stroke-linejoin="round"/>
<polygon points="346.8,141.4 335.6,142.6 346.8,130.5 365.0,121.8 365.0,128.6" fill="#34b434" fill-opacity="0.31" stroke="#2c2432" stroke-width="1.9" stroke-linejoin="round"/>
<polygon points="346.8,141.4 335.6,142.6 346.8,130.5 365.0,121.8 365.0,128.6" fill="none" stroke="#e4dce4" stroke-width="0.75" stroke-linejoin="round"/>
<polygon points="365.0,128.6 365.0,121.8 383.2,130.5 394.4,142.6 383.2,141.4" fill="#34b434" fill-opacity="0.31" stroke="#2c2432" stroke-width="1.9" stroke-linejoin="round"/>
<polygon points="365.0,128.6 365.0,121.8 383.2,130.5 394.4,142.6 383.2,141.4" fill="none" stroke="#e4dce4" stroke-width="0.75" stroke-linejoin="round"/>
<polygon points="383.2,176.1 365.0,184.8 346.8,176.1 353.8,162.1 376.2,162.1" fill="#34b434" fill-opacity="0.29" stroke="#2c2432" stroke-width="1.9" stroke-linejoin="round"/>
<polygon points="383.2,176.1 365.0,184.8 346.8,176.1 353.8,162.1 376.2,162.1" fill="none" stroke="#e4dce4" stroke-width="0.75" stroke-linejoin="round"/>
<polygon points="394.4,142.6 394.4,164.0 383.2,176.1 376.2,162.1 383.2,141.4" fill="#34b434" fill-opacity="0.30" stroke="#2c2432" stroke-width="1.9" stroke-linejoin="round"/>
<polygon points="394.4,142.6 394.4,164.0 383.2,176.1 376.2,162.1 383.2,141.4" fill="none" stroke="#e4dce4" stroke-width="0.75" stroke-linejoin="round"/>
<polygon points="376.2,162.1 353.8,162.1 346.8,141.4 365.0,128.6 383.2,141.4" fill="#34b434" fill-opacity="0.27" stroke="#2c2432" stroke-width="1.9" stroke-linejoin="round"/>
<polygon points="376.2,162.1 353.8,162.1 346.8,141.4 365.0,128.6 383.2,141.4" fill="none" stroke="#e4dce4" stroke-width="0.75" stroke-linejoin="round"/>
<polygon points="424.1,180.3 436.6,169.2 425.7,169.5 406.5,180.9 405.5,187.6" fill="#0a7c0a" fill-opacity="0.85" stroke="#123a12" stroke-width="0.9" stroke-linejoin="round"/>
<polygon points="405.5,187.6 406.5,180.9 389.4,166.7 377.9,164.6 387.9,177.5" fill="#0a7c0a" fill-opacity="0.85" stroke="#123a12" stroke-width="0.9" stroke-linejoin="round"/>
<polygon points="379.4,143.2 377.9,164.6 389.4,166.7 398.0,146.6 391.9,132.1" fill="#0a7c0a" fill-opacity="0.85" stroke="#123a12" stroke-width="0.9" stroke-linejoin="round"/>
<polygon points="428.1,134.9 410.5,124.8 391.9,132.1 398.0,146.6 420.4,148.3" fill="#0a7c0a" fill-opacity="0.85" stroke="#123a12" stroke-width="0.9" stroke-linejoin="round"/>
<polygon points="420.4,148.3 398.0,146.6 389.4,166.7 406.5,180.9 425.7,169.5" fill="#0a7c0a" fill-opacity="0.85" stroke="#123a12" stroke-width="0.9" stroke-linejoin="round"/>
<polygon points="428.1,134.9 420.4,148.3 425.7,169.5 436.6,169.2 438.1,147.8" fill="#0a7c0a" fill-opacity="0.85" stroke="#123a12" stroke-width="0.9" stroke-linejoin="round"/>
<circle cx="408.0" cy="153.7" r="9.1" fill="url(#gsph)"/>
<polygon points="390.3,142.9 395.6,164.1 387.9,177.5 377.9,164.6 379.4,143.2" fill="#34b434" fill-opacity="0.30" stroke="#2c2432" stroke-width="1.9" stroke-linejoin="round"/>
<polygon points="390.3,142.9 395.6,164.1 387.9,177.5 377.9,164.6 379.4,143.2" fill="none" stroke="#e4dce4" stroke-width="0.75" stroke-linejoin="round"/>
<polygon points="390.3,142.9 379.4,143.2 391.9,132.1 410.5,124.8 409.5,131.5" fill="#34b434" fill-opacity="0.32" stroke="#2c2432" stroke-width="1.9" stroke-linejoin="round"/>
<polygon points="390.3,142.9 379.4,143.2 391.9,132.1 410.5,124.8 409.5,131.5" fill="none" stroke="#e4dce4" stroke-width="0.75" stroke-linejoin="round"/>
<polygon points="409.5,131.5 410.5,124.8 428.1,134.9 438.1,147.8 426.6,145.7" fill="#34b434" fill-opacity="0.31" stroke="#2c2432" stroke-width="1.9" stroke-linejoin="round"/>
<polygon points="409.5,131.5 410.5,124.8 428.1,134.9 438.1,147.8 426.6,145.7" fill="none" stroke="#e4dce4" stroke-width="0.75" stroke-linejoin="round"/>
<polygon points="424.1,180.3 405.5,187.6 387.9,177.5 395.6,164.1 418.0,165.8" fill="#34b434" fill-opacity="0.29" stroke="#2c2432" stroke-width="1.9" stroke-linejoin="round"/>
<polygon points="424.1,180.3 405.5,187.6 387.9,177.5 395.6,164.1 418.0,165.8" fill="none" stroke="#e4dce4" stroke-width="0.75" stroke-linejoin="round"/>
<polygon points="438.1,147.8 436.6,169.2 424.1,180.3 418.0,165.8 426.6,145.7" fill="#34b434" fill-opacity="0.30" stroke="#2c2432" stroke-width="1.9" stroke-linejoin="round"/>
<polygon points="438.1,147.8 436.6,169.2 424.1,180.3 418.0,165.8 426.6,145.7" fill="none" stroke="#e4dce4" stroke-width="0.75" stroke-linejoin="round"/>
<polygon points="418.0,165.8 395.6,164.1 390.3,142.9 409.5,131.5 426.6,145.7" fill="#34b434" fill-opacity="0.27" stroke="#2c2432" stroke-width="1.9" stroke-linejoin="round"/>
<polygon points="418.0,165.8 395.6,164.1 390.3,142.9 409.5,131.5 426.6,145.7" fill="none" stroke="#e4dce4" stroke-width="0.75" stroke-linejoin="round"/>
<polygon points="470.8,179.6 481.3,167.0 469.9,168.7 452.4,182.4 452.9,189.1" fill="#0a7c0a" fill-opacity="0.85" stroke="#123a12" stroke-width="0.9" stroke-linejoin="round"/>
<polygon points="452.9,189.1 452.4,182.4 433.5,170.5 422.5,169.8 434.5,181.4" fill="#0a7c0a" fill-opacity="0.85" stroke="#123a12" stroke-width="0.9" stroke-linejoin="round"/>
<polygon points="421.5,148.4 422.5,169.8 433.5,170.5 439.4,149.5 432.0,135.8" fill="#0a7c0a" fill-opacity="0.85" stroke="#123a12" stroke-width="0.9" stroke-linejoin="round"/>
<polygon points="468.3,134.0 449.9,126.3 432.0,135.8 439.4,149.5 461.9,148.4" fill="#0a7c0a" fill-opacity="0.85" stroke="#123a12" stroke-width="0.9" stroke-linejoin="round"/>
<polygon points="461.9,148.4 439.4,149.5 433.5,170.5 452.4,182.4 469.9,168.7" fill="#0a7c0a" fill-opacity="0.85" stroke="#123a12" stroke-width="0.9" stroke-linejoin="round"/>
<polygon points="468.3,134.0 461.9,148.4 469.9,168.7 481.3,167.0 480.3,145.6" fill="#0a7c0a" fill-opacity="0.85" stroke="#123a12" stroke-width="0.9" stroke-linejoin="round"/>
<circle cx="451.4" cy="155.2" r="9.1" fill="url(#gsph)"/>
<polygon points="432.9,146.7 440.9,167.0 434.5,181.4 422.5,169.8 421.5,148.4" fill="#34b434" fill-opacity="0.30" stroke="#2c2432" stroke-width="1.9" stroke-linejoin="round"/>
<polygon points="432.9,146.7 440.9,167.0 434.5,181.4 422.5,169.8 421.5,148.4" fill="none" stroke="#e4dce4" stroke-width="0.75" stroke-linejoin="round"/>
<polygon points="432.9,146.7 421.5,148.4 432.0,135.8 449.9,126.3 450.4,133.0" fill="#34b434" fill-opacity="0.31" stroke="#2c2432" stroke-width="1.9" stroke-linejoin="round"/>
<polygon points="432.9,146.7 421.5,148.4 432.0,135.8 449.9,126.3 450.4,133.0" fill="none" stroke="#e4dce4" stroke-width="0.75" stroke-linejoin="round"/>
<polygon points="450.4,133.0 449.9,126.3 468.3,134.0 480.3,145.6 469.3,144.9" fill="#34b434" fill-opacity="0.32" stroke="#2c2432" stroke-width="1.9" stroke-linejoin="round"/>
<polygon points="450.4,133.0 449.9,126.3 468.3,134.0 480.3,145.6 469.3,144.9" fill="none" stroke="#e4dce4" stroke-width="0.75" stroke-linejoin="round"/>
<polygon points="470.8,179.6 452.9,189.1 434.5,181.4 440.9,167.0 463.4,165.9" fill="#34b434" fill-opacity="0.29" stroke="#2c2432" stroke-width="1.9" stroke-linejoin="round"/>
<polygon points="470.8,179.6 452.9,189.1 434.5,181.4 440.9,167.0 463.4,165.9" fill="none" stroke="#e4dce4" stroke-width="0.75" stroke-linejoin="round"/>
<polygon points="480.3,145.6 481.3,167.0 470.8,179.6 463.4,165.9 469.3,144.9" fill="#34b434" fill-opacity="0.30" stroke="#2c2432" stroke-width="1.9" stroke-linejoin="round"/>
<polygon points="480.3,145.6 481.3,167.0 470.8,179.6 463.4,165.9 469.3,144.9" fill="none" stroke="#e4dce4" stroke-width="0.75" stroke-linejoin="round"/>
<polygon points="463.4,165.9 440.9,167.0 432.9,146.7 450.4,133.0 469.3,144.9" fill="#34b434" fill-opacity="0.27" stroke="#2c2432" stroke-width="1.9" stroke-linejoin="round"/>
<polygon points="463.4,165.9 440.9,167.0 432.9,146.7 450.4,133.0 469.3,144.9" fill="none" stroke="#e4dce4" stroke-width="0.75" stroke-linejoin="round"/>
<polygon points="511.1,185.0 523.8,174.1 513.0,174.3 493.6,185.2 492.4,191.9" fill="#0a7c0a" fill-opacity="0.85" stroke="#123a12" stroke-width="0.9" stroke-linejoin="round"/>
<polygon points="492.4,191.9 493.6,185.2 476.8,170.7 465.2,168.4 474.9,181.5" fill="#0a7c0a" fill-opacity="0.85" stroke="#123a12" stroke-width="0.9" stroke-linejoin="round"/>
<polygon points="467.2,147.1 465.2,168.4 476.8,170.7 485.9,150.8 479.9,136.2" fill="#0a7c0a" fill-opacity="0.85" stroke="#123a12" stroke-width="0.9" stroke-linejoin="round"/>
<polygon points="516.1,139.7 498.6,129.3 479.9,136.2 485.9,150.8 508.2,153.0" fill="#0a7c0a" fill-opacity="0.85" stroke="#123a12" stroke-width="0.9" stroke-linejoin="round"/>
<polygon points="508.2,153.0 485.9,150.8 476.8,170.7 493.6,185.2 513.0,174.3" fill="#0a7c0a" fill-opacity="0.85" stroke="#123a12" stroke-width="0.9" stroke-linejoin="round"/>
<polygon points="516.1,139.7 508.2,153.0 513.0,174.3 523.8,174.1 525.8,152.8" fill="#0a7c0a" fill-opacity="0.85" stroke="#123a12" stroke-width="0.9" stroke-linejoin="round"/>
<circle cx="495.5" cy="158.1" r="9.1" fill="url(#gsph)"/>
<polygon points="478.0,146.9 482.8,168.2 474.9,181.5 465.2,168.4 467.2,147.1" fill="#34b434" fill-opacity="0.30" stroke="#2c2432" stroke-width="1.9" stroke-linejoin="round"/>
<polygon points="478.0,146.9 482.8,168.2 474.9,181.5 465.2,168.4 467.2,147.1" fill="none" stroke="#e4dce4" stroke-width="0.75" stroke-linejoin="round"/>
<polygon points="478.0,146.9 467.2,147.1 479.9,136.2 498.6,129.3 497.4,136.0" fill="#34b434" fill-opacity="0.32" stroke="#2c2432" stroke-width="1.9" stroke-linejoin="round"/>
<polygon points="478.0,146.9 467.2,147.1 479.9,136.2 498.6,129.3 497.4,136.0" fill="none" stroke="#e4dce4" stroke-width="0.75" stroke-linejoin="round"/>
<polygon points="497.4,136.0 498.6,129.3 516.1,139.7 525.8,152.8 514.2,150.5" fill="#34b434" fill-opacity="0.31" stroke="#2c2432" stroke-width="1.9" stroke-linejoin="round"/>
<polygon points="497.4,136.0 498.6,129.3 516.1,139.7 525.8,152.8 514.2,150.5" fill="none" stroke="#e4dce4" stroke-width="0.75" stroke-linejoin="round"/>
<polygon points="511.1,185.0 492.4,191.9 474.9,181.5 482.8,168.2 505.1,170.4" fill="#34b434" fill-opacity="0.29" stroke="#2c2432" stroke-width="1.9" stroke-linejoin="round"/>
<polygon points="511.1,185.0 492.4,191.9 474.9,181.5 482.8,168.2 505.1,170.4" fill="none" stroke="#e4dce4" stroke-width="0.75" stroke-linejoin="round"/>
<polygon points="525.8,152.8 523.8,174.1 511.1,185.0 505.1,170.4 514.2,150.5" fill="#34b434" fill-opacity="0.30" stroke="#2c2432" stroke-width="1.9" stroke-linejoin="round"/>
<polygon points="525.8,152.8 523.8,174.1 511.1,185.0 505.1,170.4 514.2,150.5" fill="none" stroke="#e4dce4" stroke-width="0.75" stroke-linejoin="round"/>
<polygon points="505.1,170.4 482.8,168.2 478.0,146.9 497.4,136.0 514.2,150.5" fill="#34b434" fill-opacity="0.27" stroke="#2c2432" stroke-width="1.9" stroke-linejoin="round"/>
<polygon points="505.1,170.4 482.8,168.2 478.0,146.9 497.4,136.0 514.2,150.5" fill="none" stroke="#e4dce4" stroke-width="0.75" stroke-linejoin="round"/>
<circle cx="421.6" cy="110.6" r="8" fill="url(#gold)"/>
<circle cx="444.7" cy="118.3" r="7.6" fill="url(#gold)"/>
<text x="0.6" y="22.3" font-size="17.6" fill="#111">(a)</text>
<text x="290.8" y="22.3" font-size="17.6" fill="#111">(b)</text>
<text x="0.6" y="219.6" font-size="17.6" fill="#111">(c)</text>
<text x="290" y="220.6" font-size="17.6" fill="#111">(d)</text>
<text x="0" y="427" font-size="17.6" fill="#111">(e)</text>
<text x="292.5" y="427.5" font-size="17.6" fill="#111">(f)</text>
<text x="-0.5" y="637.8" font-size="17.6" fill="#111">(g)</text>
<text x="290" y="640.2" font-size="17.6" fill="#111">(h)</text>
<g stroke="#666666" stroke-width="1.35" fill="none" stroke-linecap="square">
<line x1="49.2" y1="206.8" x2="250.1" y2="206.8"/>
<line x1="253.1" y1="206.8" x2="274.5" y2="206.8"/>
<line x1="49.2" y1="374.1" x2="250.1" y2="374.1"/>
<line x1="253.1" y1="374.1" x2="274.5" y2="374.1"/>
<line x1="49.2" y1="206.8" x2="49.2" y2="239"/>
<line x1="49.2" y1="242" x2="49.2" y2="374.1"/>
<line x1="274.5" y1="206.8" x2="274.5" y2="239"/>
<line x1="274.5" y1="242" x2="274.5" y2="374.1"/>
</g>
<g stroke="#222" stroke-width="1" fill="none">
<line x1="248.5" y1="209.8" x2="251.7" y2="203.8"/>
<line x1="251.5" y1="209.8" x2="254.7" y2="203.8"/>
<line x1="248.5" y1="377.1" x2="251.7" y2="371.1"/>
<line x1="251.5" y1="377.1" x2="254.7" y2="371.1"/>
<line x1="46.2" y1="240.6" x2="52.2" y2="237.4"/>
<line x1="46.2" y1="243.6" x2="52.2" y2="240.4"/>
<line x1="271.5" y1="240.6" x2="277.5" y2="237.4"/>
<line x1="271.5" y1="243.6" x2="277.5" y2="240.4"/>
</g>
<g stroke="#666666" stroke-width="1">
<line x1="46.2" y1="364.6" x2="49.2" y2="364.6"/>
<line x1="274.5" y1="364.6" x2="272" y2="364.6"/>
<line x1="46.2" y1="345.7" x2="49.2" y2="345.7"/>
<line x1="274.5" y1="345.7" x2="272" y2="345.7"/>
<line x1="46.2" y1="326.8" x2="49.2" y2="326.8"/>
<line x1="274.5" y1="326.8" x2="272" y2="326.8"/>
<line x1="46.2" y1="307.9" x2="49.2" y2="307.9"/>
<line x1="274.5" y1="307.9" x2="272" y2="307.9"/>
<line x1="46.2" y1="289" x2="49.2" y2="289"/>
<line x1="274.5" y1="289" x2="272" y2="289"/>
<line x1="46.2" y1="270.1" x2="49.2" y2="270.1"/>
<line x1="274.5" y1="270.1" x2="272" y2="270.1"/>
<line x1="46.2" y1="251.2" x2="49.2" y2="251.2"/>
<line x1="274.5" y1="251.2" x2="272" y2="251.2"/>
<line x1="47.6" y1="355.15" x2="49.2" y2="355.15"/>
<line x1="274.5" y1="355.15" x2="273" y2="355.15"/>
<line x1="47.6" y1="336.25" x2="49.2" y2="336.25"/>
<line x1="274.5" y1="336.25" x2="273" y2="336.25"/>
<line x1="47.6" y1="317.35" x2="49.2" y2="317.35"/>
<line x1="274.5" y1="317.35" x2="273" y2="317.35"/>
<line x1="47.6" y1="298.45" x2="49.2" y2="298.45"/>
<line x1="274.5" y1="298.45" x2="273" y2="298.45"/>
<line x1="47.6" y1="279.55" x2="49.2" y2="279.55"/>
<line x1="274.5" y1="279.55" x2="273" y2="279.55"/>
<line x1="47.6" y1="260.65" x2="49.2" y2="260.65"/>
<line x1="274.5" y1="260.65" x2="273" y2="260.65"/>
<line x1="47.6" y1="241.75" x2="49.2" y2="241.75"/>
<line x1="274.5" y1="241.75" x2="273" y2="241.75"/>
</g>
<g font-size="9.0" font-weight="bold" text-anchor="end" fill="#111" stroke="#111" stroke-width="0.25">
<text transform="translate(43.8,367.6) scale(0.94,1)">0</text>
<text transform="translate(43.8,348.7) scale(0.94,1)">10</text>
<text transform="translate(43.8,329.8) scale(0.94,1)">20</text>
<text transform="translate(43.8,310.9) scale(0.94,1)">30</text>
<text transform="translate(43.8,292) scale(0.94,1)">40</text>
<text transform="translate(43.8,273.1) scale(0.94,1)">50</text>
<text transform="translate(43.8,254.2) scale(0.94,1)">60</text>
</g>
<g stroke="#666666" stroke-width="1">
<line x1="46.2" y1="212.3" x2="49.2" y2="212.3"/>
<line x1="274.5" y1="212.3" x2="272" y2="212.3"/>
<line x1="46.2" y1="221.6" x2="49.2" y2="221.6"/>
<line x1="274.5" y1="221.6" x2="272" y2="221.6"/>
<line x1="46.2" y1="231.2" x2="49.2" y2="231.2"/>
<line x1="274.5" y1="231.2" x2="272" y2="231.2"/>
<line x1="47.6" y1="207.6" x2="49.2" y2="207.6"/>
<line x1="274.5" y1="207.6" x2="273" y2="207.6"/>
<line x1="47.6" y1="216.9" x2="49.2" y2="216.9"/>
<line x1="274.5" y1="216.9" x2="273" y2="216.9"/>
<line x1="47.6" y1="226.4" x2="49.2" y2="226.4"/>
<line x1="274.5" y1="226.4" x2="273" y2="226.4"/>
<line x1="47.6" y1="236" x2="49.2" y2="236"/>
<line x1="274.5" y1="236" x2="273" y2="236"/>
</g>
<g font-size="9.0" font-weight="bold" text-anchor="end" fill="#111" stroke="#111" stroke-width="0.25">
<text transform="translate(43.8,215.3) scale(0.94,1)">900</text>
<text transform="translate(43.8,224.6) scale(0.94,1)">600</text>
<text transform="translate(43.8,234.2) scale(0.94,1)">300</text>
</g>
<g stroke="#666666" stroke-width="1">
<line x1="61.6" y1="374.1" x2="61.6" y2="377.1"/>
<line x1="61.6" y1="206.8" x2="61.6" y2="209.3"/>
<line x1="85.06" y1="374.1" x2="85.06" y2="377.1"/>
<line x1="85.06" y1="206.8" x2="85.06" y2="209.3"/>
<line x1="108.51" y1="374.1" x2="108.51" y2="377.1"/>
<line x1="108.51" y1="206.8" x2="108.51" y2="209.3"/>
<line x1="131.97" y1="374.1" x2="131.97" y2="377.1"/>
<line x1="131.97" y1="206.8" x2="131.97" y2="209.3"/>
<line x1="155.43" y1="374.1" x2="155.43" y2="377.1"/>
<line x1="155.43" y1="206.8" x2="155.43" y2="209.3"/>
<line x1="178.89" y1="374.1" x2="178.89" y2="377.1"/>
<line x1="178.89" y1="206.8" x2="178.89" y2="209.3"/>
<line x1="202.34" y1="374.1" x2="202.34" y2="377.1"/>
<line x1="202.34" y1="206.8" x2="202.34" y2="209.3"/>
<line x1="225.8" y1="374.1" x2="225.8" y2="377.1"/>
<line x1="225.8" y1="206.8" x2="225.8" y2="209.3"/>
<line x1="73.33" y1="374.1" x2="73.33" y2="375.7"/>
<line x1="73.33" y1="206.8" x2="73.33" y2="208.3"/>
<line x1="96.79" y1="374.1" x2="96.79" y2="375.7"/>
<line x1="96.79" y1="206.8" x2="96.79" y2="208.3"/>
<line x1="120.24" y1="374.1" x2="120.24" y2="375.7"/>
<line x1="120.24" y1="206.8" x2="120.24" y2="208.3"/>
<line x1="143.7" y1="374.1" x2="143.7" y2="375.7"/>
<line x1="143.7" y1="206.8" x2="143.7" y2="208.3"/>
<line x1="167.16" y1="374.1" x2="167.16" y2="375.7"/>
<line x1="167.16" y1="206.8" x2="167.16" y2="208.3"/>
<line x1="190.61" y1="374.1" x2="190.61" y2="375.7"/>
<line x1="190.61" y1="206.8" x2="190.61" y2="208.3"/>
<line x1="214.07" y1="374.1" x2="214.07" y2="375.7"/>
<line x1="214.07" y1="206.8" x2="214.07" y2="208.3"/>
<line x1="237.53" y1="374.1" x2="237.53" y2="375.7"/>
<line x1="237.53" y1="206.8" x2="237.53" y2="208.3"/>
</g>
<g font-size="9.0" font-weight="bold" text-anchor="middle" fill="#111" stroke="#111" stroke-width="0.25">
<text transform="translate(61.6,386.7) scale(0.94,1)">0</text>
<text transform="translate(85.06,386.7) scale(0.94,1)">1</text>
<text transform="translate(108.51,386.7) scale(0.94,1)">2</text>
<text transform="translate(131.97,386.7) scale(0.94,1)">3</text>
<text transform="translate(155.43,386.7) scale(0.94,1)">4</text>
<text transform="translate(178.89,386.7) scale(0.94,1)">5</text>
<text transform="translate(202.34,386.7) scale(0.94,1)">6</text>
<text transform="translate(225.8,386.7) scale(0.94,1)">7</text>
</g>
<g stroke="#666666" stroke-width="1">
<line x1="255.2" y1="374.1" x2="255.2" y2="377.1"/>
<line x1="255.2" y1="206.8" x2="255.2" y2="209.3"/>
<line x1="269.2" y1="374.1" x2="269.2" y2="377.1"/>
<line x1="269.2" y1="206.8" x2="269.2" y2="209.3"/>
<line x1="262.2" y1="374.1" x2="262.2" y2="375.7"/>
<line x1="262.2" y1="206.8" x2="262.2" y2="208.3"/>
</g>
<g font-size="9.0" font-weight="bold" text-anchor="middle" fill="#111" stroke="#111" stroke-width="0.25">
<text transform="translate(255.2,386.7) scale(0.94,1)">15</text>
<text transform="translate(269.2,386.7) scale(0.94,1)">20</text>
</g>
<text transform="translate(17.3,290.5) rotate(-90)" font-size="10.2" font-weight="bold" text-anchor="middle" fill="#111"><tspan font-weight="normal" font-size="8">μ</tspan><tspan font-size="6.5" dy="2">H</tspan><tspan dy="-2"> ( cm</tspan><tspan font-size="6.5" dy="-4.2">2</tspan><tspan dy="4.2"> V</tspan><tspan font-size="6.5" dy="-4.2">-1</tspan><tspan dy="4.2">s</tspan><tspan font-size="6.5" dy="-4.2">-1</tspan><tspan dy="4.2"> )</tspan></text>
<text x="163.5" y="402.6" font-size="10.2" font-weight="bold" text-anchor="middle" fill="#111">m<tspan font-size="6.5" dy="2">s</tspan><tspan dy="-2">* (m</tspan><tspan font-size="6.5" dy="2">e</tspan><tspan dy="-2">)</tspan></text>
<g stroke="#666666" stroke-width="1">
<line x1="335.8" y1="364.6" x2="338.8" y2="364.6"/>
<line x1="565.2" y1="364.6" x2="562.7" y2="364.6"/>
<line x1="335.8" y1="346" x2="338.8" y2="346"/>
<line x1="565.2" y1="346" x2="562.7" y2="346"/>
<line x1="335.8" y1="327.4" x2="338.8" y2="327.4"/>
<line x1="565.2" y1="327.4" x2="562.7" y2="327.4"/>
<line x1="335.8" y1="308.8" x2="338.8" y2="308.8"/>
<line x1="565.2" y1="308.8" x2="562.7" y2="308.8"/>
<line x1="335.8" y1="290.2" x2="338.8" y2="290.2"/>
<line x1="565.2" y1="290.2" x2="562.7" y2="290.2"/>
<line x1="335.8" y1="271.6" x2="338.8" y2="271.6"/>
<line x1="565.2" y1="271.6" x2="562.7" y2="271.6"/>
<line x1="335.8" y1="253" x2="338.8" y2="253"/>
<line x1="565.2" y1="253" x2="562.7" y2="253"/>
<line x1="335.8" y1="234.4" x2="338.8" y2="234.4"/>
<line x1="565.2" y1="234.4" x2="562.7" y2="234.4"/>
<line x1="335.8" y1="215.8" x2="338.8" y2="215.8"/>
<line x1="565.2" y1="215.8" x2="562.7" y2="215.8"/>
<line x1="337.2" y1="373.9" x2="338.8" y2="373.9"/>
<line x1="565.2" y1="373.9" x2="563.7" y2="373.9"/>
<line x1="337.2" y1="355.3" x2="338.8" y2="355.3"/>
<line x1="565.2" y1="355.3" x2="563.7" y2="355.3"/>
<line x1="337.2" y1="336.7" x2="338.8" y2="336.7"/>
<line x1="565.2" y1="336.7" x2="563.7" y2="336.7"/>
<line x1="337.2" y1="318.1" x2="338.8" y2="318.1"/>
<line x1="565.2" y1="318.1" x2="563.7" y2="318.1"/>
<line x1="337.2" y1="299.5" x2="338.8" y2="299.5"/>
<line x1="565.2" y1="299.5" x2="563.7" y2="299.5"/>
<line x1="337.2" y1="280.9" x2="338.8" y2="280.9"/>
<line x1="565.2" y1="280.9" x2="563.7" y2="280.9"/>
<line x1="337.2" y1="262.3" x2="338.8" y2="262.3"/>
<line x1="565.2" y1="262.3" x2="563.7" y2="262.3"/>
<line x1="337.2" y1="243.7" x2="338.8" y2="243.7"/>
<line x1="565.2" y1="243.7" x2="563.7" y2="243.7"/>
<line x1="337.2" y1="225.1" x2="338.8" y2="225.1"/>
<line x1="565.2" y1="225.1" x2="563.7" y2="225.1"/>
<line x1="337.2" y1="206.5" x2="338.8" y2="206.5"/>
<line x1="565.2" y1="206.5" x2="563.7" y2="206.5"/>
</g>
<g font-size="9.0" font-weight="bold" text-anchor="end" fill="#111" stroke="#111" stroke-width="0.25">
<text transform="translate(333.4,367.6) scale(0.94,1)">-400</text>
<text transform="translate(333.4,349) scale(0.94,1)">-300</text>
<text transform="translate(333.4,330.4) scale(0.94,1)">-200</text>
<text transform="translate(333.4,311.8) scale(0.94,1)">-100</text>
<text transform="translate(333.4,293.2) scale(0.94,1)">0</text>
<text transform="translate(333.4,274.6) scale(0.94,1)">100</text>
<text transform="translate(333.4,256) scale(0.94,1)">200</text>
<text transform="translate(333.4,237.4) scale(0.94,1)">300</text>
<text transform="translate(333.4,218.8) scale(0.94,1)">400</text>
</g>
<g stroke="#666666" stroke-width="1">
<line x1="353.6" y1="374.6" x2="353.6" y2="377.6"/>
<line x1="353.6" y1="206.5" x2="353.6" y2="209"/>
<line x1="382.86" y1="374.6" x2="382.86" y2="377.6"/>
<line x1="382.86" y1="206.5" x2="382.86" y2="209"/>
<line x1="412.11" y1="374.6" x2="412.11" y2="377.6"/>
<line x1="412.11" y1="206.5" x2="412.11" y2="209"/>
<line x1="441.37" y1="374.6" x2="441.37" y2="377.6"/>
<line x1="441.37" y1="206.5" x2="441.37" y2="209"/>
<line x1="470.63" y1="374.6" x2="470.63" y2="377.6"/>
<line x1="470.63" y1="206.5" x2="470.63" y2="209"/>
<line x1="499.89" y1="374.6" x2="499.89" y2="377.6"/>
<line x1="499.89" y1="206.5" x2="499.89" y2="209"/>
<line x1="529.14" y1="374.6" x2="529.14" y2="377.6"/>
<line x1="529.14" y1="206.5" x2="529.14" y2="209"/>
<line x1="558.4" y1="374.6" x2="558.4" y2="377.6"/>
<line x1="558.4" y1="206.5" x2="558.4" y2="209"/>
<line x1="338.97" y1="374.6" x2="338.97" y2="376.2"/>
<line x1="338.97" y1="206.5" x2="338.97" y2="208"/>
<line x1="368.23" y1="374.6" x2="368.23" y2="376.2"/>
<line x1="368.23" y1="206.5" x2="368.23" y2="208"/>
<line x1="397.49" y1="374.6" x2="397.49" y2="376.2"/>
<line x1="397.49" y1="206.5" x2="397.49" y2="208"/>
<line x1="426.74" y1="374.6" x2="426.74" y2="376.2"/>
<line x1="426.74" y1="206.5" x2="426.74" y2="208"/>
<line x1="456" y1="374.6" x2="456" y2="376.2"/>
<line x1="456" y1="206.5" x2="456" y2="208"/>
<line x1="485.26" y1="374.6" x2="485.26" y2="376.2"/>
<line x1="485.26" y1="206.5" x2="485.26" y2="208"/>
<line x1="514.51" y1="374.6" x2="514.51" y2="376.2"/>
<line x1="514.51" y1="206.5" x2="514.51" y2="208"/>
<line x1="543.77" y1="374.6" x2="543.77" y2="376.2"/>
<line x1="543.77" y1="206.5" x2="543.77" y2="208"/>
</g>
<g font-size="9.0" font-weight="bold" text-anchor="middle" fill="#111" stroke="#111" stroke-width="0.25">
<text transform="translate(353.6,387.2) scale(0.94,1)">0</text>
<text transform="translate(382.86,387.2) scale(0.94,1)">500</text>
<text transform="translate(412.11,387.2) scale(0.94,1)">1000</text>
<text transform="translate(441.37,387.2) scale(0.94,1)">1500</text>
<text transform="translate(470.63,387.2) scale(0.94,1)">2000</text>
<text transform="translate(499.89,387.2) scale(0.94,1)">2500</text>
<text transform="translate(529.14,387.2) scale(0.94,1)">3000</text>
<text transform="translate(558.4,387.2) scale(0.94,1)">3500</text>
</g>
<g stroke="#666666" stroke-width="1.35" fill="none" stroke-linecap="square">
<line x1="338.8" y1="206.5" x2="565.2" y2="206.5"/>
<line x1="338.8" y1="374.6" x2="565.2" y2="374.6"/>
<line x1="338.8" y1="206.5" x2="338.8" y2="374.6"/>
<line x1="565.2" y1="206.5" x2="565.2" y2="374.6"/>
</g>
<g stroke="#222" stroke-width="1" fill="none">
</g>
<text transform="translate(308.6,289.8) rotate(-90)" font-size="10.2" font-weight="bold" text-anchor="middle" fill="#111">S ( <tspan font-weight="normal" font-size="8">μ</tspan>V K<tspan font-size="6.5" dy="-4.2">-1</tspan><tspan dy="4.2"> )</tspan></text>
<text x="452.3" y="404" font-size="10.2" font-weight="bold" text-anchor="middle" fill="#111"><tspan font-weight="normal">σ</tspan> ( S cm<tspan font-size="6.5" dy="-4.2">-1</tspan><tspan dy="4.2"> )</tspan></text>
<g stroke="#666666" stroke-width="1.35" fill="none" stroke-linecap="square">
<line x1="45.2" y1="413.4" x2="238.2" y2="413.4"/>
<line x1="241.2" y1="413.4" x2="273.3" y2="413.4"/>
<line x1="45.2" y1="582.4" x2="238.2" y2="582.4"/>
<line x1="241.2" y1="582.4" x2="273.3" y2="582.4"/>
<line x1="45.2" y1="413.4" x2="45.2" y2="445.9"/>
<line x1="45.2" y1="448.9" x2="45.2" y2="582.4"/>
<line x1="273.3" y1="413.4" x2="273.3" y2="445.9"/>
<line x1="273.3" y1="448.9" x2="273.3" y2="582.4"/>
</g>
<g stroke="#222" stroke-width="1" fill="none">
<line x1="236.6" y1="416.4" x2="239.8" y2="410.4"/>
<line x1="239.6" y1="416.4" x2="242.8" y2="410.4"/>
<line x1="236.6" y1="585.4" x2="239.8" y2="579.4"/>
<line x1="239.6" y1="585.4" x2="242.8" y2="579.4"/>
<line x1="42.2" y1="447.5" x2="48.2" y2="444.3"/>
<line x1="42.2" y1="450.5" x2="48.2" y2="447.3"/>
<line x1="270.3" y1="447.5" x2="276.3" y2="444.3"/>
<line x1="270.3" y1="450.5" x2="276.3" y2="447.3"/>
</g>
<g stroke="#666666" stroke-width="1">
<line x1="42.2" y1="571.7" x2="45.2" y2="571.7"/>
<line x1="273.3" y1="571.7" x2="270.8" y2="571.7"/>
<line x1="42.2" y1="551.3" x2="45.2" y2="551.3"/>
<line x1="273.3" y1="551.3" x2="270.8" y2="551.3"/>
<line x1="42.2" y1="530.9" x2="45.2" y2="530.9"/>
<line x1="273.3" y1="530.9" x2="270.8" y2="530.9"/>
<line x1="42.2" y1="510.5" x2="45.2" y2="510.5"/>
<line x1="273.3" y1="510.5" x2="270.8" y2="510.5"/>
<line x1="42.2" y1="490.1" x2="45.2" y2="490.1"/>
<line x1="273.3" y1="490.1" x2="270.8" y2="490.1"/>
<line x1="42.2" y1="469.7" x2="45.2" y2="469.7"/>
<line x1="273.3" y1="469.7" x2="270.8" y2="469.7"/>
<line x1="43.6" y1="581.9" x2="45.2" y2="581.9"/>
<line x1="273.3" y1="581.9" x2="271.8" y2="581.9"/>
<line x1="43.6" y1="561.5" x2="45.2" y2="561.5"/>
<line x1="273.3" y1="561.5" x2="271.8" y2="561.5"/>
<line x1="43.6" y1="541.1" x2="45.2" y2="541.1"/>
<line x1="273.3" y1="541.1" x2="271.8" y2="541.1"/>
<line x1="43.6" y1="520.7" x2="45.2" y2="520.7"/>
<line x1="273.3" y1="520.7" x2="271.8" y2="520.7"/>
<line x1="43.6" y1="500.3" x2="45.2" y2="500.3"/>
<line x1="273.3" y1="500.3" x2="271.8" y2="500.3"/>
<line x1="43.6" y1="479.9" x2="45.2" y2="479.9"/>
<line x1="273.3" y1="479.9" x2="271.8" y2="479.9"/>
<line x1="43.6" y1="459.5" x2="45.2" y2="459.5"/>
<line x1="273.3" y1="459.5" x2="271.8" y2="459.5"/>
</g>
<g font-size="9.0" font-weight="bold" text-anchor="end" fill="#111" stroke="#111" stroke-width="0.25">
<text transform="translate(39.8,574.7) scale(0.94,1)">0</text>
<text transform="translate(39.8,554.3) scale(0.94,1)">1</text>
<text transform="translate(39.8,533.9) scale(0.94,1)">2</text>
<text transform="translate(39.8,513.5) scale(0.94,1)">3</text>
<text transform="translate(39.8,493.1) scale(0.94,1)">4</text>
<text transform="translate(39.8,472.7) scale(0.94,1)">5</text>
</g>
<g stroke="#666666" stroke-width="1">
<line x1="42.2" y1="439" x2="45.2" y2="439"/>
<line x1="273.3" y1="439" x2="270.8" y2="439"/>
<line x1="42.2" y1="426.2" x2="45.2" y2="426.2"/>
<line x1="273.3" y1="426.2" x2="270.8" y2="426.2"/>
<line x1="42.2" y1="413.4" x2="45.2" y2="413.4"/>
<line x1="273.3" y1="413.4" x2="270.8" y2="413.4"/>
<line x1="43.6" y1="445.4" x2="45.2" y2="445.4"/>
<line x1="273.3" y1="445.4" x2="271.8" y2="445.4"/>
<line x1="43.6" y1="432.6" x2="45.2" y2="432.6"/>
<line x1="273.3" y1="432.6" x2="271.8" y2="432.6"/>
<line x1="43.6" y1="419.8" x2="45.2" y2="419.8"/>
<line x1="273.3" y1="419.8" x2="271.8" y2="419.8"/>
</g>
<g font-size="9.0" font-weight="bold" text-anchor="end" fill="#111" stroke="#111" stroke-width="0.25">
<text transform="translate(39.8,442) scale(0.94,1)">12</text>
<text transform="translate(39.8,429.2) scale(0.94,1)">14</text>
<text transform="translate(39.8,416.4) scale(0.94,1)">16</text>
</g>
<g stroke="#666666" stroke-width="1">
<line x1="57.1" y1="582.4" x2="57.1" y2="585.4"/>
<line x1="57.1" y1="413.4" x2="57.1" y2="415.9"/>
<line x1="84.8" y1="582.4" x2="84.8" y2="585.4"/>
<line x1="84.8" y1="413.4" x2="84.8" y2="415.9"/>
<line x1="112.5" y1="582.4" x2="112.5" y2="585.4"/>
<line x1="112.5" y1="413.4" x2="112.5" y2="415.9"/>
<line x1="140.2" y1="582.4" x2="140.2" y2="585.4"/>
<line x1="140.2" y1="413.4" x2="140.2" y2="415.9"/>
<line x1="167.9" y1="582.4" x2="167.9" y2="585.4"/>
<line x1="167.9" y1="413.4" x2="167.9" y2="415.9"/>
<line x1="195.6" y1="582.4" x2="195.6" y2="585.4"/>
<line x1="195.6" y1="413.4" x2="195.6" y2="415.9"/>
<line x1="223.3" y1="582.4" x2="223.3" y2="585.4"/>
<line x1="223.3" y1="413.4" x2="223.3" y2="415.9"/>
<line x1="70.95" y1="582.4" x2="70.95" y2="584"/>
<line x1="70.95" y1="413.4" x2="70.95" y2="414.9"/>
<line x1="98.65" y1="582.4" x2="98.65" y2="584"/>
<line x1="98.65" y1="413.4" x2="98.65" y2="414.9"/>
<line x1="126.35" y1="582.4" x2="126.35" y2="584"/>
<line x1="126.35" y1="413.4" x2="126.35" y2="414.9"/>
<line x1="154.05" y1="582.4" x2="154.05" y2="584"/>
<line x1="154.05" y1="413.4" x2="154.05" y2="414.9"/>
<line x1="181.75" y1="582.4" x2="181.75" y2="584"/>
<line x1="181.75" y1="413.4" x2="181.75" y2="414.9"/>
<line x1="209.45" y1="582.4" x2="209.45" y2="584"/>
<line x1="209.45" y1="413.4" x2="209.45" y2="414.9"/>
<line x1="237.15" y1="582.4" x2="237.15" y2="584"/>
<line x1="237.15" y1="413.4" x2="237.15" y2="414.9"/>
</g>
<g font-size="9.0" font-weight="bold" text-anchor="middle" fill="#111" stroke="#111" stroke-width="0.25">
<text transform="translate(57.1,595) scale(0.94,1)">0</text>
<text transform="translate(84.8,595) scale(0.94,1)">500</text>
<text transform="translate(112.5,595) scale(0.94,1)">1000</text>
<text transform="translate(140.2,595) scale(0.94,1)">1500</text>
<text transform="translate(167.9,595) scale(0.94,1)">2000</text>
<text transform="translate(195.6,595) scale(0.94,1)">2500</text>
<text transform="translate(223.3,595) scale(0.94,1)">3000</text>
</g>
<g stroke="#666666" stroke-width="1">
<line x1="260.3" y1="582.4" x2="260.3" y2="585.4"/>
<line x1="260.3" y1="413.4" x2="260.3" y2="415.9"/>
<line x1="249.5" y1="582.4" x2="249.5" y2="584"/>
<line x1="249.5" y1="413.4" x2="249.5" y2="414.9"/>
</g>
<g font-size="9.0" font-weight="bold" text-anchor="middle" fill="#111" stroke="#111" stroke-width="0.25">
<text transform="translate(260.3,595) scale(0.94,1)">7200</text>
</g>
<text transform="translate(17.8,504.3) rotate(-90)" font-size="10.2" font-weight="bold" text-anchor="middle" fill="#111"><tspan font-weight="normal">κ</tspan> ( W K<tspan font-size="6.5" dy="-4.2">-1</tspan><tspan dy="4.2"> m</tspan><tspan font-size="6.5" dy="-4.2">-1</tspan><tspan dy="4.2"> )</tspan></text>
<text x="164" y="613" font-size="10.2" font-weight="bold" text-anchor="middle" fill="#111"><tspan font-weight="normal">σ</tspan> ( S cm<tspan font-size="6.5" dy="-4.2">-1</tspan><tspan dy="4.2"> )</tspan></text>
<g stroke="#666666" stroke-width="1.35" fill="none" stroke-linecap="square">
<line x1="337.6" y1="413.4" x2="529.1" y2="413.4"/>
<line x1="532.1" y1="413.4" x2="565.2" y2="413.4"/>
<line x1="337.6" y1="581.9" x2="529.1" y2="581.9"/>
<line x1="532.1" y1="581.9" x2="565.2" y2="581.9"/>
<line x1="337.6" y1="413.4" x2="337.6" y2="436.5"/>
<line x1="337.6" y1="439.5" x2="337.6" y2="581.9"/>
<line x1="565.2" y1="413.4" x2="565.2" y2="436.5"/>
<line x1="565.2" y1="439.5" x2="565.2" y2="581.9"/>
</g>
<g stroke="#222" stroke-width="1" fill="none">
<line x1="527.5" y1="416.4" x2="530.7" y2="410.4"/>
<line x1="530.5" y1="416.4" x2="533.7" y2="410.4"/>
<line x1="527.5" y1="584.9" x2="530.7" y2="578.9"/>
<line x1="530.5" y1="584.9" x2="533.7" y2="578.9"/>
<line x1="334.6" y1="438.1" x2="340.6" y2="434.9"/>
<line x1="334.6" y1="441.1" x2="340.6" y2="437.9"/>
<line x1="562.2" y1="438.1" x2="568.2" y2="434.9"/>
<line x1="562.2" y1="441.1" x2="568.2" y2="437.9"/>
</g>
<g stroke="#666666" stroke-width="1">
<line x1="334.6" y1="574.2" x2="337.6" y2="574.2"/>
<line x1="565.2" y1="574.2" x2="562.7" y2="574.2"/>
<line x1="334.6" y1="555.02" x2="337.6" y2="555.02"/>
<line x1="565.2" y1="555.02" x2="562.7" y2="555.02"/>
<line x1="334.6" y1="535.83" x2="337.6" y2="535.83"/>
<line x1="565.2" y1="535.83" x2="562.7" y2="535.83"/>
<line x1="334.6" y1="516.65" x2="337.6" y2="516.65"/>
<line x1="565.2" y1="516.65" x2="562.7" y2="516.65"/>
<line x1="334.6" y1="497.47" x2="337.6" y2="497.47"/>
<line x1="565.2" y1="497.47" x2="562.7" y2="497.47"/>
<line x1="334.6" y1="478.28" x2="337.6" y2="478.28"/>
<line x1="565.2" y1="478.28" x2="562.7" y2="478.28"/>
<line x1="334.6" y1="459.1" x2="337.6" y2="459.1"/>
<line x1="565.2" y1="459.1" x2="562.7" y2="459.1"/>
<line x1="336" y1="583.79" x2="337.6" y2="583.79"/>
<line x1="565.2" y1="583.79" x2="563.7" y2="583.79"/>
<line x1="336" y1="564.61" x2="337.6" y2="564.61"/>
<line x1="565.2" y1="564.61" x2="563.7" y2="564.61"/>
<line x1="336" y1="545.43" x2="337.6" y2="545.43"/>
<line x1="565.2" y1="545.43" x2="563.7" y2="545.43"/>
<line x1="336" y1="526.24" x2="337.6" y2="526.24"/>
<line x1="565.2" y1="526.24" x2="563.7" y2="526.24"/>
<line x1="336" y1="507.06" x2="337.6" y2="507.06"/>
<line x1="565.2" y1="507.06" x2="563.7" y2="507.06"/>
<line x1="336" y1="487.88" x2="337.6" y2="487.88"/>
<line x1="565.2" y1="487.88" x2="563.7" y2="487.88"/>
<line x1="336" y1="468.69" x2="337.6" y2="468.69"/>
<line x1="565.2" y1="468.69" x2="563.7" y2="468.69"/>
<line x1="336" y1="449.51" x2="337.6" y2="449.51"/>
<line x1="565.2" y1="449.51" x2="563.7" y2="449.51"/>
</g>
<g font-size="9.0" font-weight="bold" text-anchor="end" fill="#111" stroke="#111" stroke-width="0.25">
<text transform="translate(332.2,577.2) scale(0.94,1)">0.0</text>
<text transform="translate(332.2,558.02) scale(0.94,1)">0.5</text>
<text transform="translate(332.2,538.83) scale(0.94,1)">1.0</text>
<text transform="translate(332.2,519.65) scale(0.94,1)">1.5</text>
<text transform="translate(332.2,500.47) scale(0.94,1)">2.0</text>
<text transform="translate(332.2,481.28) scale(0.94,1)">2.5</text>
<text transform="translate(332.2,462.1) scale(0.94,1)">3.0</text>
</g>
<g stroke="#666666" stroke-width="1">
<line x1="334.6" y1="429.1" x2="337.6" y2="429.1"/>
<line x1="565.2" y1="429.1" x2="562.7" y2="429.1"/>
<line x1="334.6" y1="413.4" x2="337.6" y2="413.4"/>
<line x1="565.2" y1="413.4" x2="562.7" y2="413.4"/>
<line x1="336" y1="421.2" x2="337.6" y2="421.2"/>
<line x1="565.2" y1="421.2" x2="563.7" y2="421.2"/>
<line x1="336" y1="437" x2="337.6" y2="437"/>
<line x1="565.2" y1="437" x2="563.7" y2="437"/>
</g>
<g font-size="9.0" font-weight="bold" text-anchor="end" fill="#111" stroke="#111" stroke-width="0.25">
<text transform="translate(332.2,432.1) scale(0.94,1)">7</text>
<text transform="translate(332.2,416.4) scale(0.94,1)">8</text>
</g>
<g stroke="#666666" stroke-width="1">
<line x1="343.4" y1="581.9" x2="343.4" y2="584.9"/>
<line x1="343.4" y1="413.4" x2="343.4" y2="415.9"/>
<line x1="369.95" y1="581.9" x2="369.95" y2="584.9"/>
<line x1="369.95" y1="413.4" x2="369.95" y2="415.9"/>
<line x1="396.5" y1="581.9" x2="396.5" y2="584.9"/>
<line x1="396.5" y1="413.4" x2="396.5" y2="415.9"/>
<line x1="423.05" y1="581.9" x2="423.05" y2="584.9"/>
<line x1="423.05" y1="413.4" x2="423.05" y2="415.9"/>
<line x1="449.6" y1="581.9" x2="449.6" y2="584.9"/>
<line x1="449.6" y1="413.4" x2="449.6" y2="415.9"/>
<line x1="476.15" y1="581.9" x2="476.15" y2="584.9"/>
<line x1="476.15" y1="413.4" x2="476.15" y2="415.9"/>
<line x1="502.7" y1="581.9" x2="502.7" y2="584.9"/>
<line x1="502.7" y1="413.4" x2="502.7" y2="415.9"/>
<line x1="356.67" y1="581.9" x2="356.67" y2="583.5"/>
<line x1="356.67" y1="413.4" x2="356.67" y2="414.9"/>
<line x1="383.22" y1="581.9" x2="383.22" y2="583.5"/>
<line x1="383.22" y1="413.4" x2="383.22" y2="414.9"/>
<line x1="409.77" y1="581.9" x2="409.77" y2="583.5"/>
<line x1="409.77" y1="413.4" x2="409.77" y2="414.9"/>
<line x1="436.32" y1="581.9" x2="436.32" y2="583.5"/>
<line x1="436.32" y1="413.4" x2="436.32" y2="414.9"/>
<line x1="462.88" y1="581.9" x2="462.88" y2="583.5"/>
<line x1="462.88" y1="413.4" x2="462.88" y2="414.9"/>
<line x1="489.42" y1="581.9" x2="489.42" y2="583.5"/>
<line x1="489.42" y1="413.4" x2="489.42" y2="414.9"/>
<line x1="515.98" y1="581.9" x2="515.98" y2="583.5"/>
<line x1="515.98" y1="413.4" x2="515.98" y2="414.9"/>
</g>
<g font-size="9.0" font-weight="bold" text-anchor="middle" fill="#111" stroke="#111" stroke-width="0.25">
<text transform="translate(343.4,594.5) scale(0.94,1)">0.0</text>
<text transform="translate(369.95,594.5) scale(0.94,1)">0.5</text>
<text transform="translate(396.5,594.5) scale(0.94,1)">1.0</text>
<text transform="translate(423.05,594.5) scale(0.94,1)">1.5</text>
<text transform="translate(449.6,594.5) scale(0.94,1)">2.0</text>
<text transform="translate(476.15,594.5) scale(0.94,1)">2.5</text>
<text transform="translate(502.7,594.5) scale(0.94,1)">3.0</text>
</g>
<g stroke="#666666" stroke-width="1">
<line x1="533.6" y1="581.9" x2="533.6" y2="584.9"/>
<line x1="533.6" y1="413.4" x2="533.6" y2="415.9"/>
<line x1="543.8" y1="581.9" x2="543.8" y2="584.9"/>
<line x1="543.8" y1="413.4" x2="543.8" y2="415.9"/>
<line x1="554.2" y1="581.9" x2="554.2" y2="584.9"/>
<line x1="554.2" y1="413.4" x2="554.2" y2="415.9"/>
<line x1="564.5" y1="581.9" x2="564.5" y2="584.9"/>
<line x1="564.5" y1="413.4" x2="564.5" y2="415.9"/>
</g>
<g font-size="9.0" font-weight="bold" text-anchor="middle" fill="#111" stroke="#111" stroke-width="0.25">
<text transform="translate(533.6,594.5) scale(0.94,1)">4</text>
<text transform="translate(543.8,594.5) scale(0.94,1)">6</text>
<text transform="translate(554.2,594.5) scale(0.94,1)">8</text>
<text transform="translate(564.5,594.5) scale(0.94,1)">10</text>
</g>
<text transform="translate(308.6,504.6) rotate(-90)" font-size="10.2" font-weight="bold" text-anchor="middle" fill="#111"><tspan font-weight="normal">κ</tspan><tspan font-size="6.5" dy="2">l</tspan><tspan dy="-2"> ( W K</tspan><tspan font-size="6.5" dy="-4.2">-1</tspan><tspan dy="4.2"> m</tspan><tspan font-size="6.5" dy="-4.2">-1</tspan><tspan dy="4.2"> )</tspan></text>
<text x="452.6" y="613.2" font-size="10.2" font-weight="bold" text-anchor="middle" fill="#111"><tspan font-weight="normal">κ</tspan> ( W K<tspan font-size="6.5" dy="-4.2">-1</tspan><tspan dy="4.2"> m</tspan><tspan font-size="6.5" dy="-4.2">-1</tspan><tspan dy="4.2"> )</tspan></text>
<g stroke="#666666" stroke-width="1.35" fill="none" stroke-linecap="square">
<line x1="43.3" y1="624.9" x2="250.5" y2="624.9"/>
<line x1="253.5" y1="624.9" x2="274.9" y2="624.9"/>
<line x1="43.3" y1="797.8" x2="250.5" y2="797.8"/>
<line x1="253.5" y1="797.8" x2="274.9" y2="797.8"/>
<line x1="43.3" y1="624.9" x2="43.3" y2="797.8"/>
<line x1="274.9" y1="624.9" x2="274.9" y2="797.8"/>
</g>
<g stroke="#222" stroke-width="1" fill="none">
<line x1="248.9" y1="627.9" x2="252.1" y2="621.9"/>
<line x1="251.9" y1="627.9" x2="255.1" y2="621.9"/>
<line x1="248.9" y1="800.8" x2="252.1" y2="794.8"/>
<line x1="251.9" y1="800.8" x2="255.1" y2="794.8"/>
</g>
<g stroke="#666666" stroke-width="1">
<line x1="40.3" y1="789.8" x2="43.3" y2="789.8"/>
<line x1="274.9" y1="789.8" x2="272.4" y2="789.8"/>
<line x1="40.3" y1="750.47" x2="43.3" y2="750.47"/>
<line x1="274.9" y1="750.47" x2="272.4" y2="750.47"/>
<line x1="40.3" y1="711.15" x2="43.3" y2="711.15"/>
<line x1="274.9" y1="711.15" x2="272.4" y2="711.15"/>
<line x1="40.3" y1="671.83" x2="43.3" y2="671.83"/>
<line x1="274.9" y1="671.83" x2="272.4" y2="671.83"/>
<line x1="40.3" y1="632.5" x2="43.3" y2="632.5"/>
<line x1="274.9" y1="632.5" x2="272.4" y2="632.5"/>
<line x1="41.7" y1="770.14" x2="43.3" y2="770.14"/>
<line x1="274.9" y1="770.14" x2="273.4" y2="770.14"/>
<line x1="41.7" y1="730.81" x2="43.3" y2="730.81"/>
<line x1="274.9" y1="730.81" x2="273.4" y2="730.81"/>
<line x1="41.7" y1="691.49" x2="43.3" y2="691.49"/>
<line x1="274.9" y1="691.49" x2="273.4" y2="691.49"/>
<line x1="41.7" y1="652.16" x2="43.3" y2="652.16"/>
<line x1="274.9" y1="652.16" x2="273.4" y2="652.16"/>
</g>
<g font-size="9.0" font-weight="bold" text-anchor="end" fill="#111" stroke="#111" stroke-width="0.25">
<text transform="translate(37.9,792.8) scale(0.94,1)">0</text>
<text transform="translate(37.9,753.47) scale(0.94,1)">50</text>
<text transform="translate(37.9,714.15) scale(0.94,1)">100</text>
<text transform="translate(37.9,674.83) scale(0.94,1)">150</text>
<text transform="translate(37.9,635.5) scale(0.94,1)">200</text>
</g>
<g stroke="#666666" stroke-width="1">
<line x1="48.8" y1="797.8" x2="48.8" y2="800.8"/>
<line x1="48.8" y1="624.9" x2="48.8" y2="627.4"/>
<line x1="77.63" y1="797.8" x2="77.63" y2="800.8"/>
<line x1="77.63" y1="624.9" x2="77.63" y2="627.4"/>
<line x1="106.47" y1="797.8" x2="106.47" y2="800.8"/>
<line x1="106.47" y1="624.9" x2="106.47" y2="627.4"/>
<line x1="135.3" y1="797.8" x2="135.3" y2="800.8"/>
<line x1="135.3" y1="624.9" x2="135.3" y2="627.4"/>
<line x1="164.13" y1="797.8" x2="164.13" y2="800.8"/>
<line x1="164.13" y1="624.9" x2="164.13" y2="627.4"/>
<line x1="192.97" y1="797.8" x2="192.97" y2="800.8"/>
<line x1="192.97" y1="624.9" x2="192.97" y2="627.4"/>
<line x1="221.8" y1="797.8" x2="221.8" y2="800.8"/>
<line x1="221.8" y1="624.9" x2="221.8" y2="627.4"/>
<line x1="63.22" y1="797.8" x2="63.22" y2="799.4"/>
<line x1="63.22" y1="624.9" x2="63.22" y2="626.4"/>
<line x1="92.05" y1="797.8" x2="92.05" y2="799.4"/>
<line x1="92.05" y1="624.9" x2="92.05" y2="626.4"/>
<line x1="120.88" y1="797.8" x2="120.88" y2="799.4"/>
<line x1="120.88" y1="624.9" x2="120.88" y2="626.4"/>
<line x1="149.72" y1="797.8" x2="149.72" y2="799.4"/>
<line x1="149.72" y1="624.9" x2="149.72" y2="626.4"/>
<line x1="178.55" y1="797.8" x2="178.55" y2="799.4"/>
<line x1="178.55" y1="624.9" x2="178.55" y2="626.4"/>
<line x1="207.38" y1="797.8" x2="207.38" y2="799.4"/>
<line x1="207.38" y1="624.9" x2="207.38" y2="626.4"/>
<line x1="236.22" y1="797.8" x2="236.22" y2="799.4"/>
<line x1="236.22" y1="624.9" x2="236.22" y2="626.4"/>
</g>
<g font-size="9.0" font-weight="bold" text-anchor="middle" fill="#111" stroke="#111" stroke-width="0.25">
<text transform="translate(48.8,810.4) scale(0.94,1)">0.0</text>
<text transform="translate(77.63,810.4) scale(0.94,1)">0.5</text>
<text transform="translate(106.47,810.4) scale(0.94,1)">1.0</text>
<text transform="translate(135.3,810.4) scale(0.94,1)">1.5</text>
<text transform="translate(164.13,810.4) scale(0.94,1)">2.0</text>
<text transform="translate(192.97,810.4) scale(0.94,1)">2.5</text>
<text transform="translate(221.8,810.4) scale(0.94,1)">3.0</text>
</g>
<g stroke="#666666" stroke-width="1">
<line x1="254.8" y1="797.8" x2="254.8" y2="800.8"/>
<line x1="254.8" y1="624.9" x2="254.8" y2="627.4"/>
<line x1="274.9" y1="797.8" x2="274.9" y2="800.8"/>
<line x1="274.9" y1="624.9" x2="274.9" y2="627.4"/>
<line x1="264.8" y1="797.8" x2="264.8" y2="799.4"/>
<line x1="264.8" y1="624.9" x2="264.8" y2="626.4"/>
</g>
<g font-size="9.0" font-weight="bold" text-anchor="middle" fill="#111" stroke="#111" stroke-width="0.25">
<text transform="translate(254.8,810.4) scale(0.94,1)">12</text>
<text transform="translate(274.9,810.4) scale(0.94,1)">14</text>
</g>
<text transform="translate(18,709.6) rotate(-90)" font-size="10.2" font-weight="bold" text-anchor="middle" fill="#111"><tspan font-weight="normal" font-size="8">μ</tspan><tspan font-size="6.5" dy="2">w</tspan><tspan dy="-2"> ( cm</tspan><tspan font-size="6.5" dy="-4.2">2</tspan><tspan dy="4.2"> V</tspan><tspan font-size="6.5" dy="-4.2">-1</tspan><tspan dy="4.2">s</tspan><tspan font-size="6.5" dy="-4.2">-1</tspan><tspan dy="4.2"> )</tspan></text>
<text x="164" y="828" font-size="10.2" font-weight="bold" text-anchor="middle" fill="#111"><tspan font-weight="normal">κ</tspan><tspan font-size="6.5" dy="2">l</tspan><tspan dy="-2"> ( W K</tspan><tspan font-size="6.5" dy="-4.2">-1</tspan><tspan dy="4.2"> m</tspan><tspan font-size="6.5" dy="-4.2">-1</tspan><tspan dy="4.2"> )</tspan></text>
<g stroke="#666666" stroke-width="1.35" fill="none" stroke-linecap="square">
<line x1="330.7" y1="623.6" x2="565.2" y2="623.6"/>
<line x1="330.7" y1="797.4" x2="565.2" y2="797.4"/>
<line x1="330.7" y1="623.6" x2="330.7" y2="797.4"/>
<line x1="565.2" y1="623.6" x2="565.2" y2="797.4"/>
</g>
<g stroke="#222" stroke-width="1" fill="none">
</g>
<g stroke="#666666" stroke-width="1">
<line x1="327.7" y1="786.5" x2="330.7" y2="786.5"/>
<line x1="565.2" y1="786.5" x2="562.7" y2="786.5"/>
<line x1="327.7" y1="764.83" x2="330.7" y2="764.83"/>
<line x1="565.2" y1="764.83" x2="562.7" y2="764.83"/>
<line x1="327.7" y1="743.16" x2="330.7" y2="743.16"/>
<line x1="565.2" y1="743.16" x2="562.7" y2="743.16"/>
<line x1="327.7" y1="721.49" x2="330.7" y2="721.49"/>
<line x1="565.2" y1="721.49" x2="562.7" y2="721.49"/>
<line x1="327.7" y1="699.81" x2="330.7" y2="699.81"/>
<line x1="565.2" y1="699.81" x2="562.7" y2="699.81"/>
<line x1="327.7" y1="678.14" x2="330.7" y2="678.14"/>
<line x1="565.2" y1="678.14" x2="562.7" y2="678.14"/>
<line x1="327.7" y1="656.47" x2="330.7" y2="656.47"/>
<line x1="565.2" y1="656.47" x2="562.7" y2="656.47"/>
<line x1="327.7" y1="634.8" x2="330.7" y2="634.8"/>
<line x1="565.2" y1="634.8" x2="562.7" y2="634.8"/>
<line x1="329.1" y1="797.34" x2="330.7" y2="797.34"/>
<line x1="565.2" y1="797.34" x2="563.7" y2="797.34"/>
<line x1="329.1" y1="775.66" x2="330.7" y2="775.66"/>
<line x1="565.2" y1="775.66" x2="563.7" y2="775.66"/>
<line x1="329.1" y1="753.99" x2="330.7" y2="753.99"/>
<line x1="565.2" y1="753.99" x2="563.7" y2="753.99"/>
<line x1="329.1" y1="732.32" x2="330.7" y2="732.32"/>
<line x1="565.2" y1="732.32" x2="563.7" y2="732.32"/>
<line x1="329.1" y1="710.65" x2="330.7" y2="710.65"/>
<line x1="565.2" y1="710.65" x2="563.7" y2="710.65"/>
<line x1="329.1" y1="688.98" x2="330.7" y2="688.98"/>
<line x1="565.2" y1="688.98" x2="563.7" y2="688.98"/>
<line x1="329.1" y1="667.31" x2="330.7" y2="667.31"/>
<line x1="565.2" y1="667.31" x2="563.7" y2="667.31"/>
<line x1="329.1" y1="645.64" x2="330.7" y2="645.64"/>
<line x1="565.2" y1="645.64" x2="563.7" y2="645.64"/>
<line x1="329.1" y1="623.96" x2="330.7" y2="623.96"/>
<line x1="565.2" y1="623.96" x2="563.7" y2="623.96"/>
</g>
<g font-size="9.0" font-weight="bold" text-anchor="end" fill="#111" stroke="#111" stroke-width="0.25">
<text transform="translate(325.3,789.5) scale(0.94,1)">0.0</text>
<text transform="translate(325.3,767.83) scale(0.94,1)">0.2</text>
<text transform="translate(325.3,746.16) scale(0.94,1)">0.4</text>
<text transform="translate(325.3,724.49) scale(0.94,1)">0.6</text>
<text transform="translate(325.3,702.81) scale(0.94,1)">0.8</text>
<text transform="translate(325.3,681.14) scale(0.94,1)">1.0</text>
<text transform="translate(325.3,659.47) scale(0.94,1)">1.2</text>
<text transform="translate(325.3,637.8) scale(0.94,1)">1.4</text>
</g>
<g stroke="#666666" stroke-width="1">
<line x1="342.9" y1="797.4" x2="342.9" y2="800.4"/>
<line x1="342.9" y1="623.6" x2="342.9" y2="626.1"/>
<line x1="378" y1="797.4" x2="378" y2="800.4"/>
<line x1="378" y1="623.6" x2="378" y2="626.1"/>
<line x1="413.1" y1="797.4" x2="413.1" y2="800.4"/>
<line x1="413.1" y1="623.6" x2="413.1" y2="626.1"/>
<line x1="448.2" y1="797.4" x2="448.2" y2="800.4"/>
<line x1="448.2" y1="623.6" x2="448.2" y2="626.1"/>
<line x1="483.3" y1="797.4" x2="483.3" y2="800.4"/>
<line x1="483.3" y1="623.6" x2="483.3" y2="626.1"/>
<line x1="518.4" y1="797.4" x2="518.4" y2="800.4"/>
<line x1="518.4" y1="623.6" x2="518.4" y2="626.1"/>
<line x1="553.5" y1="797.4" x2="553.5" y2="800.4"/>
<line x1="553.5" y1="623.6" x2="553.5" y2="626.1"/>
<line x1="360.45" y1="797.4" x2="360.45" y2="799"/>
<line x1="360.45" y1="623.6" x2="360.45" y2="625.1"/>
<line x1="395.55" y1="797.4" x2="395.55" y2="799"/>
<line x1="395.55" y1="623.6" x2="395.55" y2="625.1"/>
<line x1="430.65" y1="797.4" x2="430.65" y2="799"/>
<line x1="430.65" y1="623.6" x2="430.65" y2="625.1"/>
<line x1="465.75" y1="797.4" x2="465.75" y2="799"/>
<line x1="465.75" y1="623.6" x2="465.75" y2="625.1"/>
<line x1="500.85" y1="797.4" x2="500.85" y2="799"/>
<line x1="500.85" y1="623.6" x2="500.85" y2="625.1"/>
<line x1="535.95" y1="797.4" x2="535.95" y2="799"/>
<line x1="535.95" y1="623.6" x2="535.95" y2="625.1"/>
</g>
<g font-size="9.0" font-weight="bold" text-anchor="middle" fill="#111" stroke="#111" stroke-width="0.25">
<text transform="translate(342.9,810) scale(0.94,1)">300</text>
<text transform="translate(378,810) scale(0.94,1)">450</text>
<text transform="translate(413.1,810) scale(0.94,1)">600</text>
<text transform="translate(448.2,810) scale(0.94,1)">750</text>
<text transform="translate(483.3,810) scale(0.94,1)">900</text>
<text transform="translate(518.4,810) scale(0.94,1)">1050</text>
<text transform="translate(553.5,810) scale(0.94,1)">1200</text>
</g>
<text transform="translate(309.4,711.5) rotate(-90)" font-size="10.2" font-weight="bold" text-anchor="middle" fill="#111">Peak zT</text>
<text x="452.3" y="826.4" font-size="10.2" font-weight="bold" text-anchor="middle" fill="#111"><tspan font-style="italic">T</tspan> (K)</text>
<circle cx="61.4" cy="291.1" r="3.05" fill="#ff0000"/>
<circle cx="108.6" cy="348" r="3.05" fill="#ff0000"/>
<circle cx="69.9" cy="359" r="3.05" fill="#ff0000"/>
<circle cx="125.1" cy="361.9" r="3.05" fill="#ff0000"/>
<circle cx="181.7" cy="359.4" r="3.05" fill="#ff0000"/>
<circle cx="184.6" cy="360.6" r="3.05" fill="#ff0000"/>
<circle cx="203.4" cy="362.4" r="3.05" fill="#ff0000"/>
<circle cx="231" cy="358" r="3.05" fill="#ff0000"/>
<circle cx="248.2" cy="359.4" r="3.05" fill="#ff0000"/>
<path d="M75.4 240.2L78.7 234.7L72.1 234.7Z" fill="#ff00ff"/>
<path d="M84.6 255.7L87.9 250.2L81.3 250.2Z" fill="#ff00ff"/>
<path d="M94.1 260.3L97.4 254.8L90.8 254.8Z" fill="#ff00ff"/>
<path d="M75.4 271.7L78.7 266.2L72.1 266.2Z" fill="#ff00ff"/>
<path d="M84.1 275.9L87.4 270.4L80.8 270.4Z" fill="#ff00ff"/>
<path d="M89.5 289.9L92.8 284.4L86.2 284.4Z" fill="#ff00ff"/>
<path d="M77 291.8L80.3 286.3L73.7 286.3Z" fill="#ff00ff"/>
<path d="M82.5 292.6L85.8 287.1L79.2 287.1Z" fill="#ff00ff"/>
<path d="M76.5 295.5L79.8 290L73.2 290Z" fill="#ff00ff"/>
<path d="M77 305.3L80.3 299.8L73.7 299.8Z" fill="#ff00ff"/>
<path d="M103.6 309.8L106.9 304.3L100.3 304.3Z" fill="#ff00ff"/>
<path d="M117.8 311.6L121.1 306.1L114.5 306.1Z" fill="#ff00ff"/>
<path d="M99.5 317.5L102.8 312L96.2 312Z" fill="#ff00ff"/>
<path d="M101.5 321.2L104.8 315.7L98.2 315.7Z" fill="#ff00ff"/>
<path d="M68 328.9L71.3 323.4L64.7 323.4Z" fill="#ff00ff"/>
<path d="M76.4 326.7L79.7 321.2L73.1 321.2Z" fill="#ff00ff"/>
<path d="M72.1 332.1L75.4 326.6L68.8 326.6Z" fill="#ff00ff"/>
<path d="M69.9 340.6L73.2 335.1L66.6 335.1Z" fill="#ff00ff"/>
<path d="M70.5 349.6L73.8 344.1L67.2 344.1Z" fill="#ff00ff"/>
<path d="M72.1 352.7L75.4 347.2L68.8 347.2Z" fill="#ff00ff"/>
<path d="M106.9 356.1L110.2 350.6L103.6 350.6Z" fill="#ff00ff"/>
<path d="M114.4 353.7L117.7 348.2L111.1 348.2Z" fill="#ff00ff"/>
<path d="M66.2 359.4L69.5 353.9L62.9 353.9Z" fill="#ff00ff"/>
<path d="M64.5 367.2L67.8 361.7L61.2 361.7Z" fill="#ff00ff"/>
<path d="M92.3 367.4L95.6 361.9L89 361.9Z" fill="#ff00ff"/>
<path d="M136.8 349.6L140.1 344.1L133.5 344.1Z" fill="#ff00ff"/>
<path d="M162.6 360.6L165.9 355.1L159.3 355.1Z" fill="#ff00ff"/>
<path d="M87.4 253.1L90.7 258.6L84.1 258.6Z" fill="#0000ff"/>
<path d="M72.8 268.9L76.1 274.4L69.5 274.4Z" fill="#0000ff"/>
<path d="M87.4 275.5L90.7 281L84.1 281Z" fill="#0000ff"/>
<path d="M94.6 276.3L97.9 281.8L91.3 281.8Z" fill="#0000ff"/>
<path d="M65.6 302.5L68.9 308L62.3 308Z" fill="#0000ff"/>
<path d="M75.4 304.4L78.7 309.9L72.1 309.9Z" fill="#0000ff"/>
<path d="M78.2 306.4L81.5 311.9L74.9 311.9Z" fill="#0000ff"/>
<path d="M71.5 323.4L74.8 328.9L68.2 328.9Z" fill="#0000ff"/>
<path d="M78.9 331.3L82.2 336.8L75.6 336.8Z" fill="#0000ff"/>
<path d="M88 337.6L91.3 343.1L84.7 343.1Z" fill="#0000ff"/>
<path d="M101.5 335L104.8 340.5L98.2 340.5Z" fill="#0000ff"/>
<path d="M98.2 339.3L101.5 344.8L94.9 344.8Z" fill="#0000ff"/>
<path d="M88.6 343.2L91.9 348.7L85.3 348.7Z" fill="#0000ff"/>
<path d="M89.5 346.3L92.8 351.8L86.2 351.8Z" fill="#0000ff"/>
<path d="M95 346.9L98.3 352.4L91.7 352.4Z" fill="#0000ff"/>
<path d="M103.2 343.2L106.5 348.7L99.9 348.7Z" fill="#0000ff"/>
<path d="M107.3 346L110.6 351.5L104 351.5Z" fill="#0000ff"/>
<path d="M69.9 357.3L73.2 362.8L66.6 362.8Z" fill="#0000ff"/>
<path d="M71.1 358.9L74.4 364.4L67.8 364.4Z" fill="#0000ff"/>
<path d="M82.5 353.9L85.8 359.4L79.2 359.4Z" fill="#0000ff"/>
<path d="M153.5 342.8L156.8 348.3L150.2 348.3Z" fill="#0000ff"/>
<path d="M127.4 352.9L130.7 358.4L124.1 358.4Z" fill="#0000ff"/>
<path d="M169.6 346.6L172.9 352.1L166.3 352.1Z" fill="#0000ff"/>
<path d="M174.5 347.1L177.8 352.6L171.2 352.6Z" fill="#0000ff"/>
<path d="M178.7 348.3L182 353.8L175.4 353.8Z" fill="#0000ff"/>
<path d="M181.6 348.8L184.9 354.3L178.3 354.3Z" fill="#0000ff"/>
<path d="M191.1 352.3L194.4 357.8L187.8 357.8Z" fill="#0000ff"/>
<path d="M207.7 356.5L211 362L204.4 362Z" fill="#0000ff"/>
<rect x="58.4" y="209.8" width="5" height="5" fill="#000000"/>
<path d="M257.4 230.3L260.8 233.7L257.4 237.1L254 233.7Z" fill="#007a00"/>
<path d="M65.1 305.5L68.5 308.9L65.1 312.3L61.7 308.9Z" fill="#007a00"/>
<path d="M260.3 353.4L263.7 356.8L260.3 360.2L256.9 356.8Z" fill="#007a00"/>
<rect x="153.4" y="215.6" width="50.4" height="74.8" fill="#fff" stroke="#c8c8c8" stroke-width="0.9"/>
<path d="M204.5 216.5 V291.2 H154.3" fill="none" stroke="#9a9a9a" stroke-width="1"/>
<circle cx="169.4" cy="224.1" r="3.05" fill="#ff0000"/>
<text x="186.6" y="227.8" font-size="10.8" font-weight="bold" fill="#111">Si</text>
<path d="M169.4 236.05L172.7 241.55L166.1 241.55Z" fill="#0000ff"/>
<text x="186.6" y="242.6" font-size="10.8" font-weight="bold" fill="#111">Ge</text>
<path d="M169.4 256.7L172.7 251.2L166.1 251.2Z" fill="#ff00ff"/>
<text x="186.6" y="257.5" font-size="10.8" font-weight="bold" fill="#111">Sn</text>
<path d="M169.4 265.25L172.8 268.65L169.4 272.05L166 268.65Z" fill="#007a00"/>
<text x="186.6" y="272.3" font-size="10.8" font-weight="bold" fill="#111">P</text>
<rect x="166.9" y="281" width="5" height="5" fill="#000000"/>
<text x="186.6" y="287.2" font-size="10.8" font-weight="bold" fill="#111">Sb</text>
<circle cx="360.8" cy="239.3" r="3.05" fill="#ff0000"/>
<circle cx="379.2" cy="270.3" r="3.05" fill="#ff0000"/>
<circle cx="382.7" cy="270.3" r="3.05" fill="#ff0000"/>
<circle cx="390.5" cy="273.3" r="3.05" fill="#ff0000"/>
<circle cx="397.4" cy="275.5" r="3.05" fill="#ff0000"/>
<circle cx="379.2" cy="277" r="3.05" fill="#ff0000"/>
<circle cx="355.3" cy="295.6" r="3.05" fill="#ff0000"/>
<circle cx="360.5" cy="299.7" r="3.05" fill="#ff0000"/>
<circle cx="395.8" cy="297.5" r="3.05" fill="#ff0000"/>
<circle cx="401.3" cy="295.6" r="3.05" fill="#ff0000"/>
<circle cx="403.1" cy="301.5" r="3.05" fill="#ff0000"/>
<circle cx="389.6" cy="305.2" r="3.05" fill="#ff0000"/>
<circle cx="416.3" cy="291.6" r="3.05" fill="#ff0000"/>
<circle cx="412.3" cy="297.1" r="3.05" fill="#ff0000"/>
<circle cx="422.1" cy="296.3" r="3.05" fill="#ff0000"/>
<circle cx="426.4" cy="295.3" r="3.05" fill="#ff0000"/>
<circle cx="437.8" cy="295.6" r="3.05" fill="#ff0000"/>
<circle cx="440.5" cy="298.1" r="3.05" fill="#ff0000"/>
<circle cx="443.5" cy="298.1" r="3.05" fill="#ff0000"/>
<circle cx="451.7" cy="295.6" r="3.05" fill="#ff0000"/>
<circle cx="453.7" cy="301.8" r="3.05" fill="#ff0000"/>
<circle cx="473.4" cy="295.9" r="3.05" fill="#ff0000"/>
<circle cx="506" cy="295.7" r="3.05" fill="#ff0000"/>
<path d="M360.5 232.4L363.8 226.9L357.2 226.9Z" fill="#ff00ff"/>
<path d="M354 302.3L357.3 296.8L350.7 296.8Z" fill="#ff00ff"/>
<path d="M354.5 307.4L357.8 301.9L351.2 301.9Z" fill="#ff00ff"/>
<path d="M368.3 315.7L371.6 310.2L365 310.2Z" fill="#ff00ff"/>
<path d="M358.5 321.9L361.8 316.4L355.2 316.4Z" fill="#ff00ff"/>
<path d="M362.8 325.8L366.1 320.3L359.5 320.3Z" fill="#ff00ff"/>
<path d="M374.9 326.6L378.2 321.1L371.6 321.1Z" fill="#ff00ff"/>
<path d="M372.5 330.4L375.8 324.9L369.2 324.9Z" fill="#ff00ff"/>
<path d="M359 333.5L362.3 328L355.7 328Z" fill="#ff00ff"/>
<path d="M366.4 335.1L369.7 329.6L363.1 329.6Z" fill="#ff00ff"/>
<path d="M371.1 334.3L374.4 328.8L367.8 328.8Z" fill="#ff00ff"/>
<path d="M360.8 344.6L364.1 339.1L357.5 339.1Z" fill="#ff00ff"/>
<path d="M382.9 365.4L386.2 359.9L379.6 359.9Z" fill="#ff00ff"/>
<path d="M467.5 337.4L470.8 331.9L464.2 331.9Z" fill="#ff00ff"/>
<path d="M412.5 233.6L415.8 228.1L409.2 228.1Z" fill="#ff00ff"/>
<path d="M412 312.9L415.3 307.4L408.7 307.4Z" fill="#ff00ff"/>
<path d="M420.6 315.3L423.9 309.8L417.3 309.8Z" fill="#ff00ff"/>
<path d="M432.1 304.3L435.4 298.8L428.8 298.8Z" fill="#ff00ff"/>
<path d="M549.6 303.4L552.9 297.9L546.3 297.9Z" fill="#ff00ff"/>
<path d="M368.7 247.5L372 253L365.4 253Z" fill="#0000ff"/>
<path d="M360.8 252.1L364.1 257.6L357.5 257.6Z" fill="#0000ff"/>
<path d="M362.8 256.6L366.1 262.1L359.5 262.1Z" fill="#0000ff"/>
<path d="M389.6 274.6L392.9 280.1L386.3 280.1Z" fill="#0000ff"/>
<path d="M400.8 275.2L404.1 280.7L397.5 280.7Z" fill="#0000ff"/>
<path d="M399.3 288.7L402.6 294.2L396 294.2Z" fill="#0000ff"/>
<path d="M376.8 293.6L380.1 299.1L373.5 299.1Z" fill="#0000ff"/>
<path d="M398.8 298.5L402.1 304L395.5 304Z" fill="#0000ff"/>
<path d="M382.9 299.7L386.2 305.2L379.6 305.2Z" fill="#0000ff"/>
<path d="M389.6 298.5L392.9 304L386.3 304Z" fill="#0000ff"/>
<path d="M386.3 301.9L389.6 307.4L383 307.4Z" fill="#0000ff"/>
<path d="M394.2 301.9L397.5 307.4L390.9 307.4Z" fill="#0000ff"/>
<path d="M376.2 302.6L379.5 308.1L372.9 308.1Z" fill="#0000ff"/>
<path d="M373.3 306.8L376.6 312.3L370 312.3Z" fill="#0000ff"/>
<path d="M360.8 306.4L364.1 311.9L357.5 311.9Z" fill="#0000ff"/>
<path d="M397.1 305.9L400.4 311.4L393.8 311.4Z" fill="#0000ff"/>
<path d="M389.4 312.1L392.7 317.6L386.1 317.6Z" fill="#0000ff"/>
<path d="M364.5 315.1L367.8 320.6L361.2 320.6Z" fill="#0000ff"/>
<path d="M433.1 278L436.4 283.5L429.8 283.5Z" fill="#0000ff"/>
<path d="M412.5 296.4L415.8 301.9L409.2 301.9Z" fill="#0000ff"/>
<path d="M421.1 296.4L424.4 301.9L417.8 301.9Z" fill="#0000ff"/>
<path d="M427.2 298.3L430.5 303.8L423.9 303.8Z" fill="#0000ff"/>
<path d="M421.5 301.9L424.8 307.4L418.2 307.4Z" fill="#0000ff"/>
<path d="M434.9 296.1L438.2 301.6L431.6 301.6Z" fill="#0000ff"/>
<path d="M447.8 295L451.1 300.5L444.5 300.5Z" fill="#0000ff"/>
<path d="M443 303.8L446.3 309.3L439.7 309.3Z" fill="#0000ff"/>
<path d="M474.2 293.9L477.5 299.4L470.9 299.4Z" fill="#0000ff"/>
<rect x="371.6" y="215.3" width="5" height="5" fill="#000000"/>
<rect x="351.6" y="241.3" width="5" height="5" fill="#000000"/>
<rect x="400" y="283.6" width="5" height="5" fill="#000000"/>
<path d="M357.8 268L361.2 271.4L357.8 274.8L354.4 271.4Z" fill="#007a00"/>
<path d="M382.7 273.5L386.1 276.9L382.7 280.3L379.3 276.9Z" fill="#007a00"/>
<path d="M354.1 280.6L357.5 284L354.1 287.4L350.7 284Z" fill="#007a00"/>
<path d="M389.3 284L392.7 287.4L389.3 290.8L385.9 287.4Z" fill="#007a00"/>
<path d="M403.5 284.9L406.9 288.3L403.5 291.7L400.1 288.3Z" fill="#007a00"/>
<path d="M521.6 287L525 290.4L521.6 293.8L518.2 290.4Z" fill="#007a00"/>
<circle cx="79.1" cy="439.1" r="3.05" fill="#ff0000"/>
<circle cx="73" cy="469.1" r="3.05" fill="#ff0000"/>
<circle cx="58.2" cy="480.4" r="3.05" fill="#ff0000"/>
<circle cx="84" cy="505.9" r="3.05" fill="#ff0000"/>
<circle cx="112.2" cy="533.4" r="3.05" fill="#ff0000"/>
<circle cx="57.3" cy="535.4" r="3.05" fill="#ff0000"/>
<circle cx="63.1" cy="532.9" r="3.05" fill="#ff0000"/>
<circle cx="56.6" cy="542.7" r="3.05" fill="#ff0000"/>
<circle cx="74.2" cy="547" r="3.05" fill="#ff0000"/>
<circle cx="80.8" cy="539.6" r="3.05" fill="#ff0000"/>
<circle cx="81.5" cy="549.5" r="3.05" fill="#ff0000"/>
<circle cx="90.1" cy="541.5" r="3.05" fill="#ff0000"/>
<circle cx="98.3" cy="536.3" r="3.05" fill="#ff0000"/>
<circle cx="101.6" cy="535.4" r="3.05" fill="#ff0000"/>
<circle cx="96.2" cy="546.4" r="3.05" fill="#ff0000"/>
<circle cx="103.6" cy="547.6" r="3.05" fill="#ff0000"/>
<circle cx="170.3" cy="510.4" r="3.05" fill="#ff0000"/>
<circle cx="151.5" cy="516.9" r="3.05" fill="#ff0000"/>
<circle cx="140.5" cy="522.7" r="3.05" fill="#ff0000"/>
<circle cx="149.4" cy="527" r="3.05" fill="#ff0000"/>
<circle cx="126.1" cy="532.5" r="3.05" fill="#ff0000"/>
<circle cx="126.4" cy="536.2" r="3.05" fill="#ff0000"/>
<circle cx="116" cy="537.8" r="3.05" fill="#ff0000"/>
<circle cx="122.7" cy="539.2" r="3.05" fill="#ff0000"/>
<circle cx="126.1" cy="538.2" r="3.05" fill="#ff0000"/>
<circle cx="200.7" cy="483.1" r="3.05" fill="#ff0000"/>
<path d="M67.2 425.2L70.5 419.7L63.9 419.7Z" fill="#ff00ff"/>
<path d="M56.9 507.6L60.2 502.1L53.6 502.1Z" fill="#ff00ff"/>
<path d="M107.3 534.6L110.6 529.1L104 529.1Z" fill="#ff00ff"/>
<path d="M56.3 560.7L59.6 555.2L53 555.2Z" fill="#ff00ff"/>
<path d="M61 561.7L64.3 556.2L57.7 556.2Z" fill="#ff00ff"/>
<path d="M68.9 561.1L72.2 555.6L65.6 555.6Z" fill="#ff00ff"/>
<path d="M72 560.5L75.3 555L68.7 555Z" fill="#ff00ff"/>
<path d="M75 560.9L78.3 555.4L71.7 555.4Z" fill="#ff00ff"/>
<path d="M77.5 561.3L80.8 555.8L74.2 555.8Z" fill="#ff00ff"/>
<path d="M65.5 575.6L68.8 570.1L62.2 570.1Z" fill="#ff00ff"/>
<path d="M164.8 551.3L168.1 545.8L161.5 545.8Z" fill="#ff00ff"/>
<path d="M120.3 569.1L123.6 563.6L117 563.6Z" fill="#ff00ff"/>
<path d="M84.7 506.7L88 512.2L81.4 512.2Z" fill="#0000ff"/>
<path d="M90.4 518L93.7 523.5L87.1 523.5Z" fill="#0000ff"/>
<path d="M106.7 522L110 527.5L103.4 527.5Z" fill="#0000ff"/>
<path d="M112.2 525.4L115.5 530.9L108.9 530.9Z" fill="#0000ff"/>
<path d="M112.6 534.8L115.9 540.3L109.3 540.3Z" fill="#0000ff"/>
<path d="M112.4 545.8L115.7 551.3L109.1 551.3Z" fill="#0000ff"/>
<path d="M68 529L71.3 534.5L64.7 534.5Z" fill="#0000ff"/>
<path d="M65.2 534.9L68.5 540.4L61.9 540.4Z" fill="#0000ff"/>
<path d="M65.8 538.6L69.1 544.1L62.5 544.1Z" fill="#0000ff"/>
<path d="M60 541.3L63.3 546.8L56.7 546.8Z" fill="#0000ff"/>
<path d="M57.5 546.6L60.8 552.1L54.2 552.1Z" fill="#0000ff"/>
<path d="M63.4 546.9L66.7 552.4L60.1 552.4Z" fill="#0000ff"/>
<path d="M70.7 542.8L74 548.3L67.4 548.3Z" fill="#0000ff"/>
<path d="M78.7 540.8L82 546.3L75.4 546.3Z" fill="#0000ff"/>
<path d="M90.7 545.7L94 551.2L87.4 551.2Z" fill="#0000ff"/>
<path d="M90 550.2L93.3 555.7L86.7 555.7Z" fill="#0000ff"/>
<path d="M94.8 534.4L98.1 539.9L91.5 539.9Z" fill="#0000ff"/>
<path d="M97.7 537.6L101 543.1L94.4 543.1Z" fill="#0000ff"/>
<path d="M98.9 545L102.2 550.5L95.6 550.5Z" fill="#0000ff"/>
<path d="M102 544.7L105.3 550.2L98.7 550.2Z" fill="#0000ff"/>
<path d="M145.8 515L149.1 520.5L142.5 520.5Z" fill="#0000ff"/>
<path d="M142.4 521.6L145.7 527.1L139.1 527.1Z" fill="#0000ff"/>
<path d="M143.7 532.2L147 537.7L140.4 537.7Z" fill="#0000ff"/>
<path d="M118.8 528.1L122.1 533.6L115.5 533.6Z" fill="#0000ff"/>
<path d="M122.5 531.2L125.8 536.7L119.2 536.7Z" fill="#0000ff"/>
<path d="M132 527L135.3 532.5L128.7 532.5Z" fill="#0000ff"/>
<path d="M132.2 533.3L135.5 538.8L128.9 538.8Z" fill="#0000ff"/>
<path d="M126.5 547.4L129.8 552.9L123.2 552.9Z" fill="#0000ff"/>
<rect x="73.5" y="562.4" width="5" height="5" fill="#000000"/>
<rect x="100.7" y="556.3" width="5" height="5" fill="#000000"/>
<path d="M56.9 532.9L60.3 536.3L56.9 539.7L53.5 536.3Z" fill="#007a00"/>
<path d="M80.3 533.6L83.7 537L80.3 540.4L76.9 537Z" fill="#007a00"/>
<path d="M84.2 548.1L87.6 551.5L84.2 554.9L80.8 551.5Z" fill="#007a00"/>
<path d="M104.1 547.7L107.5 551.1L104.1 554.5L100.7 551.1Z" fill="#007a00"/>
<path d="M60.7 553.3L64.1 556.7L60.7 560.1L57.3 556.7Z" fill="#007a00"/>
<path d="M66.1 551.1L69.5 554.5L66.1 557.9L62.7 554.5Z" fill="#007a00"/>
<path d="M90.4 556L93.8 559.4L90.4 562.8L87 559.4Z" fill="#007a00"/>
<path d="M215.6 461.2L219 464.6L215.6 468L212.2 464.6Z" fill="#007a00"/>
<path d="M256.8 506.8L260.2 510.2L256.8 513.6L253.4 510.2Z" fill="#007a00"/>
<circle cx="392.6" cy="538.1" r="3.05" fill="#ff0000"/>
<circle cx="404.2" cy="554.6" r="3.05" fill="#ff0000"/>
<circle cx="439" cy="505.6" r="3.05" fill="#ff0000"/>
<circle cx="428.4" cy="524.2" r="3.05" fill="#ff0000"/>
<circle cx="409.2" cy="526.4" r="3.05" fill="#ff0000"/>
<circle cx="443.9" cy="526.7" r="3.05" fill="#ff0000"/>
<circle cx="454.9" cy="531" r="3.05" fill="#ff0000"/>
<circle cx="460.1" cy="533.8" r="3.05" fill="#ff0000"/>
<circle cx="433.7" cy="535.9" r="3.05" fill="#ff0000"/>
<circle cx="428.2" cy="540.8" r="3.05" fill="#ff0000"/>
<circle cx="409.2" cy="545.7" r="3.05" fill="#ff0000"/>
<circle cx="431.3" cy="546.9" r="3.05" fill="#ff0000"/>
<circle cx="549.2" cy="430.5" r="3.05" fill="#ff0000"/>
<circle cx="513" cy="462.7" r="3.05" fill="#ff0000"/>
<circle cx="534.5" cy="480.7" r="3.05" fill="#ff0000"/>
<circle cx="486.1" cy="509.2" r="3.05" fill="#ff0000"/>
<circle cx="502.7" cy="512.3" r="3.05" fill="#ff0000"/>
<path d="M343.5 577.4L346.8 571.9L340.2 571.9Z" fill="#ff00ff"/>
<path d="M361 570.4L364.3 564.9L357.7 564.9Z" fill="#ff00ff"/>
<path d="M378.5 562.1L381.8 556.6L375.2 556.6Z" fill="#ff00ff"/>
<path d="M380.3 551.4L383.6 545.9L377 545.9Z" fill="#ff00ff"/>
<path d="M381.5 553.9L384.8 548.4L378.2 548.4Z" fill="#ff00ff"/>
<path d="M380.9 556.3L384.2 550.8L377.6 550.8Z" fill="#ff00ff"/>
<path d="M382.1 556.9L385.4 551.4L378.8 551.4Z" fill="#ff00ff"/>
<path d="M407 536.9L410.3 531.4L403.7 531.4Z" fill="#ff00ff"/>
<path d="M409.6 551.6L412.9 546.1L406.3 546.1Z" fill="#ff00ff"/>
<path d="M485 476.2L488.3 470.7L481.7 470.7Z" fill="#ff00ff"/>
<path d="M399.3 530.3L402.6 535.8L396 535.8Z" fill="#0000ff"/>
<path d="M390.1 551.7L393.4 557.2L386.8 557.2Z" fill="#0000ff"/>
<path d="M394 551.7L397.3 557.2L390.7 557.2Z" fill="#0000ff"/>
<path d="M404 548.3L407.3 553.8L400.7 553.8Z" fill="#0000ff"/>
<path d="M444.4 502L447.7 507.5L441.1 507.5Z" fill="#0000ff"/>
<path d="M420.8 518.1L424.1 523.6L417.5 523.6Z" fill="#0000ff"/>
<path d="M414.7 520.3L418 525.8L411.4 525.8Z" fill="#0000ff"/>
<path d="M423 525L426.3 530.5L419.7 530.5Z" fill="#0000ff"/>
<path d="M431.6 526L434.9 531.5L428.3 531.5Z" fill="#0000ff"/>
<path d="M448.4 521.6L451.7 527.1L445.1 527.1Z" fill="#0000ff"/>
<path d="M453.7 518.3L457 523.8L450.4 523.8Z" fill="#0000ff"/>
<path d="M440.7 530.2L444 535.7L437.4 535.7Z" fill="#0000ff"/>
<path d="M410.8 527.7L414.1 533.2L407.5 533.2Z" fill="#0000ff"/>
<path d="M416.1 530.4L419.4 535.9L412.8 535.9Z" fill="#0000ff"/>
<path d="M428.2 533.6L431.5 539.1L424.9 539.1Z" fill="#0000ff"/>
<path d="M413.9 538.2L417.2 543.7L410.6 543.7Z" fill="#0000ff"/>
<path d="M417.4 541.2L420.7 546.7L414.1 546.7Z" fill="#0000ff"/>
<path d="M433.3 537.5L436.6 543L430 543Z" fill="#0000ff"/>
<path d="M431.6 540.7L434.9 546.2L428.3 546.2Z" fill="#0000ff"/>
<path d="M439.5 537L442.8 542.5L436.2 542.5Z" fill="#0000ff"/>
<path d="M436.2 542.4L439.5 547.9L432.9 547.9Z" fill="#0000ff"/>
<path d="M435.2 547.1L438.5 552.6L431.9 552.6Z" fill="#0000ff"/>
<path d="M446.6 540.9L449.9 546.4L443.3 546.4Z" fill="#0000ff"/>
<path d="M513.1 469.3L516.4 474.8L509.8 474.8Z" fill="#0000ff"/>
<path d="M517.4 474.8L520.7 480.3L514.1 480.3Z" fill="#0000ff"/>
<path d="M474.7 490.5L478 496L471.4 496Z" fill="#0000ff"/>
<path d="M503.2 498L506.5 503.5L499.9 503.5Z" fill="#0000ff"/>
<rect x="360" y="557.9" width="5" height="5" fill="#000000"/>
<rect x="385.8" y="538.7" width="5" height="5" fill="#000000"/>
<path d="M376.6 563.9L380 567.3L376.6 570.7L373.2 567.3Z" fill="#007a00"/>
<path d="M383.4 543.3L386.8 546.7L383.4 550.1L380 546.7Z" fill="#007a00"/>
<path d="M396.2 537.4L399.6 540.8L396.2 544.2L392.8 540.8Z" fill="#007a00"/>
<path d="M388.5 547.9L391.9 551.3L388.5 554.7L385.1 551.3Z" fill="#007a00"/>
<path d="M393.8 548.2L397.2 551.6L393.8 555L390.4 551.6Z" fill="#007a00"/>
<path d="M433.1 513.2L436.5 516.6L433.1 520L429.7 516.6Z" fill="#007a00"/>
<path d="M436.5 513.2L439.9 516.6L436.5 520L433.1 516.6Z" fill="#007a00"/>
<path d="M539.4 450.2L542.8 453.6L539.4 457L536 453.6Z" fill="#007a00"/>
<path d="M539.4 453.6L542.8 457L539.4 460.4L536 457Z" fill="#007a00"/>
<circle cx="120.6" cy="690.1" r="3.05" fill="#ff0000"/>
<circle cx="99.4" cy="750.7" r="3.05" fill="#ff0000"/>
<circle cx="90.2" cy="761.5" r="3.05" fill="#ff0000"/>
<circle cx="90.8" cy="764.2" r="3.05" fill="#ff0000"/>
<circle cx="142" cy="728" r="3.05" fill="#ff0000"/>
<circle cx="123.4" cy="739.9" r="3.05" fill="#ff0000"/>
<circle cx="121.9" cy="743" r="3.05" fill="#ff0000"/>
<circle cx="109.7" cy="743" r="3.05" fill="#ff0000"/>
<circle cx="112.6" cy="747.9" r="3.05" fill="#ff0000"/>
<circle cx="114.2" cy="749.7" r="3.05" fill="#ff0000"/>
<circle cx="119.7" cy="754" r="3.05" fill="#ff0000"/>
<circle cx="215.5" cy="732.6" r="3.05" fill="#ff0000"/>
<path d="M59.8 648L63.1 642.5L56.5 642.5Z" fill="#ff00ff"/>
<path d="M111.8 647.7L115.1 642.2L108.5 642.2Z" fill="#ff00ff"/>
<path d="M48.8 662.1L52.1 656.6L45.5 656.6Z" fill="#ff00ff"/>
<path d="M82.2 664.7L85.5 659.2L78.9 659.2Z" fill="#ff00ff"/>
<path d="M83.3 679.9L86.6 674.4L80 674.4Z" fill="#ff00ff"/>
<path d="M87.3 688.7L90.6 683.2L84 683.2Z" fill="#ff00ff"/>
<path d="M72.2 697.9L75.5 692.4L68.9 692.4Z" fill="#ff00ff"/>
<path d="M118.2 709.7L121.5 704.2L114.9 704.2Z" fill="#ff00ff"/>
<path d="M99.4 725.5L102.7 720L96.1 720Z" fill="#ff00ff"/>
<path d="M259.5 764.3L262.8 758.8L256.2 758.8Z" fill="#ff00ff"/>
<path d="M201.2 780.4L204.5 774.9L197.9 774.9Z" fill="#ff00ff"/>
<path d="M113 699.2L116.3 704.7L109.7 704.7Z" fill="#0000ff"/>
<path d="M117.4 708.8L120.7 714.3L114.1 714.3Z" fill="#0000ff"/>
<path d="M95.7 710.7L99 716.2L92.4 716.2Z" fill="#0000ff"/>
<path d="M92.7 715L96 720.5L89.4 720.5Z" fill="#0000ff"/>
<path d="M90.2 720.5L93.5 726L86.9 726Z" fill="#0000ff"/>
<path d="M91.8 722L95.1 727.5L88.5 727.5Z" fill="#0000ff"/>
<path d="M99.4 734.2L102.7 739.7L96.1 739.7Z" fill="#0000ff"/>
<path d="M103.7 734.2L107 739.7L100.4 739.7Z" fill="#0000ff"/>
<path d="M109.8 734.8L113.1 740.3L106.5 740.3Z" fill="#0000ff"/>
<path d="M98.2 737.1L101.5 742.6L94.9 742.6Z" fill="#0000ff"/>
<path d="M82.2 739.9L85.5 745.4L78.9 745.4Z" fill="#0000ff"/>
<path d="M78.4 749.9L81.7 755.4L75.1 755.4Z" fill="#0000ff"/>
<path d="M96.7 754.3L100 759.8L93.4 759.8Z" fill="#0000ff"/>
<path d="M108.7 750.2L112 755.7L105.4 755.7Z" fill="#0000ff"/>
<path d="M107.4 763.4L110.7 768.9L104.1 768.9Z" fill="#0000ff"/>
<path d="M48.9 767.7L52.2 773.2L45.6 773.2Z" fill="#0000ff"/>
<path d="M77.7 773.6L81 779.1L74.4 779.1Z" fill="#0000ff"/>
<path d="M109.2 773.3L112.5 778.8L105.9 778.8Z" fill="#0000ff"/>
<path d="M93.4 779.9L96.7 785.4L90.1 785.4Z" fill="#0000ff"/>
<path d="M116 732.1L119.3 737.6L112.7 737.6Z" fill="#0000ff"/>
<path d="M121.9 730.5L125.2 736L118.6 736Z" fill="#0000ff"/>
<path d="M127.7 736.4L131 741.9L124.4 741.9Z" fill="#0000ff"/>
<path d="M117.9 740.1L121.2 745.6L114.6 745.6Z" fill="#0000ff"/>
<path d="M118.2 743.2L121.5 748.7L114.9 748.7Z" fill="#0000ff"/>
<path d="M127.7 752.4L131 757.9L124.4 757.9Z" fill="#0000ff"/>
<path d="M124.4 757.9L127.7 763.4L121.1 763.4Z" fill="#0000ff"/>
<path d="M151.6 750.5L154.9 756L148.3 756Z" fill="#0000ff"/>
<path d="M158.3 766.5L161.6 772L155 772Z" fill="#0000ff"/>
<path d="M140.8 769.5L144.1 775L137.5 775Z" fill="#0000ff"/>
<path d="M192.4 648.7L195.7 654.2L189.1 654.2Z" fill="#0000ff"/>
<rect x="67.3" y="786.3" width="5" height="5" fill="#000000"/>
<rect x="96.8" y="787.4" width="5" height="5" fill="#000000"/>
<path d="M98.9 751.3L102.3 754.7L98.9 758.1L95.5 754.7Z" fill="#007a00"/>
<path d="M59.2 777.5L62.6 780.9L59.2 784.3L55.8 780.9Z" fill="#007a00"/>
<path d="M90.3 779.1L93.7 782.5L90.3 785.9L86.9 782.5Z" fill="#007a00"/>
<path d="M92.7 776.6L96.1 780L92.7 783.4L89.3 780Z" fill="#007a00"/>
<path d="M135 774.9L138.4 778.3L135 781.7L131.6 778.3Z" fill="#007a00"/>
<circle cx="342.4" cy="776.3" r="3.05" fill="#ff0000"/>
<circle cx="342.4" cy="786.8" r="3.05" fill="#ff0000"/>
<circle cx="366" cy="774.9" r="3.05" fill="#ff0000"/>
<circle cx="401" cy="779.8" r="3.05" fill="#ff0000"/>
<circle cx="412.4" cy="763.2" r="3.05" fill="#ff0000"/>
<circle cx="424.7" cy="767.6" r="3.05" fill="#ff0000"/>
<circle cx="483" cy="727.2" r="3.05" fill="#ff0000"/>
<circle cx="483" cy="736.1" r="3.05" fill="#ff0000"/>
<circle cx="459.4" cy="736.6" r="3.05" fill="#ff0000"/>
<circle cx="453" cy="739.9" r="3.05" fill="#ff0000"/>
<circle cx="453" cy="753.1" r="3.05" fill="#ff0000"/>
<circle cx="441.1" cy="759.7" r="3.05" fill="#ff0000"/>
<circle cx="441.1" cy="769.9" r="3.05" fill="#ff0000"/>
<circle cx="483" cy="770.9" r="3.05" fill="#ff0000"/>
<circle cx="436.3" cy="776" r="3.05" fill="#ff0000"/>
<circle cx="459.4" cy="775.5" r="3.05" fill="#ff0000"/>
<circle cx="465.2" cy="785.1" r="3.05" fill="#ff0000"/>
<circle cx="506.3" cy="760.8" r="3.05" fill="#ff0000"/>
<circle cx="553.3" cy="753.9" r="3.05" fill="#ff0000"/>
<path d="M416.5 716.1L419.8 721.6L413.2 721.6Z" fill="#0000ff"/>
<path d="M429.6 708.4L432.9 713.9L426.3 713.9Z" fill="#0000ff"/>
<path d="M429.3 723.9L432.6 729.4L426 729.4Z" fill="#0000ff"/>
<path d="M429.3 737.7L432.6 743.2L426 743.2Z" fill="#0000ff"/>
<path d="M342.4 778.6L345.7 784.1L339.1 784.1Z" fill="#0000ff"/>
<path d="M389.7 761.5L393 767L386.4 767Z" fill="#0000ff"/>
<path d="M412.4 755.9L415.7 761.4L409.1 761.4Z" fill="#0000ff"/>
<path d="M424.7 761.7L428 767.2L421.4 767.2Z" fill="#0000ff"/>
<path d="M429.3 779.6L432.6 785.1L426 785.1Z" fill="#0000ff"/>
<path d="M506.3 652.6L509.6 658.1L503 658.1Z" fill="#0000ff"/>
<path d="M453.5 659.7L456.8 665.2L450.2 665.2Z" fill="#0000ff"/>
<path d="M465.2 663.5L468.5 669L461.9 669Z" fill="#0000ff"/>
<path d="M494.9 663.5L498.2 669L491.6 669Z" fill="#0000ff"/>
<path d="M483 669.1L486.3 674.6L479.7 674.6Z" fill="#0000ff"/>
<path d="M453.5 672.9L456.8 678.4L450.2 678.4Z" fill="#0000ff"/>
<path d="M447.9 674.7L451.2 680.2L444.6 680.2Z" fill="#0000ff"/>
<path d="M523.4 682.3L526.7 687.8L520.1 687.8Z" fill="#0000ff"/>
<path d="M483 685.1L486.3 690.6L479.7 690.6Z" fill="#0000ff"/>
<path d="M516.5 696.2L519.8 701.7L513.2 701.7Z" fill="#0000ff"/>
<path d="M471.3 694.5L474.6 700L468 700Z" fill="#0000ff"/>
<path d="M459.4 705.1L462.7 710.6L456.1 710.6Z" fill="#0000ff"/>
<path d="M450.5 717.3L453.8 722.8L447.2 722.8Z" fill="#0000ff"/>
<path d="M476.4 712.5L479.7 718L473.1 718Z" fill="#0000ff"/>
<path d="M453 726.9L456.3 732.4L449.7 732.4Z" fill="#0000ff"/>
<path d="M465.2 728.9L468.5 734.4L461.9 734.4Z" fill="#0000ff"/>
<path d="M436.5 735L439.8 740.5L433.2 740.5Z" fill="#0000ff"/>
<path d="M441.6 734.5L444.9 740L438.3 740Z" fill="#0000ff"/>
<path d="M459.4 736.5L462.7 742L456.1 742Z" fill="#0000ff"/>
<path d="M476.4 734.5L479.7 740L473.1 740Z" fill="#0000ff"/>
<path d="M476.4 749.2L479.7 754.7L473.1 754.7Z" fill="#0000ff"/>
<path d="M465.2 761.9L468.5 767.4L461.9 767.4Z" fill="#0000ff"/>
<path d="M476.4 764.5L479.7 770L473.1 770Z" fill="#0000ff"/>
<path d="M366 639.3L369.3 633.8L362.7 633.8Z" fill="#ff00ff"/>
<path d="M401 639.3L404.3 633.8L397.7 633.8Z" fill="#ff00ff"/>
<path d="M398.9 643.3L402.2 637.8L395.6 637.8Z" fill="#ff00ff"/>
<path d="M389.7 659.4L393 653.9L386.4 653.9Z" fill="#ff00ff"/>
<path d="M398.9 676.1L402.2 670.6L395.6 670.6Z" fill="#ff00ff"/>
<path d="M377.9 692.3L381.2 686.8L374.6 686.8Z" fill="#ff00ff"/>
<path d="M384.9 694.1L388.2 688.6L381.6 688.6Z" fill="#ff00ff"/>
<path d="M386.2 701.1L389.5 695.6L382.9 695.6Z" fill="#ff00ff"/>
<path d="M422.1 689.2L425.4 683.7L418.8 683.7Z" fill="#ff00ff"/>
<path d="M422.1 701.1L425.4 695.6L418.8 695.6Z" fill="#ff00ff"/>
<path d="M398.9 721.5L402.2 716L395.6 716Z" fill="#ff00ff"/>
<path d="M406.7 724.7L410 719.2L403.4 719.2Z" fill="#ff00ff"/>
<path d="M342.4 764.8L345.7 759.3L339.1 759.3Z" fill="#ff00ff"/>
<path d="M342.4 771.8L345.7 766.3L339.1 766.3Z" fill="#ff00ff"/>
<path d="M342.4 781.8L345.7 776.3L339.1 776.3Z" fill="#ff00ff"/>
<path d="M445.4 695.7L448.7 690.2L442.1 690.2Z" fill="#ff00ff"/>
<rect x="473.9" y="741.2" width="5" height="5" fill="#000000"/>
<rect x="471.6" y="745.1" width="5" height="5" fill="#000000"/>
<path d="M336.3 782.5L339.7 785.9L336.3 789.3L332.9 785.9Z" fill="#007a00"/>
<path d="M342.4 782.5L345.8 785.9L342.4 789.3L339 785.9Z" fill="#007a00"/>
<path d="M363.9 782.5L367.3 785.9L363.9 789.3L360.5 785.9Z" fill="#007a00"/>
<path d="M460.6 716.1L464 719.5L460.6 722.9L457.2 719.5Z" fill="#007a00"/>
<path d="M462.7 715L466.1 718.4L462.7 721.8L459.3 718.4Z" fill="#007a00"/>
<path d="M483 715L486.4 718.4L483 721.8L479.6 718.4Z" fill="#007a00"/>
<path d="M462.7 775.9L466.1 779.3L462.7 782.7L459.3 779.3Z" fill="#007a00"/>
</svg>
</body></html>
